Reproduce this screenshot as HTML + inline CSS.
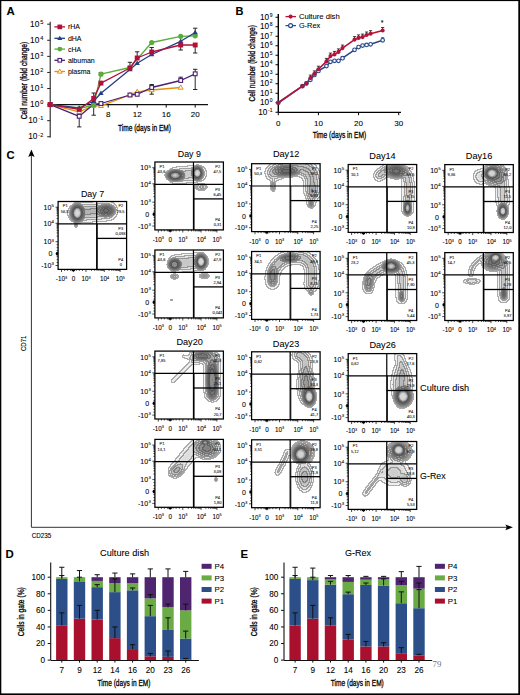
<!DOCTYPE html>
<html><head><meta charset="utf-8"><style>
html,body{margin:0;padding:0;background:#fff;}
svg{display:block;font-family:"Liberation Sans", sans-serif;}
</style></head><body>
<svg width="520" height="695" viewBox="0 0 520 695">
<defs><radialGradient id="rp"><stop offset="0" stop-opacity="1"/><stop offset="0.3" stop-opacity="0.96"/><stop offset="0.5" stop-opacity="0.8"/><stop offset="0.75" stop-opacity="0.4"/><stop offset="1" stop-opacity="0"/></radialGradient><radialGradient id="rg"><stop offset="0" stop-opacity="1"/><stop offset="0.3" stop-opacity="0.92"/><stop offset="0.55" stop-opacity="0.62"/><stop offset="0.8" stop-opacity="0.25"/><stop offset="1" stop-opacity="0"/></radialGradient><filter id="cf1" filterUnits="userSpaceOnUse" x="58.10" y="201.50" width="68.50" height="67.90" color-interpolation-filters="sRGB"><feGaussianBlur stdDeviation="0.6"/><feColorMatrix type="matrix" values="0 0 0 1 0  0 0 0 1 0  0 0 0 1 0  0 0 0 0 1" result="dens"/><feComponentTransfer in="dens" result="q"><feFuncR type="discrete" tableValues="0.0000 0.0000 0.0000 0.0000 0.0000 0.1250 0.1250 0.1250 0.1250 0.1250 0.1250 0.1250 0.1250 0.1250 0.1250 0.1250 0.1250 0.1250 0.1250 0.1250 0.1250 0.1250 0.1250 0.1250 0.2500 0.2500 0.2500 0.2500 0.2500 0.2500 0.2500 0.2500 0.2500 0.2500 0.2500 0.2500 0.2500 0.2500 0.2500 0.2500 0.2500 0.2500 0.2500 0.2500 0.2500 0.2500 0.2500 0.2500 0.3750 0.3750 0.3750 0.3750 0.3750 0.3750 0.3750 0.3750 0.3750 0.3750 0.3750 0.3750 0.3750 0.3750 0.3750 0.3750 0.3750 0.3750 0.3750 0.3750 0.3750 0.3750 0.3750 0.3750 0.3750 0.3750 0.3750 0.3750 0.5000 0.5000 0.5000 0.5000 0.5000 0.5000 0.5000 0.5000 0.5000 0.5000 0.5000 0.5000 0.5000 0.5000 0.5000 0.5000 0.5000 0.5000 0.5000 0.5000 0.5000 0.5000 0.5000 0.5000 0.5000 0.5000 0.5000 0.5000 0.6250 0.6250 0.6250 0.6250 0.6250 0.6250 0.6250 0.6250 0.6250 0.6250 0.6250 0.6250 0.6250 0.6250 0.6250 0.6250 0.6250 0.6250 0.6250 0.6250 0.6250 0.6250 0.6250 0.6250 0.6250 0.6250 0.6250 0.6250 0.7500 0.7500 0.7500 0.7500 0.7500 0.7500 0.7500 0.7500 0.7500 0.7500 0.7500 0.7500 0.7500 0.7500 0.7500 0.7500 0.7500 0.7500 0.7500 0.7500 0.7500 0.7500 0.7500 0.7500 0.7500 0.7500 0.7500 0.7500 0.8750 0.8750 0.8750 0.8750 0.8750 0.8750 0.8750 0.8750 0.8750 0.8750 0.8750 0.8750 0.8750 0.8750 0.8750 0.8750 0.8750 0.8750 0.8750 0.8750 0.8750 0.8750 0.8750 0.8750 1.0000 1.0000 1.0000 1.0000 1.0000 1.0000 1.0000 1.0000 1.0000 1.0000 1.0000 1.0000 1.0000 1.0000 1.0000 1.0000"/><feFuncG type="discrete" tableValues="0.0000 0.0000 0.0000 0.0000 0.0000 0.1250 0.1250 0.1250 0.1250 0.1250 0.1250 0.1250 0.1250 0.1250 0.1250 0.1250 0.1250 0.1250 0.1250 0.1250 0.1250 0.1250 0.1250 0.1250 0.2500 0.2500 0.2500 0.2500 0.2500 0.2500 0.2500 0.2500 0.2500 0.2500 0.2500 0.2500 0.2500 0.2500 0.2500 0.2500 0.2500 0.2500 0.2500 0.2500 0.2500 0.2500 0.2500 0.2500 0.3750 0.3750 0.3750 0.3750 0.3750 0.3750 0.3750 0.3750 0.3750 0.3750 0.3750 0.3750 0.3750 0.3750 0.3750 0.3750 0.3750 0.3750 0.3750 0.3750 0.3750 0.3750 0.3750 0.3750 0.3750 0.3750 0.3750 0.3750 0.5000 0.5000 0.5000 0.5000 0.5000 0.5000 0.5000 0.5000 0.5000 0.5000 0.5000 0.5000 0.5000 0.5000 0.5000 0.5000 0.5000 0.5000 0.5000 0.5000 0.5000 0.5000 0.5000 0.5000 0.5000 0.5000 0.5000 0.5000 0.6250 0.6250 0.6250 0.6250 0.6250 0.6250 0.6250 0.6250 0.6250 0.6250 0.6250 0.6250 0.6250 0.6250 0.6250 0.6250 0.6250 0.6250 0.6250 0.6250 0.6250 0.6250 0.6250 0.6250 0.6250 0.6250 0.6250 0.6250 0.7500 0.7500 0.7500 0.7500 0.7500 0.7500 0.7500 0.7500 0.7500 0.7500 0.7500 0.7500 0.7500 0.7500 0.7500 0.7500 0.7500 0.7500 0.7500 0.7500 0.7500 0.7500 0.7500 0.7500 0.7500 0.7500 0.7500 0.7500 0.8750 0.8750 0.8750 0.8750 0.8750 0.8750 0.8750 0.8750 0.8750 0.8750 0.8750 0.8750 0.8750 0.8750 0.8750 0.8750 0.8750 0.8750 0.8750 0.8750 0.8750 0.8750 0.8750 0.8750 1.0000 1.0000 1.0000 1.0000 1.0000 1.0000 1.0000 1.0000 1.0000 1.0000 1.0000 1.0000 1.0000 1.0000 1.0000 1.0000"/><feFuncB type="discrete" tableValues="0.0000 0.0000 0.0000 0.0000 0.0000 0.1250 0.1250 0.1250 0.1250 0.1250 0.1250 0.1250 0.1250 0.1250 0.1250 0.1250 0.1250 0.1250 0.1250 0.1250 0.1250 0.1250 0.1250 0.1250 0.2500 0.2500 0.2500 0.2500 0.2500 0.2500 0.2500 0.2500 0.2500 0.2500 0.2500 0.2500 0.2500 0.2500 0.2500 0.2500 0.2500 0.2500 0.2500 0.2500 0.2500 0.2500 0.2500 0.2500 0.3750 0.3750 0.3750 0.3750 0.3750 0.3750 0.3750 0.3750 0.3750 0.3750 0.3750 0.3750 0.3750 0.3750 0.3750 0.3750 0.3750 0.3750 0.3750 0.3750 0.3750 0.3750 0.3750 0.3750 0.3750 0.3750 0.3750 0.3750 0.5000 0.5000 0.5000 0.5000 0.5000 0.5000 0.5000 0.5000 0.5000 0.5000 0.5000 0.5000 0.5000 0.5000 0.5000 0.5000 0.5000 0.5000 0.5000 0.5000 0.5000 0.5000 0.5000 0.5000 0.5000 0.5000 0.5000 0.5000 0.6250 0.6250 0.6250 0.6250 0.6250 0.6250 0.6250 0.6250 0.6250 0.6250 0.6250 0.6250 0.6250 0.6250 0.6250 0.6250 0.6250 0.6250 0.6250 0.6250 0.6250 0.6250 0.6250 0.6250 0.6250 0.6250 0.6250 0.6250 0.7500 0.7500 0.7500 0.7500 0.7500 0.7500 0.7500 0.7500 0.7500 0.7500 0.7500 0.7500 0.7500 0.7500 0.7500 0.7500 0.7500 0.7500 0.7500 0.7500 0.7500 0.7500 0.7500 0.7500 0.7500 0.7500 0.7500 0.7500 0.8750 0.8750 0.8750 0.8750 0.8750 0.8750 0.8750 0.8750 0.8750 0.8750 0.8750 0.8750 0.8750 0.8750 0.8750 0.8750 0.8750 0.8750 0.8750 0.8750 0.8750 0.8750 0.8750 0.8750 1.0000 1.0000 1.0000 1.0000 1.0000 1.0000 1.0000 1.0000 1.0000 1.0000 1.0000 1.0000 1.0000 1.0000 1.0000 1.0000"/></feComponentTransfer><feMorphology in="q" operator="erode" radius="0.5" result="qe"/><feComposite in="q" in2="qe" operator="arithmetic" k2="8" k3="-8" result="edge0"/><feComponentTransfer in="dens" result="inv"><feFuncR type="linear" slope="-0.9" intercept="1.05"/><feFuncG type="linear" slope="-0.9" intercept="1.05"/><feFuncB type="linear" slope="-0.9" intercept="1.05"/></feComponentTransfer><feComposite in="edge0" in2="inv" operator="arithmetic" k1="1" result="edge"/><feComponentTransfer in="dens" result="fill"><feFuncR type="table" tableValues="1.000 1.000 1.000 1.000 1.000 1.000 1.000 0.975 0.968 0.966 0.964 0.962 0.959 0.957 0.955 0.953 0.951 0.948 0.946 0.944 0.942 0.940 0.937 0.935 0.933 0.931 0.929 0.926 0.924 0.922 0.920 0.917 0.915 0.913 0.911 0.909 0.906 0.904 0.902 0.900 0.898 0.895 0.893 0.891 0.889 0.887 0.884 0.882 0.880 0.877 0.873 0.870 0.867 0.863 0.860 0.857 0.853 0.850 0.847 0.843 0.840 0.837 0.833 0.830 0.827 0.823 0.820 0.817 0.813 0.810 0.807 0.803 0.800 0.797 0.793 0.790 0.787 0.783 0.780 0.777 0.773 0.770 0.767 0.763 0.760 0.757 0.753 0.750 0.747 0.743 0.740 0.737 0.733 0.730 0.727 0.723 0.720 0.717 0.714 0.711 0.708 0.705 0.703 0.700 0.697 0.694 0.691 0.688 0.685 0.682 0.679 0.676 0.673 0.670 0.667 0.665 0.662 0.659 0.656 0.653 0.650 0.647 0.644 0.641 0.638 0.635 0.632 0.630 0.627 0.624 0.621 0.618 0.615 0.612 0.609 0.606 0.603 0.600 0.597 0.595 0.592 0.589 0.586 0.583 0.580 0.577 0.574 0.571 0.569 0.566 0.563 0.560 0.557 0.554 0.551 0.548 0.546 0.543 0.540 0.537 0.534 0.531 0.528 0.526 0.523 0.520 0.517 0.514 0.511 0.508 0.506 0.503 0.500 0.497 0.494 0.491 0.488 0.485 0.483 0.480 0.477 0.474 0.471 0.469 0.467 0.465 0.462 0.460 0.458 0.456 0.454 0.452 0.450 0.448 0.446 0.444 0.442 0.440 0.438 0.435 0.433 0.431 0.429 0.427 0.425 0.423 0.421 0.427 0.438 0.449 0.460 0.471 0.482 0.493 0.504 0.516 0.527 0.538 0.549 0.560 0.571 0.585 0.608 0.630 0.653 0.676 0.699 0.722 0.745 0.768 0.791 0.804 0.810 0.816 0.823 0.829 0.835 0.841 0.848 0.854 0.860"/><feFuncG type="table" tableValues="1.000 1.000 1.000 1.000 1.000 1.000 1.000 0.975 0.968 0.966 0.964 0.962 0.959 0.957 0.955 0.953 0.951 0.948 0.946 0.944 0.942 0.940 0.937 0.935 0.933 0.931 0.929 0.926 0.924 0.922 0.920 0.917 0.915 0.913 0.911 0.909 0.906 0.904 0.902 0.900 0.898 0.895 0.893 0.891 0.889 0.887 0.884 0.882 0.880 0.877 0.873 0.870 0.867 0.863 0.860 0.857 0.853 0.850 0.847 0.843 0.840 0.837 0.833 0.830 0.827 0.823 0.820 0.817 0.813 0.810 0.807 0.803 0.800 0.797 0.793 0.790 0.787 0.783 0.780 0.777 0.773 0.770 0.767 0.763 0.760 0.757 0.753 0.750 0.747 0.743 0.740 0.737 0.733 0.730 0.727 0.723 0.720 0.717 0.714 0.711 0.708 0.705 0.703 0.700 0.697 0.694 0.691 0.688 0.685 0.682 0.679 0.676 0.673 0.670 0.667 0.665 0.662 0.659 0.656 0.653 0.650 0.647 0.644 0.641 0.638 0.635 0.632 0.630 0.627 0.624 0.621 0.618 0.615 0.612 0.609 0.606 0.603 0.600 0.597 0.595 0.592 0.589 0.586 0.583 0.580 0.577 0.574 0.571 0.569 0.566 0.563 0.560 0.557 0.554 0.551 0.548 0.546 0.543 0.540 0.537 0.534 0.531 0.528 0.526 0.523 0.520 0.517 0.514 0.511 0.508 0.506 0.503 0.500 0.497 0.494 0.491 0.488 0.485 0.483 0.480 0.477 0.474 0.471 0.469 0.467 0.465 0.462 0.460 0.458 0.456 0.454 0.452 0.450 0.448 0.446 0.444 0.442 0.440 0.438 0.435 0.433 0.431 0.429 0.427 0.425 0.423 0.421 0.427 0.438 0.449 0.460 0.471 0.482 0.493 0.504 0.516 0.527 0.538 0.549 0.560 0.571 0.585 0.608 0.630 0.653 0.676 0.699 0.722 0.745 0.768 0.791 0.804 0.810 0.816 0.823 0.829 0.835 0.841 0.848 0.854 0.860"/><feFuncB type="table" tableValues="1.000 1.000 1.000 1.000 1.000 1.000 1.000 0.975 0.968 0.966 0.964 0.962 0.959 0.957 0.955 0.953 0.951 0.948 0.946 0.944 0.942 0.940 0.937 0.935 0.933 0.931 0.929 0.926 0.924 0.922 0.920 0.917 0.915 0.913 0.911 0.909 0.906 0.904 0.902 0.900 0.898 0.895 0.893 0.891 0.889 0.887 0.884 0.882 0.880 0.877 0.873 0.870 0.867 0.863 0.860 0.857 0.853 0.850 0.847 0.843 0.840 0.837 0.833 0.830 0.827 0.823 0.820 0.817 0.813 0.810 0.807 0.803 0.800 0.797 0.793 0.790 0.787 0.783 0.780 0.777 0.773 0.770 0.767 0.763 0.760 0.757 0.753 0.750 0.747 0.743 0.740 0.737 0.733 0.730 0.727 0.723 0.720 0.717 0.714 0.711 0.708 0.705 0.703 0.700 0.697 0.694 0.691 0.688 0.685 0.682 0.679 0.676 0.673 0.670 0.667 0.665 0.662 0.659 0.656 0.653 0.650 0.647 0.644 0.641 0.638 0.635 0.632 0.630 0.627 0.624 0.621 0.618 0.615 0.612 0.609 0.606 0.603 0.600 0.597 0.595 0.592 0.589 0.586 0.583 0.580 0.577 0.574 0.571 0.569 0.566 0.563 0.560 0.557 0.554 0.551 0.548 0.546 0.543 0.540 0.537 0.534 0.531 0.528 0.526 0.523 0.520 0.517 0.514 0.511 0.508 0.506 0.503 0.500 0.497 0.494 0.491 0.488 0.485 0.483 0.480 0.477 0.474 0.471 0.469 0.467 0.465 0.462 0.460 0.458 0.456 0.454 0.452 0.450 0.448 0.446 0.444 0.442 0.440 0.438 0.435 0.433 0.431 0.429 0.427 0.425 0.423 0.421 0.427 0.438 0.449 0.460 0.471 0.482 0.493 0.504 0.516 0.527 0.538 0.549 0.560 0.571 0.585 0.608 0.630 0.653 0.676 0.699 0.722 0.745 0.768 0.791 0.804 0.810 0.816 0.823 0.829 0.835 0.841 0.848 0.854 0.860"/></feComponentTransfer><feComposite in="fill" in2="edge" operator="arithmetic" k2="1" k3="-0.3"/></filter><filter id="sb2" filterUnits="userSpaceOnUse" x="-40" y="-40" width="150" height="150"><feGaussianBlur stdDeviation="2"/></filter><filter id="cf2" filterUnits="userSpaceOnUse" x="154.90" y="162.00" width="68.50" height="67.90" color-interpolation-filters="sRGB"><feGaussianBlur stdDeviation="0.6"/><feColorMatrix type="matrix" values="0 0 0 1 0  0 0 0 1 0  0 0 0 1 0  0 0 0 0 1" result="dens"/><feComponentTransfer in="dens" result="q"><feFuncR type="discrete" tableValues="0.0000 0.0000 0.0000 0.0000 0.0000 0.1250 0.1250 0.1250 0.1250 0.1250 0.1250 0.1250 0.1250 0.1250 0.1250 0.1250 0.1250 0.1250 0.1250 0.1250 0.1250 0.1250 0.1250 0.1250 0.2500 0.2500 0.2500 0.2500 0.2500 0.2500 0.2500 0.2500 0.2500 0.2500 0.2500 0.2500 0.2500 0.2500 0.2500 0.2500 0.2500 0.2500 0.2500 0.2500 0.2500 0.2500 0.2500 0.2500 0.3750 0.3750 0.3750 0.3750 0.3750 0.3750 0.3750 0.3750 0.3750 0.3750 0.3750 0.3750 0.3750 0.3750 0.3750 0.3750 0.3750 0.3750 0.3750 0.3750 0.3750 0.3750 0.3750 0.3750 0.3750 0.3750 0.3750 0.3750 0.5000 0.5000 0.5000 0.5000 0.5000 0.5000 0.5000 0.5000 0.5000 0.5000 0.5000 0.5000 0.5000 0.5000 0.5000 0.5000 0.5000 0.5000 0.5000 0.5000 0.5000 0.5000 0.5000 0.5000 0.5000 0.5000 0.5000 0.5000 0.6250 0.6250 0.6250 0.6250 0.6250 0.6250 0.6250 0.6250 0.6250 0.6250 0.6250 0.6250 0.6250 0.6250 0.6250 0.6250 0.6250 0.6250 0.6250 0.6250 0.6250 0.6250 0.6250 0.6250 0.6250 0.6250 0.6250 0.6250 0.7500 0.7500 0.7500 0.7500 0.7500 0.7500 0.7500 0.7500 0.7500 0.7500 0.7500 0.7500 0.7500 0.7500 0.7500 0.7500 0.7500 0.7500 0.7500 0.7500 0.7500 0.7500 0.7500 0.7500 0.7500 0.7500 0.7500 0.7500 0.8750 0.8750 0.8750 0.8750 0.8750 0.8750 0.8750 0.8750 0.8750 0.8750 0.8750 0.8750 0.8750 0.8750 0.8750 0.8750 0.8750 0.8750 0.8750 0.8750 0.8750 0.8750 0.8750 0.8750 1.0000 1.0000 1.0000 1.0000 1.0000 1.0000 1.0000 1.0000 1.0000 1.0000 1.0000 1.0000 1.0000 1.0000 1.0000 1.0000"/><feFuncG type="discrete" tableValues="0.0000 0.0000 0.0000 0.0000 0.0000 0.1250 0.1250 0.1250 0.1250 0.1250 0.1250 0.1250 0.1250 0.1250 0.1250 0.1250 0.1250 0.1250 0.1250 0.1250 0.1250 0.1250 0.1250 0.1250 0.2500 0.2500 0.2500 0.2500 0.2500 0.2500 0.2500 0.2500 0.2500 0.2500 0.2500 0.2500 0.2500 0.2500 0.2500 0.2500 0.2500 0.2500 0.2500 0.2500 0.2500 0.2500 0.2500 0.2500 0.3750 0.3750 0.3750 0.3750 0.3750 0.3750 0.3750 0.3750 0.3750 0.3750 0.3750 0.3750 0.3750 0.3750 0.3750 0.3750 0.3750 0.3750 0.3750 0.3750 0.3750 0.3750 0.3750 0.3750 0.3750 0.3750 0.3750 0.3750 0.5000 0.5000 0.5000 0.5000 0.5000 0.5000 0.5000 0.5000 0.5000 0.5000 0.5000 0.5000 0.5000 0.5000 0.5000 0.5000 0.5000 0.5000 0.5000 0.5000 0.5000 0.5000 0.5000 0.5000 0.5000 0.5000 0.5000 0.5000 0.6250 0.6250 0.6250 0.6250 0.6250 0.6250 0.6250 0.6250 0.6250 0.6250 0.6250 0.6250 0.6250 0.6250 0.6250 0.6250 0.6250 0.6250 0.6250 0.6250 0.6250 0.6250 0.6250 0.6250 0.6250 0.6250 0.6250 0.6250 0.7500 0.7500 0.7500 0.7500 0.7500 0.7500 0.7500 0.7500 0.7500 0.7500 0.7500 0.7500 0.7500 0.7500 0.7500 0.7500 0.7500 0.7500 0.7500 0.7500 0.7500 0.7500 0.7500 0.7500 0.7500 0.7500 0.7500 0.7500 0.8750 0.8750 0.8750 0.8750 0.8750 0.8750 0.8750 0.8750 0.8750 0.8750 0.8750 0.8750 0.8750 0.8750 0.8750 0.8750 0.8750 0.8750 0.8750 0.8750 0.8750 0.8750 0.8750 0.8750 1.0000 1.0000 1.0000 1.0000 1.0000 1.0000 1.0000 1.0000 1.0000 1.0000 1.0000 1.0000 1.0000 1.0000 1.0000 1.0000"/><feFuncB type="discrete" tableValues="0.0000 0.0000 0.0000 0.0000 0.0000 0.1250 0.1250 0.1250 0.1250 0.1250 0.1250 0.1250 0.1250 0.1250 0.1250 0.1250 0.1250 0.1250 0.1250 0.1250 0.1250 0.1250 0.1250 0.1250 0.2500 0.2500 0.2500 0.2500 0.2500 0.2500 0.2500 0.2500 0.2500 0.2500 0.2500 0.2500 0.2500 0.2500 0.2500 0.2500 0.2500 0.2500 0.2500 0.2500 0.2500 0.2500 0.2500 0.2500 0.3750 0.3750 0.3750 0.3750 0.3750 0.3750 0.3750 0.3750 0.3750 0.3750 0.3750 0.3750 0.3750 0.3750 0.3750 0.3750 0.3750 0.3750 0.3750 0.3750 0.3750 0.3750 0.3750 0.3750 0.3750 0.3750 0.3750 0.3750 0.5000 0.5000 0.5000 0.5000 0.5000 0.5000 0.5000 0.5000 0.5000 0.5000 0.5000 0.5000 0.5000 0.5000 0.5000 0.5000 0.5000 0.5000 0.5000 0.5000 0.5000 0.5000 0.5000 0.5000 0.5000 0.5000 0.5000 0.5000 0.6250 0.6250 0.6250 0.6250 0.6250 0.6250 0.6250 0.6250 0.6250 0.6250 0.6250 0.6250 0.6250 0.6250 0.6250 0.6250 0.6250 0.6250 0.6250 0.6250 0.6250 0.6250 0.6250 0.6250 0.6250 0.6250 0.6250 0.6250 0.7500 0.7500 0.7500 0.7500 0.7500 0.7500 0.7500 0.7500 0.7500 0.7500 0.7500 0.7500 0.7500 0.7500 0.7500 0.7500 0.7500 0.7500 0.7500 0.7500 0.7500 0.7500 0.7500 0.7500 0.7500 0.7500 0.7500 0.7500 0.8750 0.8750 0.8750 0.8750 0.8750 0.8750 0.8750 0.8750 0.8750 0.8750 0.8750 0.8750 0.8750 0.8750 0.8750 0.8750 0.8750 0.8750 0.8750 0.8750 0.8750 0.8750 0.8750 0.8750 1.0000 1.0000 1.0000 1.0000 1.0000 1.0000 1.0000 1.0000 1.0000 1.0000 1.0000 1.0000 1.0000 1.0000 1.0000 1.0000"/></feComponentTransfer><feMorphology in="q" operator="erode" radius="0.5" result="qe"/><feComposite in="q" in2="qe" operator="arithmetic" k2="8" k3="-8" result="edge0"/><feComponentTransfer in="dens" result="inv"><feFuncR type="linear" slope="-0.9" intercept="1.05"/><feFuncG type="linear" slope="-0.9" intercept="1.05"/><feFuncB type="linear" slope="-0.9" intercept="1.05"/></feComponentTransfer><feComposite in="edge0" in2="inv" operator="arithmetic" k1="1" result="edge"/><feComponentTransfer in="dens" result="fill"><feFuncR type="table" tableValues="1.000 1.000 1.000 1.000 1.000 1.000 1.000 0.975 0.968 0.966 0.964 0.962 0.959 0.957 0.955 0.953 0.951 0.948 0.946 0.944 0.942 0.940 0.937 0.935 0.933 0.931 0.929 0.926 0.924 0.922 0.920 0.917 0.915 0.913 0.911 0.909 0.906 0.904 0.902 0.900 0.898 0.895 0.893 0.891 0.889 0.887 0.884 0.882 0.880 0.877 0.873 0.870 0.867 0.863 0.860 0.857 0.853 0.850 0.847 0.843 0.840 0.837 0.833 0.830 0.827 0.823 0.820 0.817 0.813 0.810 0.807 0.803 0.800 0.797 0.793 0.790 0.787 0.783 0.780 0.777 0.773 0.770 0.767 0.763 0.760 0.757 0.753 0.750 0.747 0.743 0.740 0.737 0.733 0.730 0.727 0.723 0.720 0.717 0.714 0.711 0.708 0.705 0.703 0.700 0.697 0.694 0.691 0.688 0.685 0.682 0.679 0.676 0.673 0.670 0.667 0.665 0.662 0.659 0.656 0.653 0.650 0.647 0.644 0.641 0.638 0.635 0.632 0.630 0.627 0.624 0.621 0.618 0.615 0.612 0.609 0.606 0.603 0.600 0.597 0.595 0.592 0.589 0.586 0.583 0.580 0.577 0.574 0.571 0.569 0.566 0.563 0.560 0.557 0.554 0.551 0.548 0.546 0.543 0.540 0.537 0.534 0.531 0.528 0.526 0.523 0.520 0.517 0.514 0.511 0.508 0.506 0.503 0.500 0.497 0.494 0.491 0.488 0.485 0.483 0.480 0.477 0.474 0.471 0.469 0.467 0.465 0.462 0.460 0.458 0.456 0.454 0.452 0.450 0.448 0.446 0.444 0.442 0.440 0.438 0.435 0.433 0.431 0.429 0.427 0.425 0.423 0.421 0.427 0.438 0.449 0.460 0.471 0.482 0.493 0.504 0.516 0.527 0.538 0.549 0.560 0.571 0.585 0.608 0.630 0.653 0.676 0.699 0.722 0.745 0.768 0.791 0.804 0.810 0.816 0.823 0.829 0.835 0.841 0.848 0.854 0.860"/><feFuncG type="table" tableValues="1.000 1.000 1.000 1.000 1.000 1.000 1.000 0.975 0.968 0.966 0.964 0.962 0.959 0.957 0.955 0.953 0.951 0.948 0.946 0.944 0.942 0.940 0.937 0.935 0.933 0.931 0.929 0.926 0.924 0.922 0.920 0.917 0.915 0.913 0.911 0.909 0.906 0.904 0.902 0.900 0.898 0.895 0.893 0.891 0.889 0.887 0.884 0.882 0.880 0.877 0.873 0.870 0.867 0.863 0.860 0.857 0.853 0.850 0.847 0.843 0.840 0.837 0.833 0.830 0.827 0.823 0.820 0.817 0.813 0.810 0.807 0.803 0.800 0.797 0.793 0.790 0.787 0.783 0.780 0.777 0.773 0.770 0.767 0.763 0.760 0.757 0.753 0.750 0.747 0.743 0.740 0.737 0.733 0.730 0.727 0.723 0.720 0.717 0.714 0.711 0.708 0.705 0.703 0.700 0.697 0.694 0.691 0.688 0.685 0.682 0.679 0.676 0.673 0.670 0.667 0.665 0.662 0.659 0.656 0.653 0.650 0.647 0.644 0.641 0.638 0.635 0.632 0.630 0.627 0.624 0.621 0.618 0.615 0.612 0.609 0.606 0.603 0.600 0.597 0.595 0.592 0.589 0.586 0.583 0.580 0.577 0.574 0.571 0.569 0.566 0.563 0.560 0.557 0.554 0.551 0.548 0.546 0.543 0.540 0.537 0.534 0.531 0.528 0.526 0.523 0.520 0.517 0.514 0.511 0.508 0.506 0.503 0.500 0.497 0.494 0.491 0.488 0.485 0.483 0.480 0.477 0.474 0.471 0.469 0.467 0.465 0.462 0.460 0.458 0.456 0.454 0.452 0.450 0.448 0.446 0.444 0.442 0.440 0.438 0.435 0.433 0.431 0.429 0.427 0.425 0.423 0.421 0.427 0.438 0.449 0.460 0.471 0.482 0.493 0.504 0.516 0.527 0.538 0.549 0.560 0.571 0.585 0.608 0.630 0.653 0.676 0.699 0.722 0.745 0.768 0.791 0.804 0.810 0.816 0.823 0.829 0.835 0.841 0.848 0.854 0.860"/><feFuncB type="table" tableValues="1.000 1.000 1.000 1.000 1.000 1.000 1.000 0.975 0.968 0.966 0.964 0.962 0.959 0.957 0.955 0.953 0.951 0.948 0.946 0.944 0.942 0.940 0.937 0.935 0.933 0.931 0.929 0.926 0.924 0.922 0.920 0.917 0.915 0.913 0.911 0.909 0.906 0.904 0.902 0.900 0.898 0.895 0.893 0.891 0.889 0.887 0.884 0.882 0.880 0.877 0.873 0.870 0.867 0.863 0.860 0.857 0.853 0.850 0.847 0.843 0.840 0.837 0.833 0.830 0.827 0.823 0.820 0.817 0.813 0.810 0.807 0.803 0.800 0.797 0.793 0.790 0.787 0.783 0.780 0.777 0.773 0.770 0.767 0.763 0.760 0.757 0.753 0.750 0.747 0.743 0.740 0.737 0.733 0.730 0.727 0.723 0.720 0.717 0.714 0.711 0.708 0.705 0.703 0.700 0.697 0.694 0.691 0.688 0.685 0.682 0.679 0.676 0.673 0.670 0.667 0.665 0.662 0.659 0.656 0.653 0.650 0.647 0.644 0.641 0.638 0.635 0.632 0.630 0.627 0.624 0.621 0.618 0.615 0.612 0.609 0.606 0.603 0.600 0.597 0.595 0.592 0.589 0.586 0.583 0.580 0.577 0.574 0.571 0.569 0.566 0.563 0.560 0.557 0.554 0.551 0.548 0.546 0.543 0.540 0.537 0.534 0.531 0.528 0.526 0.523 0.520 0.517 0.514 0.511 0.508 0.506 0.503 0.500 0.497 0.494 0.491 0.488 0.485 0.483 0.480 0.477 0.474 0.471 0.469 0.467 0.465 0.462 0.460 0.458 0.456 0.454 0.452 0.450 0.448 0.446 0.444 0.442 0.440 0.438 0.435 0.433 0.431 0.429 0.427 0.425 0.423 0.421 0.427 0.438 0.449 0.460 0.471 0.482 0.493 0.504 0.516 0.527 0.538 0.549 0.560 0.571 0.585 0.608 0.630 0.653 0.676 0.699 0.722 0.745 0.768 0.791 0.804 0.810 0.816 0.823 0.829 0.835 0.841 0.848 0.854 0.860"/></feComponentTransfer><feComposite in="fill" in2="edge" operator="arithmetic" k2="1" k3="-0.3"/></filter><filter id="cf3" filterUnits="userSpaceOnUse" x="251.60" y="163.70" width="68.50" height="67.90" color-interpolation-filters="sRGB"><feGaussianBlur stdDeviation="0.6"/><feColorMatrix type="matrix" values="0 0 0 1 0  0 0 0 1 0  0 0 0 1 0  0 0 0 0 1" result="dens"/><feComponentTransfer in="dens" result="q"><feFuncR type="discrete" tableValues="0.0000 0.0000 0.0000 0.0000 0.0000 0.1250 0.1250 0.1250 0.1250 0.1250 0.1250 0.1250 0.1250 0.1250 0.1250 0.1250 0.1250 0.1250 0.1250 0.1250 0.1250 0.1250 0.1250 0.1250 0.2500 0.2500 0.2500 0.2500 0.2500 0.2500 0.2500 0.2500 0.2500 0.2500 0.2500 0.2500 0.2500 0.2500 0.2500 0.2500 0.2500 0.2500 0.2500 0.2500 0.2500 0.2500 0.2500 0.2500 0.3750 0.3750 0.3750 0.3750 0.3750 0.3750 0.3750 0.3750 0.3750 0.3750 0.3750 0.3750 0.3750 0.3750 0.3750 0.3750 0.3750 0.3750 0.3750 0.3750 0.3750 0.3750 0.3750 0.3750 0.3750 0.3750 0.3750 0.3750 0.5000 0.5000 0.5000 0.5000 0.5000 0.5000 0.5000 0.5000 0.5000 0.5000 0.5000 0.5000 0.5000 0.5000 0.5000 0.5000 0.5000 0.5000 0.5000 0.5000 0.5000 0.5000 0.5000 0.5000 0.5000 0.5000 0.5000 0.5000 0.6250 0.6250 0.6250 0.6250 0.6250 0.6250 0.6250 0.6250 0.6250 0.6250 0.6250 0.6250 0.6250 0.6250 0.6250 0.6250 0.6250 0.6250 0.6250 0.6250 0.6250 0.6250 0.6250 0.6250 0.6250 0.6250 0.6250 0.6250 0.7500 0.7500 0.7500 0.7500 0.7500 0.7500 0.7500 0.7500 0.7500 0.7500 0.7500 0.7500 0.7500 0.7500 0.7500 0.7500 0.7500 0.7500 0.7500 0.7500 0.7500 0.7500 0.7500 0.7500 0.7500 0.7500 0.7500 0.7500 0.8750 0.8750 0.8750 0.8750 0.8750 0.8750 0.8750 0.8750 0.8750 0.8750 0.8750 0.8750 0.8750 0.8750 0.8750 0.8750 0.8750 0.8750 0.8750 0.8750 0.8750 0.8750 0.8750 0.8750 1.0000 1.0000 1.0000 1.0000 1.0000 1.0000 1.0000 1.0000 1.0000 1.0000 1.0000 1.0000 1.0000 1.0000 1.0000 1.0000"/><feFuncG type="discrete" tableValues="0.0000 0.0000 0.0000 0.0000 0.0000 0.1250 0.1250 0.1250 0.1250 0.1250 0.1250 0.1250 0.1250 0.1250 0.1250 0.1250 0.1250 0.1250 0.1250 0.1250 0.1250 0.1250 0.1250 0.1250 0.2500 0.2500 0.2500 0.2500 0.2500 0.2500 0.2500 0.2500 0.2500 0.2500 0.2500 0.2500 0.2500 0.2500 0.2500 0.2500 0.2500 0.2500 0.2500 0.2500 0.2500 0.2500 0.2500 0.2500 0.3750 0.3750 0.3750 0.3750 0.3750 0.3750 0.3750 0.3750 0.3750 0.3750 0.3750 0.3750 0.3750 0.3750 0.3750 0.3750 0.3750 0.3750 0.3750 0.3750 0.3750 0.3750 0.3750 0.3750 0.3750 0.3750 0.3750 0.3750 0.5000 0.5000 0.5000 0.5000 0.5000 0.5000 0.5000 0.5000 0.5000 0.5000 0.5000 0.5000 0.5000 0.5000 0.5000 0.5000 0.5000 0.5000 0.5000 0.5000 0.5000 0.5000 0.5000 0.5000 0.5000 0.5000 0.5000 0.5000 0.6250 0.6250 0.6250 0.6250 0.6250 0.6250 0.6250 0.6250 0.6250 0.6250 0.6250 0.6250 0.6250 0.6250 0.6250 0.6250 0.6250 0.6250 0.6250 0.6250 0.6250 0.6250 0.6250 0.6250 0.6250 0.6250 0.6250 0.6250 0.7500 0.7500 0.7500 0.7500 0.7500 0.7500 0.7500 0.7500 0.7500 0.7500 0.7500 0.7500 0.7500 0.7500 0.7500 0.7500 0.7500 0.7500 0.7500 0.7500 0.7500 0.7500 0.7500 0.7500 0.7500 0.7500 0.7500 0.7500 0.8750 0.8750 0.8750 0.8750 0.8750 0.8750 0.8750 0.8750 0.8750 0.8750 0.8750 0.8750 0.8750 0.8750 0.8750 0.8750 0.8750 0.8750 0.8750 0.8750 0.8750 0.8750 0.8750 0.8750 1.0000 1.0000 1.0000 1.0000 1.0000 1.0000 1.0000 1.0000 1.0000 1.0000 1.0000 1.0000 1.0000 1.0000 1.0000 1.0000"/><feFuncB type="discrete" tableValues="0.0000 0.0000 0.0000 0.0000 0.0000 0.1250 0.1250 0.1250 0.1250 0.1250 0.1250 0.1250 0.1250 0.1250 0.1250 0.1250 0.1250 0.1250 0.1250 0.1250 0.1250 0.1250 0.1250 0.1250 0.2500 0.2500 0.2500 0.2500 0.2500 0.2500 0.2500 0.2500 0.2500 0.2500 0.2500 0.2500 0.2500 0.2500 0.2500 0.2500 0.2500 0.2500 0.2500 0.2500 0.2500 0.2500 0.2500 0.2500 0.3750 0.3750 0.3750 0.3750 0.3750 0.3750 0.3750 0.3750 0.3750 0.3750 0.3750 0.3750 0.3750 0.3750 0.3750 0.3750 0.3750 0.3750 0.3750 0.3750 0.3750 0.3750 0.3750 0.3750 0.3750 0.3750 0.3750 0.3750 0.5000 0.5000 0.5000 0.5000 0.5000 0.5000 0.5000 0.5000 0.5000 0.5000 0.5000 0.5000 0.5000 0.5000 0.5000 0.5000 0.5000 0.5000 0.5000 0.5000 0.5000 0.5000 0.5000 0.5000 0.5000 0.5000 0.5000 0.5000 0.6250 0.6250 0.6250 0.6250 0.6250 0.6250 0.6250 0.6250 0.6250 0.6250 0.6250 0.6250 0.6250 0.6250 0.6250 0.6250 0.6250 0.6250 0.6250 0.6250 0.6250 0.6250 0.6250 0.6250 0.6250 0.6250 0.6250 0.6250 0.7500 0.7500 0.7500 0.7500 0.7500 0.7500 0.7500 0.7500 0.7500 0.7500 0.7500 0.7500 0.7500 0.7500 0.7500 0.7500 0.7500 0.7500 0.7500 0.7500 0.7500 0.7500 0.7500 0.7500 0.7500 0.7500 0.7500 0.7500 0.8750 0.8750 0.8750 0.8750 0.8750 0.8750 0.8750 0.8750 0.8750 0.8750 0.8750 0.8750 0.8750 0.8750 0.8750 0.8750 0.8750 0.8750 0.8750 0.8750 0.8750 0.8750 0.8750 0.8750 1.0000 1.0000 1.0000 1.0000 1.0000 1.0000 1.0000 1.0000 1.0000 1.0000 1.0000 1.0000 1.0000 1.0000 1.0000 1.0000"/></feComponentTransfer><feMorphology in="q" operator="erode" radius="0.5" result="qe"/><feComposite in="q" in2="qe" operator="arithmetic" k2="8" k3="-8" result="edge0"/><feComponentTransfer in="dens" result="inv"><feFuncR type="linear" slope="-0.9" intercept="1.05"/><feFuncG type="linear" slope="-0.9" intercept="1.05"/><feFuncB type="linear" slope="-0.9" intercept="1.05"/></feComponentTransfer><feComposite in="edge0" in2="inv" operator="arithmetic" k1="1" result="edge"/><feComponentTransfer in="dens" result="fill"><feFuncR type="table" tableValues="1.000 1.000 1.000 1.000 1.000 1.000 1.000 0.975 0.968 0.966 0.964 0.962 0.959 0.957 0.955 0.953 0.951 0.948 0.946 0.944 0.942 0.940 0.937 0.935 0.933 0.931 0.929 0.926 0.924 0.922 0.920 0.917 0.915 0.913 0.911 0.909 0.906 0.904 0.902 0.900 0.898 0.895 0.893 0.891 0.889 0.887 0.884 0.882 0.880 0.877 0.873 0.870 0.867 0.863 0.860 0.857 0.853 0.850 0.847 0.843 0.840 0.837 0.833 0.830 0.827 0.823 0.820 0.817 0.813 0.810 0.807 0.803 0.800 0.797 0.793 0.790 0.787 0.783 0.780 0.777 0.773 0.770 0.767 0.763 0.760 0.757 0.753 0.750 0.747 0.743 0.740 0.737 0.733 0.730 0.727 0.723 0.720 0.717 0.714 0.711 0.708 0.705 0.703 0.700 0.697 0.694 0.691 0.688 0.685 0.682 0.679 0.676 0.673 0.670 0.667 0.665 0.662 0.659 0.656 0.653 0.650 0.647 0.644 0.641 0.638 0.635 0.632 0.630 0.627 0.624 0.621 0.618 0.615 0.612 0.609 0.606 0.603 0.600 0.597 0.595 0.592 0.589 0.586 0.583 0.580 0.577 0.574 0.571 0.569 0.566 0.563 0.560 0.557 0.554 0.551 0.548 0.546 0.543 0.540 0.537 0.534 0.531 0.528 0.526 0.523 0.520 0.517 0.514 0.511 0.508 0.506 0.503 0.500 0.497 0.494 0.491 0.488 0.485 0.483 0.480 0.477 0.474 0.471 0.469 0.467 0.465 0.462 0.460 0.458 0.456 0.454 0.452 0.450 0.448 0.446 0.444 0.442 0.440 0.438 0.435 0.433 0.431 0.429 0.427 0.425 0.423 0.421 0.427 0.438 0.449 0.460 0.471 0.482 0.493 0.504 0.516 0.527 0.538 0.549 0.560 0.571 0.585 0.608 0.630 0.653 0.676 0.699 0.722 0.745 0.768 0.791 0.804 0.810 0.816 0.823 0.829 0.835 0.841 0.848 0.854 0.860"/><feFuncG type="table" tableValues="1.000 1.000 1.000 1.000 1.000 1.000 1.000 0.975 0.968 0.966 0.964 0.962 0.959 0.957 0.955 0.953 0.951 0.948 0.946 0.944 0.942 0.940 0.937 0.935 0.933 0.931 0.929 0.926 0.924 0.922 0.920 0.917 0.915 0.913 0.911 0.909 0.906 0.904 0.902 0.900 0.898 0.895 0.893 0.891 0.889 0.887 0.884 0.882 0.880 0.877 0.873 0.870 0.867 0.863 0.860 0.857 0.853 0.850 0.847 0.843 0.840 0.837 0.833 0.830 0.827 0.823 0.820 0.817 0.813 0.810 0.807 0.803 0.800 0.797 0.793 0.790 0.787 0.783 0.780 0.777 0.773 0.770 0.767 0.763 0.760 0.757 0.753 0.750 0.747 0.743 0.740 0.737 0.733 0.730 0.727 0.723 0.720 0.717 0.714 0.711 0.708 0.705 0.703 0.700 0.697 0.694 0.691 0.688 0.685 0.682 0.679 0.676 0.673 0.670 0.667 0.665 0.662 0.659 0.656 0.653 0.650 0.647 0.644 0.641 0.638 0.635 0.632 0.630 0.627 0.624 0.621 0.618 0.615 0.612 0.609 0.606 0.603 0.600 0.597 0.595 0.592 0.589 0.586 0.583 0.580 0.577 0.574 0.571 0.569 0.566 0.563 0.560 0.557 0.554 0.551 0.548 0.546 0.543 0.540 0.537 0.534 0.531 0.528 0.526 0.523 0.520 0.517 0.514 0.511 0.508 0.506 0.503 0.500 0.497 0.494 0.491 0.488 0.485 0.483 0.480 0.477 0.474 0.471 0.469 0.467 0.465 0.462 0.460 0.458 0.456 0.454 0.452 0.450 0.448 0.446 0.444 0.442 0.440 0.438 0.435 0.433 0.431 0.429 0.427 0.425 0.423 0.421 0.427 0.438 0.449 0.460 0.471 0.482 0.493 0.504 0.516 0.527 0.538 0.549 0.560 0.571 0.585 0.608 0.630 0.653 0.676 0.699 0.722 0.745 0.768 0.791 0.804 0.810 0.816 0.823 0.829 0.835 0.841 0.848 0.854 0.860"/><feFuncB type="table" tableValues="1.000 1.000 1.000 1.000 1.000 1.000 1.000 0.975 0.968 0.966 0.964 0.962 0.959 0.957 0.955 0.953 0.951 0.948 0.946 0.944 0.942 0.940 0.937 0.935 0.933 0.931 0.929 0.926 0.924 0.922 0.920 0.917 0.915 0.913 0.911 0.909 0.906 0.904 0.902 0.900 0.898 0.895 0.893 0.891 0.889 0.887 0.884 0.882 0.880 0.877 0.873 0.870 0.867 0.863 0.860 0.857 0.853 0.850 0.847 0.843 0.840 0.837 0.833 0.830 0.827 0.823 0.820 0.817 0.813 0.810 0.807 0.803 0.800 0.797 0.793 0.790 0.787 0.783 0.780 0.777 0.773 0.770 0.767 0.763 0.760 0.757 0.753 0.750 0.747 0.743 0.740 0.737 0.733 0.730 0.727 0.723 0.720 0.717 0.714 0.711 0.708 0.705 0.703 0.700 0.697 0.694 0.691 0.688 0.685 0.682 0.679 0.676 0.673 0.670 0.667 0.665 0.662 0.659 0.656 0.653 0.650 0.647 0.644 0.641 0.638 0.635 0.632 0.630 0.627 0.624 0.621 0.618 0.615 0.612 0.609 0.606 0.603 0.600 0.597 0.595 0.592 0.589 0.586 0.583 0.580 0.577 0.574 0.571 0.569 0.566 0.563 0.560 0.557 0.554 0.551 0.548 0.546 0.543 0.540 0.537 0.534 0.531 0.528 0.526 0.523 0.520 0.517 0.514 0.511 0.508 0.506 0.503 0.500 0.497 0.494 0.491 0.488 0.485 0.483 0.480 0.477 0.474 0.471 0.469 0.467 0.465 0.462 0.460 0.458 0.456 0.454 0.452 0.450 0.448 0.446 0.444 0.442 0.440 0.438 0.435 0.433 0.431 0.429 0.427 0.425 0.423 0.421 0.427 0.438 0.449 0.460 0.471 0.482 0.493 0.504 0.516 0.527 0.538 0.549 0.560 0.571 0.585 0.608 0.630 0.653 0.676 0.699 0.722 0.745 0.768 0.791 0.804 0.810 0.816 0.823 0.829 0.835 0.841 0.848 0.854 0.860"/></feComponentTransfer><feComposite in="fill" in2="edge" operator="arithmetic" k2="1" k3="-0.3"/></filter><filter id="sb2_5" filterUnits="userSpaceOnUse" x="-40" y="-40" width="150" height="150"><feGaussianBlur stdDeviation="2.5"/></filter><filter id="cf4" filterUnits="userSpaceOnUse" x="348.20" y="164.50" width="68.50" height="67.90" color-interpolation-filters="sRGB"><feGaussianBlur stdDeviation="0.6"/><feColorMatrix type="matrix" values="0 0 0 1 0  0 0 0 1 0  0 0 0 1 0  0 0 0 0 1" result="dens"/><feComponentTransfer in="dens" result="q"><feFuncR type="discrete" tableValues="0.0000 0.0000 0.0000 0.0000 0.0000 0.1250 0.1250 0.1250 0.1250 0.1250 0.1250 0.1250 0.1250 0.1250 0.1250 0.1250 0.1250 0.1250 0.1250 0.1250 0.1250 0.1250 0.1250 0.1250 0.2500 0.2500 0.2500 0.2500 0.2500 0.2500 0.2500 0.2500 0.2500 0.2500 0.2500 0.2500 0.2500 0.2500 0.2500 0.2500 0.2500 0.2500 0.2500 0.2500 0.2500 0.2500 0.2500 0.2500 0.3750 0.3750 0.3750 0.3750 0.3750 0.3750 0.3750 0.3750 0.3750 0.3750 0.3750 0.3750 0.3750 0.3750 0.3750 0.3750 0.3750 0.3750 0.3750 0.3750 0.3750 0.3750 0.3750 0.3750 0.3750 0.3750 0.3750 0.3750 0.5000 0.5000 0.5000 0.5000 0.5000 0.5000 0.5000 0.5000 0.5000 0.5000 0.5000 0.5000 0.5000 0.5000 0.5000 0.5000 0.5000 0.5000 0.5000 0.5000 0.5000 0.5000 0.5000 0.5000 0.5000 0.5000 0.5000 0.5000 0.6250 0.6250 0.6250 0.6250 0.6250 0.6250 0.6250 0.6250 0.6250 0.6250 0.6250 0.6250 0.6250 0.6250 0.6250 0.6250 0.6250 0.6250 0.6250 0.6250 0.6250 0.6250 0.6250 0.6250 0.6250 0.6250 0.6250 0.6250 0.7500 0.7500 0.7500 0.7500 0.7500 0.7500 0.7500 0.7500 0.7500 0.7500 0.7500 0.7500 0.7500 0.7500 0.7500 0.7500 0.7500 0.7500 0.7500 0.7500 0.7500 0.7500 0.7500 0.7500 0.7500 0.7500 0.7500 0.7500 0.8750 0.8750 0.8750 0.8750 0.8750 0.8750 0.8750 0.8750 0.8750 0.8750 0.8750 0.8750 0.8750 0.8750 0.8750 0.8750 0.8750 0.8750 0.8750 0.8750 0.8750 0.8750 0.8750 0.8750 1.0000 1.0000 1.0000 1.0000 1.0000 1.0000 1.0000 1.0000 1.0000 1.0000 1.0000 1.0000 1.0000 1.0000 1.0000 1.0000"/><feFuncG type="discrete" tableValues="0.0000 0.0000 0.0000 0.0000 0.0000 0.1250 0.1250 0.1250 0.1250 0.1250 0.1250 0.1250 0.1250 0.1250 0.1250 0.1250 0.1250 0.1250 0.1250 0.1250 0.1250 0.1250 0.1250 0.1250 0.2500 0.2500 0.2500 0.2500 0.2500 0.2500 0.2500 0.2500 0.2500 0.2500 0.2500 0.2500 0.2500 0.2500 0.2500 0.2500 0.2500 0.2500 0.2500 0.2500 0.2500 0.2500 0.2500 0.2500 0.3750 0.3750 0.3750 0.3750 0.3750 0.3750 0.3750 0.3750 0.3750 0.3750 0.3750 0.3750 0.3750 0.3750 0.3750 0.3750 0.3750 0.3750 0.3750 0.3750 0.3750 0.3750 0.3750 0.3750 0.3750 0.3750 0.3750 0.3750 0.5000 0.5000 0.5000 0.5000 0.5000 0.5000 0.5000 0.5000 0.5000 0.5000 0.5000 0.5000 0.5000 0.5000 0.5000 0.5000 0.5000 0.5000 0.5000 0.5000 0.5000 0.5000 0.5000 0.5000 0.5000 0.5000 0.5000 0.5000 0.6250 0.6250 0.6250 0.6250 0.6250 0.6250 0.6250 0.6250 0.6250 0.6250 0.6250 0.6250 0.6250 0.6250 0.6250 0.6250 0.6250 0.6250 0.6250 0.6250 0.6250 0.6250 0.6250 0.6250 0.6250 0.6250 0.6250 0.6250 0.7500 0.7500 0.7500 0.7500 0.7500 0.7500 0.7500 0.7500 0.7500 0.7500 0.7500 0.7500 0.7500 0.7500 0.7500 0.7500 0.7500 0.7500 0.7500 0.7500 0.7500 0.7500 0.7500 0.7500 0.7500 0.7500 0.7500 0.7500 0.8750 0.8750 0.8750 0.8750 0.8750 0.8750 0.8750 0.8750 0.8750 0.8750 0.8750 0.8750 0.8750 0.8750 0.8750 0.8750 0.8750 0.8750 0.8750 0.8750 0.8750 0.8750 0.8750 0.8750 1.0000 1.0000 1.0000 1.0000 1.0000 1.0000 1.0000 1.0000 1.0000 1.0000 1.0000 1.0000 1.0000 1.0000 1.0000 1.0000"/><feFuncB type="discrete" tableValues="0.0000 0.0000 0.0000 0.0000 0.0000 0.1250 0.1250 0.1250 0.1250 0.1250 0.1250 0.1250 0.1250 0.1250 0.1250 0.1250 0.1250 0.1250 0.1250 0.1250 0.1250 0.1250 0.1250 0.1250 0.2500 0.2500 0.2500 0.2500 0.2500 0.2500 0.2500 0.2500 0.2500 0.2500 0.2500 0.2500 0.2500 0.2500 0.2500 0.2500 0.2500 0.2500 0.2500 0.2500 0.2500 0.2500 0.2500 0.2500 0.3750 0.3750 0.3750 0.3750 0.3750 0.3750 0.3750 0.3750 0.3750 0.3750 0.3750 0.3750 0.3750 0.3750 0.3750 0.3750 0.3750 0.3750 0.3750 0.3750 0.3750 0.3750 0.3750 0.3750 0.3750 0.3750 0.3750 0.3750 0.5000 0.5000 0.5000 0.5000 0.5000 0.5000 0.5000 0.5000 0.5000 0.5000 0.5000 0.5000 0.5000 0.5000 0.5000 0.5000 0.5000 0.5000 0.5000 0.5000 0.5000 0.5000 0.5000 0.5000 0.5000 0.5000 0.5000 0.5000 0.6250 0.6250 0.6250 0.6250 0.6250 0.6250 0.6250 0.6250 0.6250 0.6250 0.6250 0.6250 0.6250 0.6250 0.6250 0.6250 0.6250 0.6250 0.6250 0.6250 0.6250 0.6250 0.6250 0.6250 0.6250 0.6250 0.6250 0.6250 0.7500 0.7500 0.7500 0.7500 0.7500 0.7500 0.7500 0.7500 0.7500 0.7500 0.7500 0.7500 0.7500 0.7500 0.7500 0.7500 0.7500 0.7500 0.7500 0.7500 0.7500 0.7500 0.7500 0.7500 0.7500 0.7500 0.7500 0.7500 0.8750 0.8750 0.8750 0.8750 0.8750 0.8750 0.8750 0.8750 0.8750 0.8750 0.8750 0.8750 0.8750 0.8750 0.8750 0.8750 0.8750 0.8750 0.8750 0.8750 0.8750 0.8750 0.8750 0.8750 1.0000 1.0000 1.0000 1.0000 1.0000 1.0000 1.0000 1.0000 1.0000 1.0000 1.0000 1.0000 1.0000 1.0000 1.0000 1.0000"/></feComponentTransfer><feMorphology in="q" operator="erode" radius="0.5" result="qe"/><feComposite in="q" in2="qe" operator="arithmetic" k2="8" k3="-8" result="edge0"/><feComponentTransfer in="dens" result="inv"><feFuncR type="linear" slope="-0.9" intercept="1.05"/><feFuncG type="linear" slope="-0.9" intercept="1.05"/><feFuncB type="linear" slope="-0.9" intercept="1.05"/></feComponentTransfer><feComposite in="edge0" in2="inv" operator="arithmetic" k1="1" result="edge"/><feComponentTransfer in="dens" result="fill"><feFuncR type="table" tableValues="1.000 1.000 1.000 1.000 1.000 1.000 1.000 0.975 0.968 0.966 0.964 0.962 0.959 0.957 0.955 0.953 0.951 0.948 0.946 0.944 0.942 0.940 0.937 0.935 0.933 0.931 0.929 0.926 0.924 0.922 0.920 0.917 0.915 0.913 0.911 0.909 0.906 0.904 0.902 0.900 0.898 0.895 0.893 0.891 0.889 0.887 0.884 0.882 0.880 0.877 0.873 0.870 0.867 0.863 0.860 0.857 0.853 0.850 0.847 0.843 0.840 0.837 0.833 0.830 0.827 0.823 0.820 0.817 0.813 0.810 0.807 0.803 0.800 0.797 0.793 0.790 0.787 0.783 0.780 0.777 0.773 0.770 0.767 0.763 0.760 0.757 0.753 0.750 0.747 0.743 0.740 0.737 0.733 0.730 0.727 0.723 0.720 0.717 0.714 0.711 0.708 0.705 0.703 0.700 0.697 0.694 0.691 0.688 0.685 0.682 0.679 0.676 0.673 0.670 0.667 0.665 0.662 0.659 0.656 0.653 0.650 0.647 0.644 0.641 0.638 0.635 0.632 0.630 0.627 0.624 0.621 0.618 0.615 0.612 0.609 0.606 0.603 0.600 0.597 0.595 0.592 0.589 0.586 0.583 0.580 0.577 0.574 0.571 0.569 0.566 0.563 0.560 0.557 0.554 0.551 0.548 0.546 0.543 0.540 0.537 0.534 0.531 0.528 0.526 0.523 0.520 0.517 0.514 0.511 0.508 0.506 0.503 0.500 0.497 0.494 0.491 0.488 0.485 0.483 0.480 0.477 0.474 0.471 0.469 0.467 0.465 0.462 0.460 0.458 0.456 0.454 0.452 0.450 0.448 0.446 0.444 0.442 0.440 0.438 0.435 0.433 0.431 0.429 0.427 0.425 0.423 0.421 0.427 0.438 0.449 0.460 0.471 0.482 0.493 0.504 0.516 0.527 0.538 0.549 0.560 0.571 0.585 0.608 0.630 0.653 0.676 0.699 0.722 0.745 0.768 0.791 0.804 0.810 0.816 0.823 0.829 0.835 0.841 0.848 0.854 0.860"/><feFuncG type="table" tableValues="1.000 1.000 1.000 1.000 1.000 1.000 1.000 0.975 0.968 0.966 0.964 0.962 0.959 0.957 0.955 0.953 0.951 0.948 0.946 0.944 0.942 0.940 0.937 0.935 0.933 0.931 0.929 0.926 0.924 0.922 0.920 0.917 0.915 0.913 0.911 0.909 0.906 0.904 0.902 0.900 0.898 0.895 0.893 0.891 0.889 0.887 0.884 0.882 0.880 0.877 0.873 0.870 0.867 0.863 0.860 0.857 0.853 0.850 0.847 0.843 0.840 0.837 0.833 0.830 0.827 0.823 0.820 0.817 0.813 0.810 0.807 0.803 0.800 0.797 0.793 0.790 0.787 0.783 0.780 0.777 0.773 0.770 0.767 0.763 0.760 0.757 0.753 0.750 0.747 0.743 0.740 0.737 0.733 0.730 0.727 0.723 0.720 0.717 0.714 0.711 0.708 0.705 0.703 0.700 0.697 0.694 0.691 0.688 0.685 0.682 0.679 0.676 0.673 0.670 0.667 0.665 0.662 0.659 0.656 0.653 0.650 0.647 0.644 0.641 0.638 0.635 0.632 0.630 0.627 0.624 0.621 0.618 0.615 0.612 0.609 0.606 0.603 0.600 0.597 0.595 0.592 0.589 0.586 0.583 0.580 0.577 0.574 0.571 0.569 0.566 0.563 0.560 0.557 0.554 0.551 0.548 0.546 0.543 0.540 0.537 0.534 0.531 0.528 0.526 0.523 0.520 0.517 0.514 0.511 0.508 0.506 0.503 0.500 0.497 0.494 0.491 0.488 0.485 0.483 0.480 0.477 0.474 0.471 0.469 0.467 0.465 0.462 0.460 0.458 0.456 0.454 0.452 0.450 0.448 0.446 0.444 0.442 0.440 0.438 0.435 0.433 0.431 0.429 0.427 0.425 0.423 0.421 0.427 0.438 0.449 0.460 0.471 0.482 0.493 0.504 0.516 0.527 0.538 0.549 0.560 0.571 0.585 0.608 0.630 0.653 0.676 0.699 0.722 0.745 0.768 0.791 0.804 0.810 0.816 0.823 0.829 0.835 0.841 0.848 0.854 0.860"/><feFuncB type="table" tableValues="1.000 1.000 1.000 1.000 1.000 1.000 1.000 0.975 0.968 0.966 0.964 0.962 0.959 0.957 0.955 0.953 0.951 0.948 0.946 0.944 0.942 0.940 0.937 0.935 0.933 0.931 0.929 0.926 0.924 0.922 0.920 0.917 0.915 0.913 0.911 0.909 0.906 0.904 0.902 0.900 0.898 0.895 0.893 0.891 0.889 0.887 0.884 0.882 0.880 0.877 0.873 0.870 0.867 0.863 0.860 0.857 0.853 0.850 0.847 0.843 0.840 0.837 0.833 0.830 0.827 0.823 0.820 0.817 0.813 0.810 0.807 0.803 0.800 0.797 0.793 0.790 0.787 0.783 0.780 0.777 0.773 0.770 0.767 0.763 0.760 0.757 0.753 0.750 0.747 0.743 0.740 0.737 0.733 0.730 0.727 0.723 0.720 0.717 0.714 0.711 0.708 0.705 0.703 0.700 0.697 0.694 0.691 0.688 0.685 0.682 0.679 0.676 0.673 0.670 0.667 0.665 0.662 0.659 0.656 0.653 0.650 0.647 0.644 0.641 0.638 0.635 0.632 0.630 0.627 0.624 0.621 0.618 0.615 0.612 0.609 0.606 0.603 0.600 0.597 0.595 0.592 0.589 0.586 0.583 0.580 0.577 0.574 0.571 0.569 0.566 0.563 0.560 0.557 0.554 0.551 0.548 0.546 0.543 0.540 0.537 0.534 0.531 0.528 0.526 0.523 0.520 0.517 0.514 0.511 0.508 0.506 0.503 0.500 0.497 0.494 0.491 0.488 0.485 0.483 0.480 0.477 0.474 0.471 0.469 0.467 0.465 0.462 0.460 0.458 0.456 0.454 0.452 0.450 0.448 0.446 0.444 0.442 0.440 0.438 0.435 0.433 0.431 0.429 0.427 0.425 0.423 0.421 0.427 0.438 0.449 0.460 0.471 0.482 0.493 0.504 0.516 0.527 0.538 0.549 0.560 0.571 0.585 0.608 0.630 0.653 0.676 0.699 0.722 0.745 0.768 0.791 0.804 0.810 0.816 0.823 0.829 0.835 0.841 0.848 0.854 0.860"/></feComponentTransfer><feComposite in="fill" in2="edge" operator="arithmetic" k2="1" k3="-0.3"/></filter><filter id="sb2_2" filterUnits="userSpaceOnUse" x="-40" y="-40" width="150" height="150"><feGaussianBlur stdDeviation="2.2"/></filter><filter id="cf5" filterUnits="userSpaceOnUse" x="444.80" y="164.60" width="68.50" height="67.90" color-interpolation-filters="sRGB"><feGaussianBlur stdDeviation="0.6"/><feColorMatrix type="matrix" values="0 0 0 1 0  0 0 0 1 0  0 0 0 1 0  0 0 0 0 1" result="dens"/><feComponentTransfer in="dens" result="q"><feFuncR type="discrete" tableValues="0.0000 0.0000 0.0000 0.0000 0.0000 0.1250 0.1250 0.1250 0.1250 0.1250 0.1250 0.1250 0.1250 0.1250 0.1250 0.1250 0.1250 0.1250 0.1250 0.1250 0.1250 0.1250 0.1250 0.1250 0.2500 0.2500 0.2500 0.2500 0.2500 0.2500 0.2500 0.2500 0.2500 0.2500 0.2500 0.2500 0.2500 0.2500 0.2500 0.2500 0.2500 0.2500 0.2500 0.2500 0.2500 0.2500 0.2500 0.2500 0.3750 0.3750 0.3750 0.3750 0.3750 0.3750 0.3750 0.3750 0.3750 0.3750 0.3750 0.3750 0.3750 0.3750 0.3750 0.3750 0.3750 0.3750 0.3750 0.3750 0.3750 0.3750 0.3750 0.3750 0.3750 0.3750 0.3750 0.3750 0.5000 0.5000 0.5000 0.5000 0.5000 0.5000 0.5000 0.5000 0.5000 0.5000 0.5000 0.5000 0.5000 0.5000 0.5000 0.5000 0.5000 0.5000 0.5000 0.5000 0.5000 0.5000 0.5000 0.5000 0.5000 0.5000 0.5000 0.5000 0.6250 0.6250 0.6250 0.6250 0.6250 0.6250 0.6250 0.6250 0.6250 0.6250 0.6250 0.6250 0.6250 0.6250 0.6250 0.6250 0.6250 0.6250 0.6250 0.6250 0.6250 0.6250 0.6250 0.6250 0.6250 0.6250 0.6250 0.6250 0.7500 0.7500 0.7500 0.7500 0.7500 0.7500 0.7500 0.7500 0.7500 0.7500 0.7500 0.7500 0.7500 0.7500 0.7500 0.7500 0.7500 0.7500 0.7500 0.7500 0.7500 0.7500 0.7500 0.7500 0.7500 0.7500 0.7500 0.7500 0.8750 0.8750 0.8750 0.8750 0.8750 0.8750 0.8750 0.8750 0.8750 0.8750 0.8750 0.8750 0.8750 0.8750 0.8750 0.8750 0.8750 0.8750 0.8750 0.8750 0.8750 0.8750 0.8750 0.8750 1.0000 1.0000 1.0000 1.0000 1.0000 1.0000 1.0000 1.0000 1.0000 1.0000 1.0000 1.0000 1.0000 1.0000 1.0000 1.0000"/><feFuncG type="discrete" tableValues="0.0000 0.0000 0.0000 0.0000 0.0000 0.1250 0.1250 0.1250 0.1250 0.1250 0.1250 0.1250 0.1250 0.1250 0.1250 0.1250 0.1250 0.1250 0.1250 0.1250 0.1250 0.1250 0.1250 0.1250 0.2500 0.2500 0.2500 0.2500 0.2500 0.2500 0.2500 0.2500 0.2500 0.2500 0.2500 0.2500 0.2500 0.2500 0.2500 0.2500 0.2500 0.2500 0.2500 0.2500 0.2500 0.2500 0.2500 0.2500 0.3750 0.3750 0.3750 0.3750 0.3750 0.3750 0.3750 0.3750 0.3750 0.3750 0.3750 0.3750 0.3750 0.3750 0.3750 0.3750 0.3750 0.3750 0.3750 0.3750 0.3750 0.3750 0.3750 0.3750 0.3750 0.3750 0.3750 0.3750 0.5000 0.5000 0.5000 0.5000 0.5000 0.5000 0.5000 0.5000 0.5000 0.5000 0.5000 0.5000 0.5000 0.5000 0.5000 0.5000 0.5000 0.5000 0.5000 0.5000 0.5000 0.5000 0.5000 0.5000 0.5000 0.5000 0.5000 0.5000 0.6250 0.6250 0.6250 0.6250 0.6250 0.6250 0.6250 0.6250 0.6250 0.6250 0.6250 0.6250 0.6250 0.6250 0.6250 0.6250 0.6250 0.6250 0.6250 0.6250 0.6250 0.6250 0.6250 0.6250 0.6250 0.6250 0.6250 0.6250 0.7500 0.7500 0.7500 0.7500 0.7500 0.7500 0.7500 0.7500 0.7500 0.7500 0.7500 0.7500 0.7500 0.7500 0.7500 0.7500 0.7500 0.7500 0.7500 0.7500 0.7500 0.7500 0.7500 0.7500 0.7500 0.7500 0.7500 0.7500 0.8750 0.8750 0.8750 0.8750 0.8750 0.8750 0.8750 0.8750 0.8750 0.8750 0.8750 0.8750 0.8750 0.8750 0.8750 0.8750 0.8750 0.8750 0.8750 0.8750 0.8750 0.8750 0.8750 0.8750 1.0000 1.0000 1.0000 1.0000 1.0000 1.0000 1.0000 1.0000 1.0000 1.0000 1.0000 1.0000 1.0000 1.0000 1.0000 1.0000"/><feFuncB type="discrete" tableValues="0.0000 0.0000 0.0000 0.0000 0.0000 0.1250 0.1250 0.1250 0.1250 0.1250 0.1250 0.1250 0.1250 0.1250 0.1250 0.1250 0.1250 0.1250 0.1250 0.1250 0.1250 0.1250 0.1250 0.1250 0.2500 0.2500 0.2500 0.2500 0.2500 0.2500 0.2500 0.2500 0.2500 0.2500 0.2500 0.2500 0.2500 0.2500 0.2500 0.2500 0.2500 0.2500 0.2500 0.2500 0.2500 0.2500 0.2500 0.2500 0.3750 0.3750 0.3750 0.3750 0.3750 0.3750 0.3750 0.3750 0.3750 0.3750 0.3750 0.3750 0.3750 0.3750 0.3750 0.3750 0.3750 0.3750 0.3750 0.3750 0.3750 0.3750 0.3750 0.3750 0.3750 0.3750 0.3750 0.3750 0.5000 0.5000 0.5000 0.5000 0.5000 0.5000 0.5000 0.5000 0.5000 0.5000 0.5000 0.5000 0.5000 0.5000 0.5000 0.5000 0.5000 0.5000 0.5000 0.5000 0.5000 0.5000 0.5000 0.5000 0.5000 0.5000 0.5000 0.5000 0.6250 0.6250 0.6250 0.6250 0.6250 0.6250 0.6250 0.6250 0.6250 0.6250 0.6250 0.6250 0.6250 0.6250 0.6250 0.6250 0.6250 0.6250 0.6250 0.6250 0.6250 0.6250 0.6250 0.6250 0.6250 0.6250 0.6250 0.6250 0.7500 0.7500 0.7500 0.7500 0.7500 0.7500 0.7500 0.7500 0.7500 0.7500 0.7500 0.7500 0.7500 0.7500 0.7500 0.7500 0.7500 0.7500 0.7500 0.7500 0.7500 0.7500 0.7500 0.7500 0.7500 0.7500 0.7500 0.7500 0.8750 0.8750 0.8750 0.8750 0.8750 0.8750 0.8750 0.8750 0.8750 0.8750 0.8750 0.8750 0.8750 0.8750 0.8750 0.8750 0.8750 0.8750 0.8750 0.8750 0.8750 0.8750 0.8750 0.8750 1.0000 1.0000 1.0000 1.0000 1.0000 1.0000 1.0000 1.0000 1.0000 1.0000 1.0000 1.0000 1.0000 1.0000 1.0000 1.0000"/></feComponentTransfer><feMorphology in="q" operator="erode" radius="0.5" result="qe"/><feComposite in="q" in2="qe" operator="arithmetic" k2="8" k3="-8" result="edge0"/><feComponentTransfer in="dens" result="inv"><feFuncR type="linear" slope="-0.9" intercept="1.05"/><feFuncG type="linear" slope="-0.9" intercept="1.05"/><feFuncB type="linear" slope="-0.9" intercept="1.05"/></feComponentTransfer><feComposite in="edge0" in2="inv" operator="arithmetic" k1="1" result="edge"/><feComponentTransfer in="dens" result="fill"><feFuncR type="table" tableValues="1.000 1.000 1.000 1.000 1.000 1.000 1.000 0.975 0.968 0.966 0.964 0.962 0.959 0.957 0.955 0.953 0.951 0.948 0.946 0.944 0.942 0.940 0.937 0.935 0.933 0.931 0.929 0.926 0.924 0.922 0.920 0.917 0.915 0.913 0.911 0.909 0.906 0.904 0.902 0.900 0.898 0.895 0.893 0.891 0.889 0.887 0.884 0.882 0.880 0.877 0.873 0.870 0.867 0.863 0.860 0.857 0.853 0.850 0.847 0.843 0.840 0.837 0.833 0.830 0.827 0.823 0.820 0.817 0.813 0.810 0.807 0.803 0.800 0.797 0.793 0.790 0.787 0.783 0.780 0.777 0.773 0.770 0.767 0.763 0.760 0.757 0.753 0.750 0.747 0.743 0.740 0.737 0.733 0.730 0.727 0.723 0.720 0.717 0.714 0.711 0.708 0.705 0.703 0.700 0.697 0.694 0.691 0.688 0.685 0.682 0.679 0.676 0.673 0.670 0.667 0.665 0.662 0.659 0.656 0.653 0.650 0.647 0.644 0.641 0.638 0.635 0.632 0.630 0.627 0.624 0.621 0.618 0.615 0.612 0.609 0.606 0.603 0.600 0.597 0.595 0.592 0.589 0.586 0.583 0.580 0.577 0.574 0.571 0.569 0.566 0.563 0.560 0.557 0.554 0.551 0.548 0.546 0.543 0.540 0.537 0.534 0.531 0.528 0.526 0.523 0.520 0.517 0.514 0.511 0.508 0.506 0.503 0.500 0.497 0.494 0.491 0.488 0.485 0.483 0.480 0.477 0.474 0.471 0.469 0.467 0.465 0.462 0.460 0.458 0.456 0.454 0.452 0.450 0.448 0.446 0.444 0.442 0.440 0.438 0.435 0.433 0.431 0.429 0.427 0.425 0.423 0.421 0.427 0.438 0.449 0.460 0.471 0.482 0.493 0.504 0.516 0.527 0.538 0.549 0.560 0.571 0.585 0.608 0.630 0.653 0.676 0.699 0.722 0.745 0.768 0.791 0.804 0.810 0.816 0.823 0.829 0.835 0.841 0.848 0.854 0.860"/><feFuncG type="table" tableValues="1.000 1.000 1.000 1.000 1.000 1.000 1.000 0.975 0.968 0.966 0.964 0.962 0.959 0.957 0.955 0.953 0.951 0.948 0.946 0.944 0.942 0.940 0.937 0.935 0.933 0.931 0.929 0.926 0.924 0.922 0.920 0.917 0.915 0.913 0.911 0.909 0.906 0.904 0.902 0.900 0.898 0.895 0.893 0.891 0.889 0.887 0.884 0.882 0.880 0.877 0.873 0.870 0.867 0.863 0.860 0.857 0.853 0.850 0.847 0.843 0.840 0.837 0.833 0.830 0.827 0.823 0.820 0.817 0.813 0.810 0.807 0.803 0.800 0.797 0.793 0.790 0.787 0.783 0.780 0.777 0.773 0.770 0.767 0.763 0.760 0.757 0.753 0.750 0.747 0.743 0.740 0.737 0.733 0.730 0.727 0.723 0.720 0.717 0.714 0.711 0.708 0.705 0.703 0.700 0.697 0.694 0.691 0.688 0.685 0.682 0.679 0.676 0.673 0.670 0.667 0.665 0.662 0.659 0.656 0.653 0.650 0.647 0.644 0.641 0.638 0.635 0.632 0.630 0.627 0.624 0.621 0.618 0.615 0.612 0.609 0.606 0.603 0.600 0.597 0.595 0.592 0.589 0.586 0.583 0.580 0.577 0.574 0.571 0.569 0.566 0.563 0.560 0.557 0.554 0.551 0.548 0.546 0.543 0.540 0.537 0.534 0.531 0.528 0.526 0.523 0.520 0.517 0.514 0.511 0.508 0.506 0.503 0.500 0.497 0.494 0.491 0.488 0.485 0.483 0.480 0.477 0.474 0.471 0.469 0.467 0.465 0.462 0.460 0.458 0.456 0.454 0.452 0.450 0.448 0.446 0.444 0.442 0.440 0.438 0.435 0.433 0.431 0.429 0.427 0.425 0.423 0.421 0.427 0.438 0.449 0.460 0.471 0.482 0.493 0.504 0.516 0.527 0.538 0.549 0.560 0.571 0.585 0.608 0.630 0.653 0.676 0.699 0.722 0.745 0.768 0.791 0.804 0.810 0.816 0.823 0.829 0.835 0.841 0.848 0.854 0.860"/><feFuncB type="table" tableValues="1.000 1.000 1.000 1.000 1.000 1.000 1.000 0.975 0.968 0.966 0.964 0.962 0.959 0.957 0.955 0.953 0.951 0.948 0.946 0.944 0.942 0.940 0.937 0.935 0.933 0.931 0.929 0.926 0.924 0.922 0.920 0.917 0.915 0.913 0.911 0.909 0.906 0.904 0.902 0.900 0.898 0.895 0.893 0.891 0.889 0.887 0.884 0.882 0.880 0.877 0.873 0.870 0.867 0.863 0.860 0.857 0.853 0.850 0.847 0.843 0.840 0.837 0.833 0.830 0.827 0.823 0.820 0.817 0.813 0.810 0.807 0.803 0.800 0.797 0.793 0.790 0.787 0.783 0.780 0.777 0.773 0.770 0.767 0.763 0.760 0.757 0.753 0.750 0.747 0.743 0.740 0.737 0.733 0.730 0.727 0.723 0.720 0.717 0.714 0.711 0.708 0.705 0.703 0.700 0.697 0.694 0.691 0.688 0.685 0.682 0.679 0.676 0.673 0.670 0.667 0.665 0.662 0.659 0.656 0.653 0.650 0.647 0.644 0.641 0.638 0.635 0.632 0.630 0.627 0.624 0.621 0.618 0.615 0.612 0.609 0.606 0.603 0.600 0.597 0.595 0.592 0.589 0.586 0.583 0.580 0.577 0.574 0.571 0.569 0.566 0.563 0.560 0.557 0.554 0.551 0.548 0.546 0.543 0.540 0.537 0.534 0.531 0.528 0.526 0.523 0.520 0.517 0.514 0.511 0.508 0.506 0.503 0.500 0.497 0.494 0.491 0.488 0.485 0.483 0.480 0.477 0.474 0.471 0.469 0.467 0.465 0.462 0.460 0.458 0.456 0.454 0.452 0.450 0.448 0.446 0.444 0.442 0.440 0.438 0.435 0.433 0.431 0.429 0.427 0.425 0.423 0.421 0.427 0.438 0.449 0.460 0.471 0.482 0.493 0.504 0.516 0.527 0.538 0.549 0.560 0.571 0.585 0.608 0.630 0.653 0.676 0.699 0.722 0.745 0.768 0.791 0.804 0.810 0.816 0.823 0.829 0.835 0.841 0.848 0.854 0.860"/></feComponentTransfer><feComposite in="fill" in2="edge" operator="arithmetic" k2="1" k3="-0.3"/></filter><filter id="cf6" filterUnits="userSpaceOnUse" x="154.90" y="250.00" width="68.50" height="67.90" color-interpolation-filters="sRGB"><feGaussianBlur stdDeviation="0.6"/><feColorMatrix type="matrix" values="0 0 0 1 0  0 0 0 1 0  0 0 0 1 0  0 0 0 0 1" result="dens"/><feComponentTransfer in="dens" result="q"><feFuncR type="discrete" tableValues="0.0000 0.0000 0.0000 0.0000 0.0000 0.1250 0.1250 0.1250 0.1250 0.1250 0.1250 0.1250 0.1250 0.1250 0.1250 0.1250 0.1250 0.1250 0.1250 0.1250 0.1250 0.1250 0.1250 0.1250 0.2500 0.2500 0.2500 0.2500 0.2500 0.2500 0.2500 0.2500 0.2500 0.2500 0.2500 0.2500 0.2500 0.2500 0.2500 0.2500 0.2500 0.2500 0.2500 0.2500 0.2500 0.2500 0.2500 0.2500 0.3750 0.3750 0.3750 0.3750 0.3750 0.3750 0.3750 0.3750 0.3750 0.3750 0.3750 0.3750 0.3750 0.3750 0.3750 0.3750 0.3750 0.3750 0.3750 0.3750 0.3750 0.3750 0.3750 0.3750 0.3750 0.3750 0.3750 0.3750 0.5000 0.5000 0.5000 0.5000 0.5000 0.5000 0.5000 0.5000 0.5000 0.5000 0.5000 0.5000 0.5000 0.5000 0.5000 0.5000 0.5000 0.5000 0.5000 0.5000 0.5000 0.5000 0.5000 0.5000 0.5000 0.5000 0.5000 0.5000 0.6250 0.6250 0.6250 0.6250 0.6250 0.6250 0.6250 0.6250 0.6250 0.6250 0.6250 0.6250 0.6250 0.6250 0.6250 0.6250 0.6250 0.6250 0.6250 0.6250 0.6250 0.6250 0.6250 0.6250 0.6250 0.6250 0.6250 0.6250 0.7500 0.7500 0.7500 0.7500 0.7500 0.7500 0.7500 0.7500 0.7500 0.7500 0.7500 0.7500 0.7500 0.7500 0.7500 0.7500 0.7500 0.7500 0.7500 0.7500 0.7500 0.7500 0.7500 0.7500 0.7500 0.7500 0.7500 0.7500 0.8750 0.8750 0.8750 0.8750 0.8750 0.8750 0.8750 0.8750 0.8750 0.8750 0.8750 0.8750 0.8750 0.8750 0.8750 0.8750 0.8750 0.8750 0.8750 0.8750 0.8750 0.8750 0.8750 0.8750 1.0000 1.0000 1.0000 1.0000 1.0000 1.0000 1.0000 1.0000 1.0000 1.0000 1.0000 1.0000 1.0000 1.0000 1.0000 1.0000"/><feFuncG type="discrete" tableValues="0.0000 0.0000 0.0000 0.0000 0.0000 0.1250 0.1250 0.1250 0.1250 0.1250 0.1250 0.1250 0.1250 0.1250 0.1250 0.1250 0.1250 0.1250 0.1250 0.1250 0.1250 0.1250 0.1250 0.1250 0.2500 0.2500 0.2500 0.2500 0.2500 0.2500 0.2500 0.2500 0.2500 0.2500 0.2500 0.2500 0.2500 0.2500 0.2500 0.2500 0.2500 0.2500 0.2500 0.2500 0.2500 0.2500 0.2500 0.2500 0.3750 0.3750 0.3750 0.3750 0.3750 0.3750 0.3750 0.3750 0.3750 0.3750 0.3750 0.3750 0.3750 0.3750 0.3750 0.3750 0.3750 0.3750 0.3750 0.3750 0.3750 0.3750 0.3750 0.3750 0.3750 0.3750 0.3750 0.3750 0.5000 0.5000 0.5000 0.5000 0.5000 0.5000 0.5000 0.5000 0.5000 0.5000 0.5000 0.5000 0.5000 0.5000 0.5000 0.5000 0.5000 0.5000 0.5000 0.5000 0.5000 0.5000 0.5000 0.5000 0.5000 0.5000 0.5000 0.5000 0.6250 0.6250 0.6250 0.6250 0.6250 0.6250 0.6250 0.6250 0.6250 0.6250 0.6250 0.6250 0.6250 0.6250 0.6250 0.6250 0.6250 0.6250 0.6250 0.6250 0.6250 0.6250 0.6250 0.6250 0.6250 0.6250 0.6250 0.6250 0.7500 0.7500 0.7500 0.7500 0.7500 0.7500 0.7500 0.7500 0.7500 0.7500 0.7500 0.7500 0.7500 0.7500 0.7500 0.7500 0.7500 0.7500 0.7500 0.7500 0.7500 0.7500 0.7500 0.7500 0.7500 0.7500 0.7500 0.7500 0.8750 0.8750 0.8750 0.8750 0.8750 0.8750 0.8750 0.8750 0.8750 0.8750 0.8750 0.8750 0.8750 0.8750 0.8750 0.8750 0.8750 0.8750 0.8750 0.8750 0.8750 0.8750 0.8750 0.8750 1.0000 1.0000 1.0000 1.0000 1.0000 1.0000 1.0000 1.0000 1.0000 1.0000 1.0000 1.0000 1.0000 1.0000 1.0000 1.0000"/><feFuncB type="discrete" tableValues="0.0000 0.0000 0.0000 0.0000 0.0000 0.1250 0.1250 0.1250 0.1250 0.1250 0.1250 0.1250 0.1250 0.1250 0.1250 0.1250 0.1250 0.1250 0.1250 0.1250 0.1250 0.1250 0.1250 0.1250 0.2500 0.2500 0.2500 0.2500 0.2500 0.2500 0.2500 0.2500 0.2500 0.2500 0.2500 0.2500 0.2500 0.2500 0.2500 0.2500 0.2500 0.2500 0.2500 0.2500 0.2500 0.2500 0.2500 0.2500 0.3750 0.3750 0.3750 0.3750 0.3750 0.3750 0.3750 0.3750 0.3750 0.3750 0.3750 0.3750 0.3750 0.3750 0.3750 0.3750 0.3750 0.3750 0.3750 0.3750 0.3750 0.3750 0.3750 0.3750 0.3750 0.3750 0.3750 0.3750 0.5000 0.5000 0.5000 0.5000 0.5000 0.5000 0.5000 0.5000 0.5000 0.5000 0.5000 0.5000 0.5000 0.5000 0.5000 0.5000 0.5000 0.5000 0.5000 0.5000 0.5000 0.5000 0.5000 0.5000 0.5000 0.5000 0.5000 0.5000 0.6250 0.6250 0.6250 0.6250 0.6250 0.6250 0.6250 0.6250 0.6250 0.6250 0.6250 0.6250 0.6250 0.6250 0.6250 0.6250 0.6250 0.6250 0.6250 0.6250 0.6250 0.6250 0.6250 0.6250 0.6250 0.6250 0.6250 0.6250 0.7500 0.7500 0.7500 0.7500 0.7500 0.7500 0.7500 0.7500 0.7500 0.7500 0.7500 0.7500 0.7500 0.7500 0.7500 0.7500 0.7500 0.7500 0.7500 0.7500 0.7500 0.7500 0.7500 0.7500 0.7500 0.7500 0.7500 0.7500 0.8750 0.8750 0.8750 0.8750 0.8750 0.8750 0.8750 0.8750 0.8750 0.8750 0.8750 0.8750 0.8750 0.8750 0.8750 0.8750 0.8750 0.8750 0.8750 0.8750 0.8750 0.8750 0.8750 0.8750 1.0000 1.0000 1.0000 1.0000 1.0000 1.0000 1.0000 1.0000 1.0000 1.0000 1.0000 1.0000 1.0000 1.0000 1.0000 1.0000"/></feComponentTransfer><feMorphology in="q" operator="erode" radius="0.5" result="qe"/><feComposite in="q" in2="qe" operator="arithmetic" k2="8" k3="-8" result="edge0"/><feComponentTransfer in="dens" result="inv"><feFuncR type="linear" slope="-0.9" intercept="1.05"/><feFuncG type="linear" slope="-0.9" intercept="1.05"/><feFuncB type="linear" slope="-0.9" intercept="1.05"/></feComponentTransfer><feComposite in="edge0" in2="inv" operator="arithmetic" k1="1" result="edge"/><feComponentTransfer in="dens" result="fill"><feFuncR type="table" tableValues="1.000 1.000 1.000 1.000 1.000 1.000 1.000 0.975 0.968 0.966 0.964 0.962 0.959 0.957 0.955 0.953 0.951 0.948 0.946 0.944 0.942 0.940 0.937 0.935 0.933 0.931 0.929 0.926 0.924 0.922 0.920 0.917 0.915 0.913 0.911 0.909 0.906 0.904 0.902 0.900 0.898 0.895 0.893 0.891 0.889 0.887 0.884 0.882 0.880 0.877 0.873 0.870 0.867 0.863 0.860 0.857 0.853 0.850 0.847 0.843 0.840 0.837 0.833 0.830 0.827 0.823 0.820 0.817 0.813 0.810 0.807 0.803 0.800 0.797 0.793 0.790 0.787 0.783 0.780 0.777 0.773 0.770 0.767 0.763 0.760 0.757 0.753 0.750 0.747 0.743 0.740 0.737 0.733 0.730 0.727 0.723 0.720 0.717 0.714 0.711 0.708 0.705 0.703 0.700 0.697 0.694 0.691 0.688 0.685 0.682 0.679 0.676 0.673 0.670 0.667 0.665 0.662 0.659 0.656 0.653 0.650 0.647 0.644 0.641 0.638 0.635 0.632 0.630 0.627 0.624 0.621 0.618 0.615 0.612 0.609 0.606 0.603 0.600 0.597 0.595 0.592 0.589 0.586 0.583 0.580 0.577 0.574 0.571 0.569 0.566 0.563 0.560 0.557 0.554 0.551 0.548 0.546 0.543 0.540 0.537 0.534 0.531 0.528 0.526 0.523 0.520 0.517 0.514 0.511 0.508 0.506 0.503 0.500 0.497 0.494 0.491 0.488 0.485 0.483 0.480 0.477 0.474 0.471 0.469 0.467 0.465 0.462 0.460 0.458 0.456 0.454 0.452 0.450 0.448 0.446 0.444 0.442 0.440 0.438 0.435 0.433 0.431 0.429 0.427 0.425 0.423 0.421 0.427 0.438 0.449 0.460 0.471 0.482 0.493 0.504 0.516 0.527 0.538 0.549 0.560 0.571 0.585 0.608 0.630 0.653 0.676 0.699 0.722 0.745 0.768 0.791 0.804 0.810 0.816 0.823 0.829 0.835 0.841 0.848 0.854 0.860"/><feFuncG type="table" tableValues="1.000 1.000 1.000 1.000 1.000 1.000 1.000 0.975 0.968 0.966 0.964 0.962 0.959 0.957 0.955 0.953 0.951 0.948 0.946 0.944 0.942 0.940 0.937 0.935 0.933 0.931 0.929 0.926 0.924 0.922 0.920 0.917 0.915 0.913 0.911 0.909 0.906 0.904 0.902 0.900 0.898 0.895 0.893 0.891 0.889 0.887 0.884 0.882 0.880 0.877 0.873 0.870 0.867 0.863 0.860 0.857 0.853 0.850 0.847 0.843 0.840 0.837 0.833 0.830 0.827 0.823 0.820 0.817 0.813 0.810 0.807 0.803 0.800 0.797 0.793 0.790 0.787 0.783 0.780 0.777 0.773 0.770 0.767 0.763 0.760 0.757 0.753 0.750 0.747 0.743 0.740 0.737 0.733 0.730 0.727 0.723 0.720 0.717 0.714 0.711 0.708 0.705 0.703 0.700 0.697 0.694 0.691 0.688 0.685 0.682 0.679 0.676 0.673 0.670 0.667 0.665 0.662 0.659 0.656 0.653 0.650 0.647 0.644 0.641 0.638 0.635 0.632 0.630 0.627 0.624 0.621 0.618 0.615 0.612 0.609 0.606 0.603 0.600 0.597 0.595 0.592 0.589 0.586 0.583 0.580 0.577 0.574 0.571 0.569 0.566 0.563 0.560 0.557 0.554 0.551 0.548 0.546 0.543 0.540 0.537 0.534 0.531 0.528 0.526 0.523 0.520 0.517 0.514 0.511 0.508 0.506 0.503 0.500 0.497 0.494 0.491 0.488 0.485 0.483 0.480 0.477 0.474 0.471 0.469 0.467 0.465 0.462 0.460 0.458 0.456 0.454 0.452 0.450 0.448 0.446 0.444 0.442 0.440 0.438 0.435 0.433 0.431 0.429 0.427 0.425 0.423 0.421 0.427 0.438 0.449 0.460 0.471 0.482 0.493 0.504 0.516 0.527 0.538 0.549 0.560 0.571 0.585 0.608 0.630 0.653 0.676 0.699 0.722 0.745 0.768 0.791 0.804 0.810 0.816 0.823 0.829 0.835 0.841 0.848 0.854 0.860"/><feFuncB type="table" tableValues="1.000 1.000 1.000 1.000 1.000 1.000 1.000 0.975 0.968 0.966 0.964 0.962 0.959 0.957 0.955 0.953 0.951 0.948 0.946 0.944 0.942 0.940 0.937 0.935 0.933 0.931 0.929 0.926 0.924 0.922 0.920 0.917 0.915 0.913 0.911 0.909 0.906 0.904 0.902 0.900 0.898 0.895 0.893 0.891 0.889 0.887 0.884 0.882 0.880 0.877 0.873 0.870 0.867 0.863 0.860 0.857 0.853 0.850 0.847 0.843 0.840 0.837 0.833 0.830 0.827 0.823 0.820 0.817 0.813 0.810 0.807 0.803 0.800 0.797 0.793 0.790 0.787 0.783 0.780 0.777 0.773 0.770 0.767 0.763 0.760 0.757 0.753 0.750 0.747 0.743 0.740 0.737 0.733 0.730 0.727 0.723 0.720 0.717 0.714 0.711 0.708 0.705 0.703 0.700 0.697 0.694 0.691 0.688 0.685 0.682 0.679 0.676 0.673 0.670 0.667 0.665 0.662 0.659 0.656 0.653 0.650 0.647 0.644 0.641 0.638 0.635 0.632 0.630 0.627 0.624 0.621 0.618 0.615 0.612 0.609 0.606 0.603 0.600 0.597 0.595 0.592 0.589 0.586 0.583 0.580 0.577 0.574 0.571 0.569 0.566 0.563 0.560 0.557 0.554 0.551 0.548 0.546 0.543 0.540 0.537 0.534 0.531 0.528 0.526 0.523 0.520 0.517 0.514 0.511 0.508 0.506 0.503 0.500 0.497 0.494 0.491 0.488 0.485 0.483 0.480 0.477 0.474 0.471 0.469 0.467 0.465 0.462 0.460 0.458 0.456 0.454 0.452 0.450 0.448 0.446 0.444 0.442 0.440 0.438 0.435 0.433 0.431 0.429 0.427 0.425 0.423 0.421 0.427 0.438 0.449 0.460 0.471 0.482 0.493 0.504 0.516 0.527 0.538 0.549 0.560 0.571 0.585 0.608 0.630 0.653 0.676 0.699 0.722 0.745 0.768 0.791 0.804 0.810 0.816 0.823 0.829 0.835 0.841 0.848 0.854 0.860"/></feComponentTransfer><feComposite in="fill" in2="edge" operator="arithmetic" k2="1" k3="-0.3"/></filter><filter id="cf7" filterUnits="userSpaceOnUse" x="251.60" y="251.50" width="68.50" height="67.90" color-interpolation-filters="sRGB"><feGaussianBlur stdDeviation="0.6"/><feColorMatrix type="matrix" values="0 0 0 1 0  0 0 0 1 0  0 0 0 1 0  0 0 0 0 1" result="dens"/><feComponentTransfer in="dens" result="q"><feFuncR type="discrete" tableValues="0.0000 0.0000 0.0000 0.0000 0.0000 0.1250 0.1250 0.1250 0.1250 0.1250 0.1250 0.1250 0.1250 0.1250 0.1250 0.1250 0.1250 0.1250 0.1250 0.1250 0.1250 0.1250 0.1250 0.1250 0.2500 0.2500 0.2500 0.2500 0.2500 0.2500 0.2500 0.2500 0.2500 0.2500 0.2500 0.2500 0.2500 0.2500 0.2500 0.2500 0.2500 0.2500 0.2500 0.2500 0.2500 0.2500 0.2500 0.2500 0.3750 0.3750 0.3750 0.3750 0.3750 0.3750 0.3750 0.3750 0.3750 0.3750 0.3750 0.3750 0.3750 0.3750 0.3750 0.3750 0.3750 0.3750 0.3750 0.3750 0.3750 0.3750 0.3750 0.3750 0.3750 0.3750 0.3750 0.3750 0.5000 0.5000 0.5000 0.5000 0.5000 0.5000 0.5000 0.5000 0.5000 0.5000 0.5000 0.5000 0.5000 0.5000 0.5000 0.5000 0.5000 0.5000 0.5000 0.5000 0.5000 0.5000 0.5000 0.5000 0.5000 0.5000 0.5000 0.5000 0.6250 0.6250 0.6250 0.6250 0.6250 0.6250 0.6250 0.6250 0.6250 0.6250 0.6250 0.6250 0.6250 0.6250 0.6250 0.6250 0.6250 0.6250 0.6250 0.6250 0.6250 0.6250 0.6250 0.6250 0.6250 0.6250 0.6250 0.6250 0.7500 0.7500 0.7500 0.7500 0.7500 0.7500 0.7500 0.7500 0.7500 0.7500 0.7500 0.7500 0.7500 0.7500 0.7500 0.7500 0.7500 0.7500 0.7500 0.7500 0.7500 0.7500 0.7500 0.7500 0.7500 0.7500 0.7500 0.7500 0.8750 0.8750 0.8750 0.8750 0.8750 0.8750 0.8750 0.8750 0.8750 0.8750 0.8750 0.8750 0.8750 0.8750 0.8750 0.8750 0.8750 0.8750 0.8750 0.8750 0.8750 0.8750 0.8750 0.8750 1.0000 1.0000 1.0000 1.0000 1.0000 1.0000 1.0000 1.0000 1.0000 1.0000 1.0000 1.0000 1.0000 1.0000 1.0000 1.0000"/><feFuncG type="discrete" tableValues="0.0000 0.0000 0.0000 0.0000 0.0000 0.1250 0.1250 0.1250 0.1250 0.1250 0.1250 0.1250 0.1250 0.1250 0.1250 0.1250 0.1250 0.1250 0.1250 0.1250 0.1250 0.1250 0.1250 0.1250 0.2500 0.2500 0.2500 0.2500 0.2500 0.2500 0.2500 0.2500 0.2500 0.2500 0.2500 0.2500 0.2500 0.2500 0.2500 0.2500 0.2500 0.2500 0.2500 0.2500 0.2500 0.2500 0.2500 0.2500 0.3750 0.3750 0.3750 0.3750 0.3750 0.3750 0.3750 0.3750 0.3750 0.3750 0.3750 0.3750 0.3750 0.3750 0.3750 0.3750 0.3750 0.3750 0.3750 0.3750 0.3750 0.3750 0.3750 0.3750 0.3750 0.3750 0.3750 0.3750 0.5000 0.5000 0.5000 0.5000 0.5000 0.5000 0.5000 0.5000 0.5000 0.5000 0.5000 0.5000 0.5000 0.5000 0.5000 0.5000 0.5000 0.5000 0.5000 0.5000 0.5000 0.5000 0.5000 0.5000 0.5000 0.5000 0.5000 0.5000 0.6250 0.6250 0.6250 0.6250 0.6250 0.6250 0.6250 0.6250 0.6250 0.6250 0.6250 0.6250 0.6250 0.6250 0.6250 0.6250 0.6250 0.6250 0.6250 0.6250 0.6250 0.6250 0.6250 0.6250 0.6250 0.6250 0.6250 0.6250 0.7500 0.7500 0.7500 0.7500 0.7500 0.7500 0.7500 0.7500 0.7500 0.7500 0.7500 0.7500 0.7500 0.7500 0.7500 0.7500 0.7500 0.7500 0.7500 0.7500 0.7500 0.7500 0.7500 0.7500 0.7500 0.7500 0.7500 0.7500 0.8750 0.8750 0.8750 0.8750 0.8750 0.8750 0.8750 0.8750 0.8750 0.8750 0.8750 0.8750 0.8750 0.8750 0.8750 0.8750 0.8750 0.8750 0.8750 0.8750 0.8750 0.8750 0.8750 0.8750 1.0000 1.0000 1.0000 1.0000 1.0000 1.0000 1.0000 1.0000 1.0000 1.0000 1.0000 1.0000 1.0000 1.0000 1.0000 1.0000"/><feFuncB type="discrete" tableValues="0.0000 0.0000 0.0000 0.0000 0.0000 0.1250 0.1250 0.1250 0.1250 0.1250 0.1250 0.1250 0.1250 0.1250 0.1250 0.1250 0.1250 0.1250 0.1250 0.1250 0.1250 0.1250 0.1250 0.1250 0.2500 0.2500 0.2500 0.2500 0.2500 0.2500 0.2500 0.2500 0.2500 0.2500 0.2500 0.2500 0.2500 0.2500 0.2500 0.2500 0.2500 0.2500 0.2500 0.2500 0.2500 0.2500 0.2500 0.2500 0.3750 0.3750 0.3750 0.3750 0.3750 0.3750 0.3750 0.3750 0.3750 0.3750 0.3750 0.3750 0.3750 0.3750 0.3750 0.3750 0.3750 0.3750 0.3750 0.3750 0.3750 0.3750 0.3750 0.3750 0.3750 0.3750 0.3750 0.3750 0.5000 0.5000 0.5000 0.5000 0.5000 0.5000 0.5000 0.5000 0.5000 0.5000 0.5000 0.5000 0.5000 0.5000 0.5000 0.5000 0.5000 0.5000 0.5000 0.5000 0.5000 0.5000 0.5000 0.5000 0.5000 0.5000 0.5000 0.5000 0.6250 0.6250 0.6250 0.6250 0.6250 0.6250 0.6250 0.6250 0.6250 0.6250 0.6250 0.6250 0.6250 0.6250 0.6250 0.6250 0.6250 0.6250 0.6250 0.6250 0.6250 0.6250 0.6250 0.6250 0.6250 0.6250 0.6250 0.6250 0.7500 0.7500 0.7500 0.7500 0.7500 0.7500 0.7500 0.7500 0.7500 0.7500 0.7500 0.7500 0.7500 0.7500 0.7500 0.7500 0.7500 0.7500 0.7500 0.7500 0.7500 0.7500 0.7500 0.7500 0.7500 0.7500 0.7500 0.7500 0.8750 0.8750 0.8750 0.8750 0.8750 0.8750 0.8750 0.8750 0.8750 0.8750 0.8750 0.8750 0.8750 0.8750 0.8750 0.8750 0.8750 0.8750 0.8750 0.8750 0.8750 0.8750 0.8750 0.8750 1.0000 1.0000 1.0000 1.0000 1.0000 1.0000 1.0000 1.0000 1.0000 1.0000 1.0000 1.0000 1.0000 1.0000 1.0000 1.0000"/></feComponentTransfer><feMorphology in="q" operator="erode" radius="0.5" result="qe"/><feComposite in="q" in2="qe" operator="arithmetic" k2="8" k3="-8" result="edge0"/><feComponentTransfer in="dens" result="inv"><feFuncR type="linear" slope="-0.9" intercept="1.05"/><feFuncG type="linear" slope="-0.9" intercept="1.05"/><feFuncB type="linear" slope="-0.9" intercept="1.05"/></feComponentTransfer><feComposite in="edge0" in2="inv" operator="arithmetic" k1="1" result="edge"/><feComponentTransfer in="dens" result="fill"><feFuncR type="table" tableValues="1.000 1.000 1.000 1.000 1.000 1.000 1.000 0.975 0.968 0.966 0.964 0.962 0.959 0.957 0.955 0.953 0.951 0.948 0.946 0.944 0.942 0.940 0.937 0.935 0.933 0.931 0.929 0.926 0.924 0.922 0.920 0.917 0.915 0.913 0.911 0.909 0.906 0.904 0.902 0.900 0.898 0.895 0.893 0.891 0.889 0.887 0.884 0.882 0.880 0.877 0.873 0.870 0.867 0.863 0.860 0.857 0.853 0.850 0.847 0.843 0.840 0.837 0.833 0.830 0.827 0.823 0.820 0.817 0.813 0.810 0.807 0.803 0.800 0.797 0.793 0.790 0.787 0.783 0.780 0.777 0.773 0.770 0.767 0.763 0.760 0.757 0.753 0.750 0.747 0.743 0.740 0.737 0.733 0.730 0.727 0.723 0.720 0.717 0.714 0.711 0.708 0.705 0.703 0.700 0.697 0.694 0.691 0.688 0.685 0.682 0.679 0.676 0.673 0.670 0.667 0.665 0.662 0.659 0.656 0.653 0.650 0.647 0.644 0.641 0.638 0.635 0.632 0.630 0.627 0.624 0.621 0.618 0.615 0.612 0.609 0.606 0.603 0.600 0.597 0.595 0.592 0.589 0.586 0.583 0.580 0.577 0.574 0.571 0.569 0.566 0.563 0.560 0.557 0.554 0.551 0.548 0.546 0.543 0.540 0.537 0.534 0.531 0.528 0.526 0.523 0.520 0.517 0.514 0.511 0.508 0.506 0.503 0.500 0.497 0.494 0.491 0.488 0.485 0.483 0.480 0.477 0.474 0.471 0.469 0.467 0.465 0.462 0.460 0.458 0.456 0.454 0.452 0.450 0.448 0.446 0.444 0.442 0.440 0.438 0.435 0.433 0.431 0.429 0.427 0.425 0.423 0.421 0.427 0.438 0.449 0.460 0.471 0.482 0.493 0.504 0.516 0.527 0.538 0.549 0.560 0.571 0.585 0.608 0.630 0.653 0.676 0.699 0.722 0.745 0.768 0.791 0.804 0.810 0.816 0.823 0.829 0.835 0.841 0.848 0.854 0.860"/><feFuncG type="table" tableValues="1.000 1.000 1.000 1.000 1.000 1.000 1.000 0.975 0.968 0.966 0.964 0.962 0.959 0.957 0.955 0.953 0.951 0.948 0.946 0.944 0.942 0.940 0.937 0.935 0.933 0.931 0.929 0.926 0.924 0.922 0.920 0.917 0.915 0.913 0.911 0.909 0.906 0.904 0.902 0.900 0.898 0.895 0.893 0.891 0.889 0.887 0.884 0.882 0.880 0.877 0.873 0.870 0.867 0.863 0.860 0.857 0.853 0.850 0.847 0.843 0.840 0.837 0.833 0.830 0.827 0.823 0.820 0.817 0.813 0.810 0.807 0.803 0.800 0.797 0.793 0.790 0.787 0.783 0.780 0.777 0.773 0.770 0.767 0.763 0.760 0.757 0.753 0.750 0.747 0.743 0.740 0.737 0.733 0.730 0.727 0.723 0.720 0.717 0.714 0.711 0.708 0.705 0.703 0.700 0.697 0.694 0.691 0.688 0.685 0.682 0.679 0.676 0.673 0.670 0.667 0.665 0.662 0.659 0.656 0.653 0.650 0.647 0.644 0.641 0.638 0.635 0.632 0.630 0.627 0.624 0.621 0.618 0.615 0.612 0.609 0.606 0.603 0.600 0.597 0.595 0.592 0.589 0.586 0.583 0.580 0.577 0.574 0.571 0.569 0.566 0.563 0.560 0.557 0.554 0.551 0.548 0.546 0.543 0.540 0.537 0.534 0.531 0.528 0.526 0.523 0.520 0.517 0.514 0.511 0.508 0.506 0.503 0.500 0.497 0.494 0.491 0.488 0.485 0.483 0.480 0.477 0.474 0.471 0.469 0.467 0.465 0.462 0.460 0.458 0.456 0.454 0.452 0.450 0.448 0.446 0.444 0.442 0.440 0.438 0.435 0.433 0.431 0.429 0.427 0.425 0.423 0.421 0.427 0.438 0.449 0.460 0.471 0.482 0.493 0.504 0.516 0.527 0.538 0.549 0.560 0.571 0.585 0.608 0.630 0.653 0.676 0.699 0.722 0.745 0.768 0.791 0.804 0.810 0.816 0.823 0.829 0.835 0.841 0.848 0.854 0.860"/><feFuncB type="table" tableValues="1.000 1.000 1.000 1.000 1.000 1.000 1.000 0.975 0.968 0.966 0.964 0.962 0.959 0.957 0.955 0.953 0.951 0.948 0.946 0.944 0.942 0.940 0.937 0.935 0.933 0.931 0.929 0.926 0.924 0.922 0.920 0.917 0.915 0.913 0.911 0.909 0.906 0.904 0.902 0.900 0.898 0.895 0.893 0.891 0.889 0.887 0.884 0.882 0.880 0.877 0.873 0.870 0.867 0.863 0.860 0.857 0.853 0.850 0.847 0.843 0.840 0.837 0.833 0.830 0.827 0.823 0.820 0.817 0.813 0.810 0.807 0.803 0.800 0.797 0.793 0.790 0.787 0.783 0.780 0.777 0.773 0.770 0.767 0.763 0.760 0.757 0.753 0.750 0.747 0.743 0.740 0.737 0.733 0.730 0.727 0.723 0.720 0.717 0.714 0.711 0.708 0.705 0.703 0.700 0.697 0.694 0.691 0.688 0.685 0.682 0.679 0.676 0.673 0.670 0.667 0.665 0.662 0.659 0.656 0.653 0.650 0.647 0.644 0.641 0.638 0.635 0.632 0.630 0.627 0.624 0.621 0.618 0.615 0.612 0.609 0.606 0.603 0.600 0.597 0.595 0.592 0.589 0.586 0.583 0.580 0.577 0.574 0.571 0.569 0.566 0.563 0.560 0.557 0.554 0.551 0.548 0.546 0.543 0.540 0.537 0.534 0.531 0.528 0.526 0.523 0.520 0.517 0.514 0.511 0.508 0.506 0.503 0.500 0.497 0.494 0.491 0.488 0.485 0.483 0.480 0.477 0.474 0.471 0.469 0.467 0.465 0.462 0.460 0.458 0.456 0.454 0.452 0.450 0.448 0.446 0.444 0.442 0.440 0.438 0.435 0.433 0.431 0.429 0.427 0.425 0.423 0.421 0.427 0.438 0.449 0.460 0.471 0.482 0.493 0.504 0.516 0.527 0.538 0.549 0.560 0.571 0.585 0.608 0.630 0.653 0.676 0.699 0.722 0.745 0.768 0.791 0.804 0.810 0.816 0.823 0.829 0.835 0.841 0.848 0.854 0.860"/></feComponentTransfer><feComposite in="fill" in2="edge" operator="arithmetic" k2="1" k3="-0.3"/></filter><filter id="sb2_4" filterUnits="userSpaceOnUse" x="-40" y="-40" width="150" height="150"><feGaussianBlur stdDeviation="2.4"/></filter><filter id="cf8" filterUnits="userSpaceOnUse" x="348.20" y="252.60" width="68.50" height="67.90" color-interpolation-filters="sRGB"><feGaussianBlur stdDeviation="0.6"/><feColorMatrix type="matrix" values="0 0 0 1 0  0 0 0 1 0  0 0 0 1 0  0 0 0 0 1" result="dens"/><feComponentTransfer in="dens" result="q"><feFuncR type="discrete" tableValues="0.0000 0.0000 0.0000 0.0000 0.0000 0.1250 0.1250 0.1250 0.1250 0.1250 0.1250 0.1250 0.1250 0.1250 0.1250 0.1250 0.1250 0.1250 0.1250 0.1250 0.1250 0.1250 0.1250 0.1250 0.2500 0.2500 0.2500 0.2500 0.2500 0.2500 0.2500 0.2500 0.2500 0.2500 0.2500 0.2500 0.2500 0.2500 0.2500 0.2500 0.2500 0.2500 0.2500 0.2500 0.2500 0.2500 0.2500 0.2500 0.3750 0.3750 0.3750 0.3750 0.3750 0.3750 0.3750 0.3750 0.3750 0.3750 0.3750 0.3750 0.3750 0.3750 0.3750 0.3750 0.3750 0.3750 0.3750 0.3750 0.3750 0.3750 0.3750 0.3750 0.3750 0.3750 0.3750 0.3750 0.5000 0.5000 0.5000 0.5000 0.5000 0.5000 0.5000 0.5000 0.5000 0.5000 0.5000 0.5000 0.5000 0.5000 0.5000 0.5000 0.5000 0.5000 0.5000 0.5000 0.5000 0.5000 0.5000 0.5000 0.5000 0.5000 0.5000 0.5000 0.6250 0.6250 0.6250 0.6250 0.6250 0.6250 0.6250 0.6250 0.6250 0.6250 0.6250 0.6250 0.6250 0.6250 0.6250 0.6250 0.6250 0.6250 0.6250 0.6250 0.6250 0.6250 0.6250 0.6250 0.6250 0.6250 0.6250 0.6250 0.7500 0.7500 0.7500 0.7500 0.7500 0.7500 0.7500 0.7500 0.7500 0.7500 0.7500 0.7500 0.7500 0.7500 0.7500 0.7500 0.7500 0.7500 0.7500 0.7500 0.7500 0.7500 0.7500 0.7500 0.7500 0.7500 0.7500 0.7500 0.8750 0.8750 0.8750 0.8750 0.8750 0.8750 0.8750 0.8750 0.8750 0.8750 0.8750 0.8750 0.8750 0.8750 0.8750 0.8750 0.8750 0.8750 0.8750 0.8750 0.8750 0.8750 0.8750 0.8750 1.0000 1.0000 1.0000 1.0000 1.0000 1.0000 1.0000 1.0000 1.0000 1.0000 1.0000 1.0000 1.0000 1.0000 1.0000 1.0000"/><feFuncG type="discrete" tableValues="0.0000 0.0000 0.0000 0.0000 0.0000 0.1250 0.1250 0.1250 0.1250 0.1250 0.1250 0.1250 0.1250 0.1250 0.1250 0.1250 0.1250 0.1250 0.1250 0.1250 0.1250 0.1250 0.1250 0.1250 0.2500 0.2500 0.2500 0.2500 0.2500 0.2500 0.2500 0.2500 0.2500 0.2500 0.2500 0.2500 0.2500 0.2500 0.2500 0.2500 0.2500 0.2500 0.2500 0.2500 0.2500 0.2500 0.2500 0.2500 0.3750 0.3750 0.3750 0.3750 0.3750 0.3750 0.3750 0.3750 0.3750 0.3750 0.3750 0.3750 0.3750 0.3750 0.3750 0.3750 0.3750 0.3750 0.3750 0.3750 0.3750 0.3750 0.3750 0.3750 0.3750 0.3750 0.3750 0.3750 0.5000 0.5000 0.5000 0.5000 0.5000 0.5000 0.5000 0.5000 0.5000 0.5000 0.5000 0.5000 0.5000 0.5000 0.5000 0.5000 0.5000 0.5000 0.5000 0.5000 0.5000 0.5000 0.5000 0.5000 0.5000 0.5000 0.5000 0.5000 0.6250 0.6250 0.6250 0.6250 0.6250 0.6250 0.6250 0.6250 0.6250 0.6250 0.6250 0.6250 0.6250 0.6250 0.6250 0.6250 0.6250 0.6250 0.6250 0.6250 0.6250 0.6250 0.6250 0.6250 0.6250 0.6250 0.6250 0.6250 0.7500 0.7500 0.7500 0.7500 0.7500 0.7500 0.7500 0.7500 0.7500 0.7500 0.7500 0.7500 0.7500 0.7500 0.7500 0.7500 0.7500 0.7500 0.7500 0.7500 0.7500 0.7500 0.7500 0.7500 0.7500 0.7500 0.7500 0.7500 0.8750 0.8750 0.8750 0.8750 0.8750 0.8750 0.8750 0.8750 0.8750 0.8750 0.8750 0.8750 0.8750 0.8750 0.8750 0.8750 0.8750 0.8750 0.8750 0.8750 0.8750 0.8750 0.8750 0.8750 1.0000 1.0000 1.0000 1.0000 1.0000 1.0000 1.0000 1.0000 1.0000 1.0000 1.0000 1.0000 1.0000 1.0000 1.0000 1.0000"/><feFuncB type="discrete" tableValues="0.0000 0.0000 0.0000 0.0000 0.0000 0.1250 0.1250 0.1250 0.1250 0.1250 0.1250 0.1250 0.1250 0.1250 0.1250 0.1250 0.1250 0.1250 0.1250 0.1250 0.1250 0.1250 0.1250 0.1250 0.2500 0.2500 0.2500 0.2500 0.2500 0.2500 0.2500 0.2500 0.2500 0.2500 0.2500 0.2500 0.2500 0.2500 0.2500 0.2500 0.2500 0.2500 0.2500 0.2500 0.2500 0.2500 0.2500 0.2500 0.3750 0.3750 0.3750 0.3750 0.3750 0.3750 0.3750 0.3750 0.3750 0.3750 0.3750 0.3750 0.3750 0.3750 0.3750 0.3750 0.3750 0.3750 0.3750 0.3750 0.3750 0.3750 0.3750 0.3750 0.3750 0.3750 0.3750 0.3750 0.5000 0.5000 0.5000 0.5000 0.5000 0.5000 0.5000 0.5000 0.5000 0.5000 0.5000 0.5000 0.5000 0.5000 0.5000 0.5000 0.5000 0.5000 0.5000 0.5000 0.5000 0.5000 0.5000 0.5000 0.5000 0.5000 0.5000 0.5000 0.6250 0.6250 0.6250 0.6250 0.6250 0.6250 0.6250 0.6250 0.6250 0.6250 0.6250 0.6250 0.6250 0.6250 0.6250 0.6250 0.6250 0.6250 0.6250 0.6250 0.6250 0.6250 0.6250 0.6250 0.6250 0.6250 0.6250 0.6250 0.7500 0.7500 0.7500 0.7500 0.7500 0.7500 0.7500 0.7500 0.7500 0.7500 0.7500 0.7500 0.7500 0.7500 0.7500 0.7500 0.7500 0.7500 0.7500 0.7500 0.7500 0.7500 0.7500 0.7500 0.7500 0.7500 0.7500 0.7500 0.8750 0.8750 0.8750 0.8750 0.8750 0.8750 0.8750 0.8750 0.8750 0.8750 0.8750 0.8750 0.8750 0.8750 0.8750 0.8750 0.8750 0.8750 0.8750 0.8750 0.8750 0.8750 0.8750 0.8750 1.0000 1.0000 1.0000 1.0000 1.0000 1.0000 1.0000 1.0000 1.0000 1.0000 1.0000 1.0000 1.0000 1.0000 1.0000 1.0000"/></feComponentTransfer><feMorphology in="q" operator="erode" radius="0.5" result="qe"/><feComposite in="q" in2="qe" operator="arithmetic" k2="8" k3="-8" result="edge0"/><feComponentTransfer in="dens" result="inv"><feFuncR type="linear" slope="-0.9" intercept="1.05"/><feFuncG type="linear" slope="-0.9" intercept="1.05"/><feFuncB type="linear" slope="-0.9" intercept="1.05"/></feComponentTransfer><feComposite in="edge0" in2="inv" operator="arithmetic" k1="1" result="edge"/><feComponentTransfer in="dens" result="fill"><feFuncR type="table" tableValues="1.000 1.000 1.000 1.000 1.000 1.000 1.000 0.975 0.968 0.966 0.964 0.962 0.959 0.957 0.955 0.953 0.951 0.948 0.946 0.944 0.942 0.940 0.937 0.935 0.933 0.931 0.929 0.926 0.924 0.922 0.920 0.917 0.915 0.913 0.911 0.909 0.906 0.904 0.902 0.900 0.898 0.895 0.893 0.891 0.889 0.887 0.884 0.882 0.880 0.877 0.873 0.870 0.867 0.863 0.860 0.857 0.853 0.850 0.847 0.843 0.840 0.837 0.833 0.830 0.827 0.823 0.820 0.817 0.813 0.810 0.807 0.803 0.800 0.797 0.793 0.790 0.787 0.783 0.780 0.777 0.773 0.770 0.767 0.763 0.760 0.757 0.753 0.750 0.747 0.743 0.740 0.737 0.733 0.730 0.727 0.723 0.720 0.717 0.714 0.711 0.708 0.705 0.703 0.700 0.697 0.694 0.691 0.688 0.685 0.682 0.679 0.676 0.673 0.670 0.667 0.665 0.662 0.659 0.656 0.653 0.650 0.647 0.644 0.641 0.638 0.635 0.632 0.630 0.627 0.624 0.621 0.618 0.615 0.612 0.609 0.606 0.603 0.600 0.597 0.595 0.592 0.589 0.586 0.583 0.580 0.577 0.574 0.571 0.569 0.566 0.563 0.560 0.557 0.554 0.551 0.548 0.546 0.543 0.540 0.537 0.534 0.531 0.528 0.526 0.523 0.520 0.517 0.514 0.511 0.508 0.506 0.503 0.500 0.497 0.494 0.491 0.488 0.485 0.483 0.480 0.477 0.474 0.471 0.469 0.467 0.465 0.462 0.460 0.458 0.456 0.454 0.452 0.450 0.448 0.446 0.444 0.442 0.440 0.438 0.435 0.433 0.431 0.429 0.427 0.425 0.423 0.421 0.427 0.438 0.449 0.460 0.471 0.482 0.493 0.504 0.516 0.527 0.538 0.549 0.560 0.571 0.585 0.608 0.630 0.653 0.676 0.699 0.722 0.745 0.768 0.791 0.804 0.810 0.816 0.823 0.829 0.835 0.841 0.848 0.854 0.860"/><feFuncG type="table" tableValues="1.000 1.000 1.000 1.000 1.000 1.000 1.000 0.975 0.968 0.966 0.964 0.962 0.959 0.957 0.955 0.953 0.951 0.948 0.946 0.944 0.942 0.940 0.937 0.935 0.933 0.931 0.929 0.926 0.924 0.922 0.920 0.917 0.915 0.913 0.911 0.909 0.906 0.904 0.902 0.900 0.898 0.895 0.893 0.891 0.889 0.887 0.884 0.882 0.880 0.877 0.873 0.870 0.867 0.863 0.860 0.857 0.853 0.850 0.847 0.843 0.840 0.837 0.833 0.830 0.827 0.823 0.820 0.817 0.813 0.810 0.807 0.803 0.800 0.797 0.793 0.790 0.787 0.783 0.780 0.777 0.773 0.770 0.767 0.763 0.760 0.757 0.753 0.750 0.747 0.743 0.740 0.737 0.733 0.730 0.727 0.723 0.720 0.717 0.714 0.711 0.708 0.705 0.703 0.700 0.697 0.694 0.691 0.688 0.685 0.682 0.679 0.676 0.673 0.670 0.667 0.665 0.662 0.659 0.656 0.653 0.650 0.647 0.644 0.641 0.638 0.635 0.632 0.630 0.627 0.624 0.621 0.618 0.615 0.612 0.609 0.606 0.603 0.600 0.597 0.595 0.592 0.589 0.586 0.583 0.580 0.577 0.574 0.571 0.569 0.566 0.563 0.560 0.557 0.554 0.551 0.548 0.546 0.543 0.540 0.537 0.534 0.531 0.528 0.526 0.523 0.520 0.517 0.514 0.511 0.508 0.506 0.503 0.500 0.497 0.494 0.491 0.488 0.485 0.483 0.480 0.477 0.474 0.471 0.469 0.467 0.465 0.462 0.460 0.458 0.456 0.454 0.452 0.450 0.448 0.446 0.444 0.442 0.440 0.438 0.435 0.433 0.431 0.429 0.427 0.425 0.423 0.421 0.427 0.438 0.449 0.460 0.471 0.482 0.493 0.504 0.516 0.527 0.538 0.549 0.560 0.571 0.585 0.608 0.630 0.653 0.676 0.699 0.722 0.745 0.768 0.791 0.804 0.810 0.816 0.823 0.829 0.835 0.841 0.848 0.854 0.860"/><feFuncB type="table" tableValues="1.000 1.000 1.000 1.000 1.000 1.000 1.000 0.975 0.968 0.966 0.964 0.962 0.959 0.957 0.955 0.953 0.951 0.948 0.946 0.944 0.942 0.940 0.937 0.935 0.933 0.931 0.929 0.926 0.924 0.922 0.920 0.917 0.915 0.913 0.911 0.909 0.906 0.904 0.902 0.900 0.898 0.895 0.893 0.891 0.889 0.887 0.884 0.882 0.880 0.877 0.873 0.870 0.867 0.863 0.860 0.857 0.853 0.850 0.847 0.843 0.840 0.837 0.833 0.830 0.827 0.823 0.820 0.817 0.813 0.810 0.807 0.803 0.800 0.797 0.793 0.790 0.787 0.783 0.780 0.777 0.773 0.770 0.767 0.763 0.760 0.757 0.753 0.750 0.747 0.743 0.740 0.737 0.733 0.730 0.727 0.723 0.720 0.717 0.714 0.711 0.708 0.705 0.703 0.700 0.697 0.694 0.691 0.688 0.685 0.682 0.679 0.676 0.673 0.670 0.667 0.665 0.662 0.659 0.656 0.653 0.650 0.647 0.644 0.641 0.638 0.635 0.632 0.630 0.627 0.624 0.621 0.618 0.615 0.612 0.609 0.606 0.603 0.600 0.597 0.595 0.592 0.589 0.586 0.583 0.580 0.577 0.574 0.571 0.569 0.566 0.563 0.560 0.557 0.554 0.551 0.548 0.546 0.543 0.540 0.537 0.534 0.531 0.528 0.526 0.523 0.520 0.517 0.514 0.511 0.508 0.506 0.503 0.500 0.497 0.494 0.491 0.488 0.485 0.483 0.480 0.477 0.474 0.471 0.469 0.467 0.465 0.462 0.460 0.458 0.456 0.454 0.452 0.450 0.448 0.446 0.444 0.442 0.440 0.438 0.435 0.433 0.431 0.429 0.427 0.425 0.423 0.421 0.427 0.438 0.449 0.460 0.471 0.482 0.493 0.504 0.516 0.527 0.538 0.549 0.560 0.571 0.585 0.608 0.630 0.653 0.676 0.699 0.722 0.745 0.768 0.791 0.804 0.810 0.816 0.823 0.829 0.835 0.841 0.848 0.854 0.860"/></feComponentTransfer><feComposite in="fill" in2="edge" operator="arithmetic" k2="1" k3="-0.3"/></filter><filter id="cf9" filterUnits="userSpaceOnUse" x="444.80" y="252.60" width="68.50" height="67.90" color-interpolation-filters="sRGB"><feGaussianBlur stdDeviation="0.6"/><feColorMatrix type="matrix" values="0 0 0 1 0  0 0 0 1 0  0 0 0 1 0  0 0 0 0 1" result="dens"/><feComponentTransfer in="dens" result="q"><feFuncR type="discrete" tableValues="0.0000 0.0000 0.0000 0.0000 0.0000 0.1250 0.1250 0.1250 0.1250 0.1250 0.1250 0.1250 0.1250 0.1250 0.1250 0.1250 0.1250 0.1250 0.1250 0.1250 0.1250 0.1250 0.1250 0.1250 0.2500 0.2500 0.2500 0.2500 0.2500 0.2500 0.2500 0.2500 0.2500 0.2500 0.2500 0.2500 0.2500 0.2500 0.2500 0.2500 0.2500 0.2500 0.2500 0.2500 0.2500 0.2500 0.2500 0.2500 0.3750 0.3750 0.3750 0.3750 0.3750 0.3750 0.3750 0.3750 0.3750 0.3750 0.3750 0.3750 0.3750 0.3750 0.3750 0.3750 0.3750 0.3750 0.3750 0.3750 0.3750 0.3750 0.3750 0.3750 0.3750 0.3750 0.3750 0.3750 0.5000 0.5000 0.5000 0.5000 0.5000 0.5000 0.5000 0.5000 0.5000 0.5000 0.5000 0.5000 0.5000 0.5000 0.5000 0.5000 0.5000 0.5000 0.5000 0.5000 0.5000 0.5000 0.5000 0.5000 0.5000 0.5000 0.5000 0.5000 0.6250 0.6250 0.6250 0.6250 0.6250 0.6250 0.6250 0.6250 0.6250 0.6250 0.6250 0.6250 0.6250 0.6250 0.6250 0.6250 0.6250 0.6250 0.6250 0.6250 0.6250 0.6250 0.6250 0.6250 0.6250 0.6250 0.6250 0.6250 0.7500 0.7500 0.7500 0.7500 0.7500 0.7500 0.7500 0.7500 0.7500 0.7500 0.7500 0.7500 0.7500 0.7500 0.7500 0.7500 0.7500 0.7500 0.7500 0.7500 0.7500 0.7500 0.7500 0.7500 0.7500 0.7500 0.7500 0.7500 0.8750 0.8750 0.8750 0.8750 0.8750 0.8750 0.8750 0.8750 0.8750 0.8750 0.8750 0.8750 0.8750 0.8750 0.8750 0.8750 0.8750 0.8750 0.8750 0.8750 0.8750 0.8750 0.8750 0.8750 1.0000 1.0000 1.0000 1.0000 1.0000 1.0000 1.0000 1.0000 1.0000 1.0000 1.0000 1.0000 1.0000 1.0000 1.0000 1.0000"/><feFuncG type="discrete" tableValues="0.0000 0.0000 0.0000 0.0000 0.0000 0.1250 0.1250 0.1250 0.1250 0.1250 0.1250 0.1250 0.1250 0.1250 0.1250 0.1250 0.1250 0.1250 0.1250 0.1250 0.1250 0.1250 0.1250 0.1250 0.2500 0.2500 0.2500 0.2500 0.2500 0.2500 0.2500 0.2500 0.2500 0.2500 0.2500 0.2500 0.2500 0.2500 0.2500 0.2500 0.2500 0.2500 0.2500 0.2500 0.2500 0.2500 0.2500 0.2500 0.3750 0.3750 0.3750 0.3750 0.3750 0.3750 0.3750 0.3750 0.3750 0.3750 0.3750 0.3750 0.3750 0.3750 0.3750 0.3750 0.3750 0.3750 0.3750 0.3750 0.3750 0.3750 0.3750 0.3750 0.3750 0.3750 0.3750 0.3750 0.5000 0.5000 0.5000 0.5000 0.5000 0.5000 0.5000 0.5000 0.5000 0.5000 0.5000 0.5000 0.5000 0.5000 0.5000 0.5000 0.5000 0.5000 0.5000 0.5000 0.5000 0.5000 0.5000 0.5000 0.5000 0.5000 0.5000 0.5000 0.6250 0.6250 0.6250 0.6250 0.6250 0.6250 0.6250 0.6250 0.6250 0.6250 0.6250 0.6250 0.6250 0.6250 0.6250 0.6250 0.6250 0.6250 0.6250 0.6250 0.6250 0.6250 0.6250 0.6250 0.6250 0.6250 0.6250 0.6250 0.7500 0.7500 0.7500 0.7500 0.7500 0.7500 0.7500 0.7500 0.7500 0.7500 0.7500 0.7500 0.7500 0.7500 0.7500 0.7500 0.7500 0.7500 0.7500 0.7500 0.7500 0.7500 0.7500 0.7500 0.7500 0.7500 0.7500 0.7500 0.8750 0.8750 0.8750 0.8750 0.8750 0.8750 0.8750 0.8750 0.8750 0.8750 0.8750 0.8750 0.8750 0.8750 0.8750 0.8750 0.8750 0.8750 0.8750 0.8750 0.8750 0.8750 0.8750 0.8750 1.0000 1.0000 1.0000 1.0000 1.0000 1.0000 1.0000 1.0000 1.0000 1.0000 1.0000 1.0000 1.0000 1.0000 1.0000 1.0000"/><feFuncB type="discrete" tableValues="0.0000 0.0000 0.0000 0.0000 0.0000 0.1250 0.1250 0.1250 0.1250 0.1250 0.1250 0.1250 0.1250 0.1250 0.1250 0.1250 0.1250 0.1250 0.1250 0.1250 0.1250 0.1250 0.1250 0.1250 0.2500 0.2500 0.2500 0.2500 0.2500 0.2500 0.2500 0.2500 0.2500 0.2500 0.2500 0.2500 0.2500 0.2500 0.2500 0.2500 0.2500 0.2500 0.2500 0.2500 0.2500 0.2500 0.2500 0.2500 0.3750 0.3750 0.3750 0.3750 0.3750 0.3750 0.3750 0.3750 0.3750 0.3750 0.3750 0.3750 0.3750 0.3750 0.3750 0.3750 0.3750 0.3750 0.3750 0.3750 0.3750 0.3750 0.3750 0.3750 0.3750 0.3750 0.3750 0.3750 0.5000 0.5000 0.5000 0.5000 0.5000 0.5000 0.5000 0.5000 0.5000 0.5000 0.5000 0.5000 0.5000 0.5000 0.5000 0.5000 0.5000 0.5000 0.5000 0.5000 0.5000 0.5000 0.5000 0.5000 0.5000 0.5000 0.5000 0.5000 0.6250 0.6250 0.6250 0.6250 0.6250 0.6250 0.6250 0.6250 0.6250 0.6250 0.6250 0.6250 0.6250 0.6250 0.6250 0.6250 0.6250 0.6250 0.6250 0.6250 0.6250 0.6250 0.6250 0.6250 0.6250 0.6250 0.6250 0.6250 0.7500 0.7500 0.7500 0.7500 0.7500 0.7500 0.7500 0.7500 0.7500 0.7500 0.7500 0.7500 0.7500 0.7500 0.7500 0.7500 0.7500 0.7500 0.7500 0.7500 0.7500 0.7500 0.7500 0.7500 0.7500 0.7500 0.7500 0.7500 0.8750 0.8750 0.8750 0.8750 0.8750 0.8750 0.8750 0.8750 0.8750 0.8750 0.8750 0.8750 0.8750 0.8750 0.8750 0.8750 0.8750 0.8750 0.8750 0.8750 0.8750 0.8750 0.8750 0.8750 1.0000 1.0000 1.0000 1.0000 1.0000 1.0000 1.0000 1.0000 1.0000 1.0000 1.0000 1.0000 1.0000 1.0000 1.0000 1.0000"/></feComponentTransfer><feMorphology in="q" operator="erode" radius="0.5" result="qe"/><feComposite in="q" in2="qe" operator="arithmetic" k2="8" k3="-8" result="edge0"/><feComponentTransfer in="dens" result="inv"><feFuncR type="linear" slope="-0.9" intercept="1.05"/><feFuncG type="linear" slope="-0.9" intercept="1.05"/><feFuncB type="linear" slope="-0.9" intercept="1.05"/></feComponentTransfer><feComposite in="edge0" in2="inv" operator="arithmetic" k1="1" result="edge"/><feComponentTransfer in="dens" result="fill"><feFuncR type="table" tableValues="1.000 1.000 1.000 1.000 1.000 1.000 1.000 0.975 0.968 0.966 0.964 0.962 0.959 0.957 0.955 0.953 0.951 0.948 0.946 0.944 0.942 0.940 0.937 0.935 0.933 0.931 0.929 0.926 0.924 0.922 0.920 0.917 0.915 0.913 0.911 0.909 0.906 0.904 0.902 0.900 0.898 0.895 0.893 0.891 0.889 0.887 0.884 0.882 0.880 0.877 0.873 0.870 0.867 0.863 0.860 0.857 0.853 0.850 0.847 0.843 0.840 0.837 0.833 0.830 0.827 0.823 0.820 0.817 0.813 0.810 0.807 0.803 0.800 0.797 0.793 0.790 0.787 0.783 0.780 0.777 0.773 0.770 0.767 0.763 0.760 0.757 0.753 0.750 0.747 0.743 0.740 0.737 0.733 0.730 0.727 0.723 0.720 0.717 0.714 0.711 0.708 0.705 0.703 0.700 0.697 0.694 0.691 0.688 0.685 0.682 0.679 0.676 0.673 0.670 0.667 0.665 0.662 0.659 0.656 0.653 0.650 0.647 0.644 0.641 0.638 0.635 0.632 0.630 0.627 0.624 0.621 0.618 0.615 0.612 0.609 0.606 0.603 0.600 0.597 0.595 0.592 0.589 0.586 0.583 0.580 0.577 0.574 0.571 0.569 0.566 0.563 0.560 0.557 0.554 0.551 0.548 0.546 0.543 0.540 0.537 0.534 0.531 0.528 0.526 0.523 0.520 0.517 0.514 0.511 0.508 0.506 0.503 0.500 0.497 0.494 0.491 0.488 0.485 0.483 0.480 0.477 0.474 0.471 0.469 0.467 0.465 0.462 0.460 0.458 0.456 0.454 0.452 0.450 0.448 0.446 0.444 0.442 0.440 0.438 0.435 0.433 0.431 0.429 0.427 0.425 0.423 0.421 0.427 0.438 0.449 0.460 0.471 0.482 0.493 0.504 0.516 0.527 0.538 0.549 0.560 0.571 0.585 0.608 0.630 0.653 0.676 0.699 0.722 0.745 0.768 0.791 0.804 0.810 0.816 0.823 0.829 0.835 0.841 0.848 0.854 0.860"/><feFuncG type="table" tableValues="1.000 1.000 1.000 1.000 1.000 1.000 1.000 0.975 0.968 0.966 0.964 0.962 0.959 0.957 0.955 0.953 0.951 0.948 0.946 0.944 0.942 0.940 0.937 0.935 0.933 0.931 0.929 0.926 0.924 0.922 0.920 0.917 0.915 0.913 0.911 0.909 0.906 0.904 0.902 0.900 0.898 0.895 0.893 0.891 0.889 0.887 0.884 0.882 0.880 0.877 0.873 0.870 0.867 0.863 0.860 0.857 0.853 0.850 0.847 0.843 0.840 0.837 0.833 0.830 0.827 0.823 0.820 0.817 0.813 0.810 0.807 0.803 0.800 0.797 0.793 0.790 0.787 0.783 0.780 0.777 0.773 0.770 0.767 0.763 0.760 0.757 0.753 0.750 0.747 0.743 0.740 0.737 0.733 0.730 0.727 0.723 0.720 0.717 0.714 0.711 0.708 0.705 0.703 0.700 0.697 0.694 0.691 0.688 0.685 0.682 0.679 0.676 0.673 0.670 0.667 0.665 0.662 0.659 0.656 0.653 0.650 0.647 0.644 0.641 0.638 0.635 0.632 0.630 0.627 0.624 0.621 0.618 0.615 0.612 0.609 0.606 0.603 0.600 0.597 0.595 0.592 0.589 0.586 0.583 0.580 0.577 0.574 0.571 0.569 0.566 0.563 0.560 0.557 0.554 0.551 0.548 0.546 0.543 0.540 0.537 0.534 0.531 0.528 0.526 0.523 0.520 0.517 0.514 0.511 0.508 0.506 0.503 0.500 0.497 0.494 0.491 0.488 0.485 0.483 0.480 0.477 0.474 0.471 0.469 0.467 0.465 0.462 0.460 0.458 0.456 0.454 0.452 0.450 0.448 0.446 0.444 0.442 0.440 0.438 0.435 0.433 0.431 0.429 0.427 0.425 0.423 0.421 0.427 0.438 0.449 0.460 0.471 0.482 0.493 0.504 0.516 0.527 0.538 0.549 0.560 0.571 0.585 0.608 0.630 0.653 0.676 0.699 0.722 0.745 0.768 0.791 0.804 0.810 0.816 0.823 0.829 0.835 0.841 0.848 0.854 0.860"/><feFuncB type="table" tableValues="1.000 1.000 1.000 1.000 1.000 1.000 1.000 0.975 0.968 0.966 0.964 0.962 0.959 0.957 0.955 0.953 0.951 0.948 0.946 0.944 0.942 0.940 0.937 0.935 0.933 0.931 0.929 0.926 0.924 0.922 0.920 0.917 0.915 0.913 0.911 0.909 0.906 0.904 0.902 0.900 0.898 0.895 0.893 0.891 0.889 0.887 0.884 0.882 0.880 0.877 0.873 0.870 0.867 0.863 0.860 0.857 0.853 0.850 0.847 0.843 0.840 0.837 0.833 0.830 0.827 0.823 0.820 0.817 0.813 0.810 0.807 0.803 0.800 0.797 0.793 0.790 0.787 0.783 0.780 0.777 0.773 0.770 0.767 0.763 0.760 0.757 0.753 0.750 0.747 0.743 0.740 0.737 0.733 0.730 0.727 0.723 0.720 0.717 0.714 0.711 0.708 0.705 0.703 0.700 0.697 0.694 0.691 0.688 0.685 0.682 0.679 0.676 0.673 0.670 0.667 0.665 0.662 0.659 0.656 0.653 0.650 0.647 0.644 0.641 0.638 0.635 0.632 0.630 0.627 0.624 0.621 0.618 0.615 0.612 0.609 0.606 0.603 0.600 0.597 0.595 0.592 0.589 0.586 0.583 0.580 0.577 0.574 0.571 0.569 0.566 0.563 0.560 0.557 0.554 0.551 0.548 0.546 0.543 0.540 0.537 0.534 0.531 0.528 0.526 0.523 0.520 0.517 0.514 0.511 0.508 0.506 0.503 0.500 0.497 0.494 0.491 0.488 0.485 0.483 0.480 0.477 0.474 0.471 0.469 0.467 0.465 0.462 0.460 0.458 0.456 0.454 0.452 0.450 0.448 0.446 0.444 0.442 0.440 0.438 0.435 0.433 0.431 0.429 0.427 0.425 0.423 0.421 0.427 0.438 0.449 0.460 0.471 0.482 0.493 0.504 0.516 0.527 0.538 0.549 0.560 0.571 0.585 0.608 0.630 0.653 0.676 0.699 0.722 0.745 0.768 0.791 0.804 0.810 0.816 0.823 0.829 0.835 0.841 0.848 0.854 0.860"/></feComponentTransfer><feComposite in="fill" in2="edge" operator="arithmetic" k2="1" k3="-0.3"/></filter><filter id="sb2_0" filterUnits="userSpaceOnUse" x="-40" y="-40" width="150" height="150"><feGaussianBlur stdDeviation="2.0"/></filter><filter id="sb1_4" filterUnits="userSpaceOnUse" x="-40" y="-40" width="150" height="150"><feGaussianBlur stdDeviation="1.4"/></filter><filter id="cf10" filterUnits="userSpaceOnUse" x="154.90" y="351.10" width="68.50" height="67.90" color-interpolation-filters="sRGB"><feGaussianBlur stdDeviation="0.6"/><feColorMatrix type="matrix" values="0 0 0 1 0  0 0 0 1 0  0 0 0 1 0  0 0 0 0 1" result="dens"/><feComponentTransfer in="dens" result="q"><feFuncR type="discrete" tableValues="0.0000 0.0000 0.0000 0.0000 0.0000 0.1250 0.1250 0.1250 0.1250 0.1250 0.1250 0.1250 0.1250 0.1250 0.1250 0.1250 0.1250 0.1250 0.1250 0.1250 0.1250 0.1250 0.1250 0.1250 0.2500 0.2500 0.2500 0.2500 0.2500 0.2500 0.2500 0.2500 0.2500 0.2500 0.2500 0.2500 0.2500 0.2500 0.2500 0.2500 0.2500 0.2500 0.2500 0.2500 0.2500 0.2500 0.2500 0.2500 0.3750 0.3750 0.3750 0.3750 0.3750 0.3750 0.3750 0.3750 0.3750 0.3750 0.3750 0.3750 0.3750 0.3750 0.3750 0.3750 0.3750 0.3750 0.3750 0.3750 0.3750 0.3750 0.3750 0.3750 0.3750 0.3750 0.3750 0.3750 0.5000 0.5000 0.5000 0.5000 0.5000 0.5000 0.5000 0.5000 0.5000 0.5000 0.5000 0.5000 0.5000 0.5000 0.5000 0.5000 0.5000 0.5000 0.5000 0.5000 0.5000 0.5000 0.5000 0.5000 0.5000 0.5000 0.5000 0.5000 0.6250 0.6250 0.6250 0.6250 0.6250 0.6250 0.6250 0.6250 0.6250 0.6250 0.6250 0.6250 0.6250 0.6250 0.6250 0.6250 0.6250 0.6250 0.6250 0.6250 0.6250 0.6250 0.6250 0.6250 0.6250 0.6250 0.6250 0.6250 0.7500 0.7500 0.7500 0.7500 0.7500 0.7500 0.7500 0.7500 0.7500 0.7500 0.7500 0.7500 0.7500 0.7500 0.7500 0.7500 0.7500 0.7500 0.7500 0.7500 0.7500 0.7500 0.7500 0.7500 0.7500 0.7500 0.7500 0.7500 0.8750 0.8750 0.8750 0.8750 0.8750 0.8750 0.8750 0.8750 0.8750 0.8750 0.8750 0.8750 0.8750 0.8750 0.8750 0.8750 0.8750 0.8750 0.8750 0.8750 0.8750 0.8750 0.8750 0.8750 1.0000 1.0000 1.0000 1.0000 1.0000 1.0000 1.0000 1.0000 1.0000 1.0000 1.0000 1.0000 1.0000 1.0000 1.0000 1.0000"/><feFuncG type="discrete" tableValues="0.0000 0.0000 0.0000 0.0000 0.0000 0.1250 0.1250 0.1250 0.1250 0.1250 0.1250 0.1250 0.1250 0.1250 0.1250 0.1250 0.1250 0.1250 0.1250 0.1250 0.1250 0.1250 0.1250 0.1250 0.2500 0.2500 0.2500 0.2500 0.2500 0.2500 0.2500 0.2500 0.2500 0.2500 0.2500 0.2500 0.2500 0.2500 0.2500 0.2500 0.2500 0.2500 0.2500 0.2500 0.2500 0.2500 0.2500 0.2500 0.3750 0.3750 0.3750 0.3750 0.3750 0.3750 0.3750 0.3750 0.3750 0.3750 0.3750 0.3750 0.3750 0.3750 0.3750 0.3750 0.3750 0.3750 0.3750 0.3750 0.3750 0.3750 0.3750 0.3750 0.3750 0.3750 0.3750 0.3750 0.5000 0.5000 0.5000 0.5000 0.5000 0.5000 0.5000 0.5000 0.5000 0.5000 0.5000 0.5000 0.5000 0.5000 0.5000 0.5000 0.5000 0.5000 0.5000 0.5000 0.5000 0.5000 0.5000 0.5000 0.5000 0.5000 0.5000 0.5000 0.6250 0.6250 0.6250 0.6250 0.6250 0.6250 0.6250 0.6250 0.6250 0.6250 0.6250 0.6250 0.6250 0.6250 0.6250 0.6250 0.6250 0.6250 0.6250 0.6250 0.6250 0.6250 0.6250 0.6250 0.6250 0.6250 0.6250 0.6250 0.7500 0.7500 0.7500 0.7500 0.7500 0.7500 0.7500 0.7500 0.7500 0.7500 0.7500 0.7500 0.7500 0.7500 0.7500 0.7500 0.7500 0.7500 0.7500 0.7500 0.7500 0.7500 0.7500 0.7500 0.7500 0.7500 0.7500 0.7500 0.8750 0.8750 0.8750 0.8750 0.8750 0.8750 0.8750 0.8750 0.8750 0.8750 0.8750 0.8750 0.8750 0.8750 0.8750 0.8750 0.8750 0.8750 0.8750 0.8750 0.8750 0.8750 0.8750 0.8750 1.0000 1.0000 1.0000 1.0000 1.0000 1.0000 1.0000 1.0000 1.0000 1.0000 1.0000 1.0000 1.0000 1.0000 1.0000 1.0000"/><feFuncB type="discrete" tableValues="0.0000 0.0000 0.0000 0.0000 0.0000 0.1250 0.1250 0.1250 0.1250 0.1250 0.1250 0.1250 0.1250 0.1250 0.1250 0.1250 0.1250 0.1250 0.1250 0.1250 0.1250 0.1250 0.1250 0.1250 0.2500 0.2500 0.2500 0.2500 0.2500 0.2500 0.2500 0.2500 0.2500 0.2500 0.2500 0.2500 0.2500 0.2500 0.2500 0.2500 0.2500 0.2500 0.2500 0.2500 0.2500 0.2500 0.2500 0.2500 0.3750 0.3750 0.3750 0.3750 0.3750 0.3750 0.3750 0.3750 0.3750 0.3750 0.3750 0.3750 0.3750 0.3750 0.3750 0.3750 0.3750 0.3750 0.3750 0.3750 0.3750 0.3750 0.3750 0.3750 0.3750 0.3750 0.3750 0.3750 0.5000 0.5000 0.5000 0.5000 0.5000 0.5000 0.5000 0.5000 0.5000 0.5000 0.5000 0.5000 0.5000 0.5000 0.5000 0.5000 0.5000 0.5000 0.5000 0.5000 0.5000 0.5000 0.5000 0.5000 0.5000 0.5000 0.5000 0.5000 0.6250 0.6250 0.6250 0.6250 0.6250 0.6250 0.6250 0.6250 0.6250 0.6250 0.6250 0.6250 0.6250 0.6250 0.6250 0.6250 0.6250 0.6250 0.6250 0.6250 0.6250 0.6250 0.6250 0.6250 0.6250 0.6250 0.6250 0.6250 0.7500 0.7500 0.7500 0.7500 0.7500 0.7500 0.7500 0.7500 0.7500 0.7500 0.7500 0.7500 0.7500 0.7500 0.7500 0.7500 0.7500 0.7500 0.7500 0.7500 0.7500 0.7500 0.7500 0.7500 0.7500 0.7500 0.7500 0.7500 0.8750 0.8750 0.8750 0.8750 0.8750 0.8750 0.8750 0.8750 0.8750 0.8750 0.8750 0.8750 0.8750 0.8750 0.8750 0.8750 0.8750 0.8750 0.8750 0.8750 0.8750 0.8750 0.8750 0.8750 1.0000 1.0000 1.0000 1.0000 1.0000 1.0000 1.0000 1.0000 1.0000 1.0000 1.0000 1.0000 1.0000 1.0000 1.0000 1.0000"/></feComponentTransfer><feMorphology in="q" operator="erode" radius="0.5" result="qe"/><feComposite in="q" in2="qe" operator="arithmetic" k2="8" k3="-8" result="edge0"/><feComponentTransfer in="dens" result="inv"><feFuncR type="linear" slope="-0.9" intercept="1.05"/><feFuncG type="linear" slope="-0.9" intercept="1.05"/><feFuncB type="linear" slope="-0.9" intercept="1.05"/></feComponentTransfer><feComposite in="edge0" in2="inv" operator="arithmetic" k1="1" result="edge"/><feComponentTransfer in="dens" result="fill"><feFuncR type="table" tableValues="1.000 1.000 1.000 1.000 1.000 1.000 1.000 0.975 0.968 0.966 0.964 0.962 0.959 0.957 0.955 0.953 0.951 0.948 0.946 0.944 0.942 0.940 0.937 0.935 0.933 0.931 0.929 0.926 0.924 0.922 0.920 0.917 0.915 0.913 0.911 0.909 0.906 0.904 0.902 0.900 0.898 0.895 0.893 0.891 0.889 0.887 0.884 0.882 0.880 0.877 0.873 0.870 0.867 0.863 0.860 0.857 0.853 0.850 0.847 0.843 0.840 0.837 0.833 0.830 0.827 0.823 0.820 0.817 0.813 0.810 0.807 0.803 0.800 0.797 0.793 0.790 0.787 0.783 0.780 0.777 0.773 0.770 0.767 0.763 0.760 0.757 0.753 0.750 0.747 0.743 0.740 0.737 0.733 0.730 0.727 0.723 0.720 0.717 0.714 0.711 0.708 0.705 0.703 0.700 0.697 0.694 0.691 0.688 0.685 0.682 0.679 0.676 0.673 0.670 0.667 0.665 0.662 0.659 0.656 0.653 0.650 0.647 0.644 0.641 0.638 0.635 0.632 0.630 0.627 0.624 0.621 0.618 0.615 0.612 0.609 0.606 0.603 0.600 0.597 0.595 0.592 0.589 0.586 0.583 0.580 0.577 0.574 0.571 0.569 0.566 0.563 0.560 0.557 0.554 0.551 0.548 0.546 0.543 0.540 0.537 0.534 0.531 0.528 0.526 0.523 0.520 0.517 0.514 0.511 0.508 0.506 0.503 0.500 0.497 0.494 0.491 0.488 0.485 0.483 0.480 0.477 0.474 0.471 0.469 0.467 0.465 0.462 0.460 0.458 0.456 0.454 0.452 0.450 0.448 0.446 0.444 0.442 0.440 0.438 0.435 0.433 0.431 0.429 0.427 0.425 0.423 0.421 0.427 0.438 0.449 0.460 0.471 0.482 0.493 0.504 0.516 0.527 0.538 0.549 0.560 0.571 0.585 0.608 0.630 0.653 0.676 0.699 0.722 0.745 0.768 0.791 0.804 0.810 0.816 0.823 0.829 0.835 0.841 0.848 0.854 0.860"/><feFuncG type="table" tableValues="1.000 1.000 1.000 1.000 1.000 1.000 1.000 0.975 0.968 0.966 0.964 0.962 0.959 0.957 0.955 0.953 0.951 0.948 0.946 0.944 0.942 0.940 0.937 0.935 0.933 0.931 0.929 0.926 0.924 0.922 0.920 0.917 0.915 0.913 0.911 0.909 0.906 0.904 0.902 0.900 0.898 0.895 0.893 0.891 0.889 0.887 0.884 0.882 0.880 0.877 0.873 0.870 0.867 0.863 0.860 0.857 0.853 0.850 0.847 0.843 0.840 0.837 0.833 0.830 0.827 0.823 0.820 0.817 0.813 0.810 0.807 0.803 0.800 0.797 0.793 0.790 0.787 0.783 0.780 0.777 0.773 0.770 0.767 0.763 0.760 0.757 0.753 0.750 0.747 0.743 0.740 0.737 0.733 0.730 0.727 0.723 0.720 0.717 0.714 0.711 0.708 0.705 0.703 0.700 0.697 0.694 0.691 0.688 0.685 0.682 0.679 0.676 0.673 0.670 0.667 0.665 0.662 0.659 0.656 0.653 0.650 0.647 0.644 0.641 0.638 0.635 0.632 0.630 0.627 0.624 0.621 0.618 0.615 0.612 0.609 0.606 0.603 0.600 0.597 0.595 0.592 0.589 0.586 0.583 0.580 0.577 0.574 0.571 0.569 0.566 0.563 0.560 0.557 0.554 0.551 0.548 0.546 0.543 0.540 0.537 0.534 0.531 0.528 0.526 0.523 0.520 0.517 0.514 0.511 0.508 0.506 0.503 0.500 0.497 0.494 0.491 0.488 0.485 0.483 0.480 0.477 0.474 0.471 0.469 0.467 0.465 0.462 0.460 0.458 0.456 0.454 0.452 0.450 0.448 0.446 0.444 0.442 0.440 0.438 0.435 0.433 0.431 0.429 0.427 0.425 0.423 0.421 0.427 0.438 0.449 0.460 0.471 0.482 0.493 0.504 0.516 0.527 0.538 0.549 0.560 0.571 0.585 0.608 0.630 0.653 0.676 0.699 0.722 0.745 0.768 0.791 0.804 0.810 0.816 0.823 0.829 0.835 0.841 0.848 0.854 0.860"/><feFuncB type="table" tableValues="1.000 1.000 1.000 1.000 1.000 1.000 1.000 0.975 0.968 0.966 0.964 0.962 0.959 0.957 0.955 0.953 0.951 0.948 0.946 0.944 0.942 0.940 0.937 0.935 0.933 0.931 0.929 0.926 0.924 0.922 0.920 0.917 0.915 0.913 0.911 0.909 0.906 0.904 0.902 0.900 0.898 0.895 0.893 0.891 0.889 0.887 0.884 0.882 0.880 0.877 0.873 0.870 0.867 0.863 0.860 0.857 0.853 0.850 0.847 0.843 0.840 0.837 0.833 0.830 0.827 0.823 0.820 0.817 0.813 0.810 0.807 0.803 0.800 0.797 0.793 0.790 0.787 0.783 0.780 0.777 0.773 0.770 0.767 0.763 0.760 0.757 0.753 0.750 0.747 0.743 0.740 0.737 0.733 0.730 0.727 0.723 0.720 0.717 0.714 0.711 0.708 0.705 0.703 0.700 0.697 0.694 0.691 0.688 0.685 0.682 0.679 0.676 0.673 0.670 0.667 0.665 0.662 0.659 0.656 0.653 0.650 0.647 0.644 0.641 0.638 0.635 0.632 0.630 0.627 0.624 0.621 0.618 0.615 0.612 0.609 0.606 0.603 0.600 0.597 0.595 0.592 0.589 0.586 0.583 0.580 0.577 0.574 0.571 0.569 0.566 0.563 0.560 0.557 0.554 0.551 0.548 0.546 0.543 0.540 0.537 0.534 0.531 0.528 0.526 0.523 0.520 0.517 0.514 0.511 0.508 0.506 0.503 0.500 0.497 0.494 0.491 0.488 0.485 0.483 0.480 0.477 0.474 0.471 0.469 0.467 0.465 0.462 0.460 0.458 0.456 0.454 0.452 0.450 0.448 0.446 0.444 0.442 0.440 0.438 0.435 0.433 0.431 0.429 0.427 0.425 0.423 0.421 0.427 0.438 0.449 0.460 0.471 0.482 0.493 0.504 0.516 0.527 0.538 0.549 0.560 0.571 0.585 0.608 0.630 0.653 0.676 0.699 0.722 0.745 0.768 0.791 0.804 0.810 0.816 0.823 0.829 0.835 0.841 0.848 0.854 0.860"/></feComponentTransfer><feComposite in="fill" in2="edge" operator="arithmetic" k2="1" k3="-0.3"/></filter><filter id="sb2_1" filterUnits="userSpaceOnUse" x="-40" y="-40" width="150" height="150"><feGaussianBlur stdDeviation="2.1"/></filter><filter id="sb1_2" filterUnits="userSpaceOnUse" x="-40" y="-40" width="150" height="150"><feGaussianBlur stdDeviation="1.2"/></filter><filter id="cf11" filterUnits="userSpaceOnUse" x="251.60" y="351.80" width="68.50" height="67.90" color-interpolation-filters="sRGB"><feGaussianBlur stdDeviation="0.6"/><feColorMatrix type="matrix" values="0 0 0 1 0  0 0 0 1 0  0 0 0 1 0  0 0 0 0 1" result="dens"/><feComponentTransfer in="dens" result="q"><feFuncR type="discrete" tableValues="0.0000 0.0000 0.0000 0.0000 0.0000 0.1250 0.1250 0.1250 0.1250 0.1250 0.1250 0.1250 0.1250 0.1250 0.1250 0.1250 0.1250 0.1250 0.1250 0.1250 0.1250 0.1250 0.1250 0.1250 0.2500 0.2500 0.2500 0.2500 0.2500 0.2500 0.2500 0.2500 0.2500 0.2500 0.2500 0.2500 0.2500 0.2500 0.2500 0.2500 0.2500 0.2500 0.2500 0.2500 0.2500 0.2500 0.2500 0.2500 0.3750 0.3750 0.3750 0.3750 0.3750 0.3750 0.3750 0.3750 0.3750 0.3750 0.3750 0.3750 0.3750 0.3750 0.3750 0.3750 0.3750 0.3750 0.3750 0.3750 0.3750 0.3750 0.3750 0.3750 0.3750 0.3750 0.3750 0.3750 0.5000 0.5000 0.5000 0.5000 0.5000 0.5000 0.5000 0.5000 0.5000 0.5000 0.5000 0.5000 0.5000 0.5000 0.5000 0.5000 0.5000 0.5000 0.5000 0.5000 0.5000 0.5000 0.5000 0.5000 0.5000 0.5000 0.5000 0.5000 0.6250 0.6250 0.6250 0.6250 0.6250 0.6250 0.6250 0.6250 0.6250 0.6250 0.6250 0.6250 0.6250 0.6250 0.6250 0.6250 0.6250 0.6250 0.6250 0.6250 0.6250 0.6250 0.6250 0.6250 0.6250 0.6250 0.6250 0.6250 0.7500 0.7500 0.7500 0.7500 0.7500 0.7500 0.7500 0.7500 0.7500 0.7500 0.7500 0.7500 0.7500 0.7500 0.7500 0.7500 0.7500 0.7500 0.7500 0.7500 0.7500 0.7500 0.7500 0.7500 0.7500 0.7500 0.7500 0.7500 0.8750 0.8750 0.8750 0.8750 0.8750 0.8750 0.8750 0.8750 0.8750 0.8750 0.8750 0.8750 0.8750 0.8750 0.8750 0.8750 0.8750 0.8750 0.8750 0.8750 0.8750 0.8750 0.8750 0.8750 1.0000 1.0000 1.0000 1.0000 1.0000 1.0000 1.0000 1.0000 1.0000 1.0000 1.0000 1.0000 1.0000 1.0000 1.0000 1.0000"/><feFuncG type="discrete" tableValues="0.0000 0.0000 0.0000 0.0000 0.0000 0.1250 0.1250 0.1250 0.1250 0.1250 0.1250 0.1250 0.1250 0.1250 0.1250 0.1250 0.1250 0.1250 0.1250 0.1250 0.1250 0.1250 0.1250 0.1250 0.2500 0.2500 0.2500 0.2500 0.2500 0.2500 0.2500 0.2500 0.2500 0.2500 0.2500 0.2500 0.2500 0.2500 0.2500 0.2500 0.2500 0.2500 0.2500 0.2500 0.2500 0.2500 0.2500 0.2500 0.3750 0.3750 0.3750 0.3750 0.3750 0.3750 0.3750 0.3750 0.3750 0.3750 0.3750 0.3750 0.3750 0.3750 0.3750 0.3750 0.3750 0.3750 0.3750 0.3750 0.3750 0.3750 0.3750 0.3750 0.3750 0.3750 0.3750 0.3750 0.5000 0.5000 0.5000 0.5000 0.5000 0.5000 0.5000 0.5000 0.5000 0.5000 0.5000 0.5000 0.5000 0.5000 0.5000 0.5000 0.5000 0.5000 0.5000 0.5000 0.5000 0.5000 0.5000 0.5000 0.5000 0.5000 0.5000 0.5000 0.6250 0.6250 0.6250 0.6250 0.6250 0.6250 0.6250 0.6250 0.6250 0.6250 0.6250 0.6250 0.6250 0.6250 0.6250 0.6250 0.6250 0.6250 0.6250 0.6250 0.6250 0.6250 0.6250 0.6250 0.6250 0.6250 0.6250 0.6250 0.7500 0.7500 0.7500 0.7500 0.7500 0.7500 0.7500 0.7500 0.7500 0.7500 0.7500 0.7500 0.7500 0.7500 0.7500 0.7500 0.7500 0.7500 0.7500 0.7500 0.7500 0.7500 0.7500 0.7500 0.7500 0.7500 0.7500 0.7500 0.8750 0.8750 0.8750 0.8750 0.8750 0.8750 0.8750 0.8750 0.8750 0.8750 0.8750 0.8750 0.8750 0.8750 0.8750 0.8750 0.8750 0.8750 0.8750 0.8750 0.8750 0.8750 0.8750 0.8750 1.0000 1.0000 1.0000 1.0000 1.0000 1.0000 1.0000 1.0000 1.0000 1.0000 1.0000 1.0000 1.0000 1.0000 1.0000 1.0000"/><feFuncB type="discrete" tableValues="0.0000 0.0000 0.0000 0.0000 0.0000 0.1250 0.1250 0.1250 0.1250 0.1250 0.1250 0.1250 0.1250 0.1250 0.1250 0.1250 0.1250 0.1250 0.1250 0.1250 0.1250 0.1250 0.1250 0.1250 0.2500 0.2500 0.2500 0.2500 0.2500 0.2500 0.2500 0.2500 0.2500 0.2500 0.2500 0.2500 0.2500 0.2500 0.2500 0.2500 0.2500 0.2500 0.2500 0.2500 0.2500 0.2500 0.2500 0.2500 0.3750 0.3750 0.3750 0.3750 0.3750 0.3750 0.3750 0.3750 0.3750 0.3750 0.3750 0.3750 0.3750 0.3750 0.3750 0.3750 0.3750 0.3750 0.3750 0.3750 0.3750 0.3750 0.3750 0.3750 0.3750 0.3750 0.3750 0.3750 0.5000 0.5000 0.5000 0.5000 0.5000 0.5000 0.5000 0.5000 0.5000 0.5000 0.5000 0.5000 0.5000 0.5000 0.5000 0.5000 0.5000 0.5000 0.5000 0.5000 0.5000 0.5000 0.5000 0.5000 0.5000 0.5000 0.5000 0.5000 0.6250 0.6250 0.6250 0.6250 0.6250 0.6250 0.6250 0.6250 0.6250 0.6250 0.6250 0.6250 0.6250 0.6250 0.6250 0.6250 0.6250 0.6250 0.6250 0.6250 0.6250 0.6250 0.6250 0.6250 0.6250 0.6250 0.6250 0.6250 0.7500 0.7500 0.7500 0.7500 0.7500 0.7500 0.7500 0.7500 0.7500 0.7500 0.7500 0.7500 0.7500 0.7500 0.7500 0.7500 0.7500 0.7500 0.7500 0.7500 0.7500 0.7500 0.7500 0.7500 0.7500 0.7500 0.7500 0.7500 0.8750 0.8750 0.8750 0.8750 0.8750 0.8750 0.8750 0.8750 0.8750 0.8750 0.8750 0.8750 0.8750 0.8750 0.8750 0.8750 0.8750 0.8750 0.8750 0.8750 0.8750 0.8750 0.8750 0.8750 1.0000 1.0000 1.0000 1.0000 1.0000 1.0000 1.0000 1.0000 1.0000 1.0000 1.0000 1.0000 1.0000 1.0000 1.0000 1.0000"/></feComponentTransfer><feMorphology in="q" operator="erode" radius="0.5" result="qe"/><feComposite in="q" in2="qe" operator="arithmetic" k2="8" k3="-8" result="edge0"/><feComponentTransfer in="dens" result="inv"><feFuncR type="linear" slope="-0.9" intercept="1.05"/><feFuncG type="linear" slope="-0.9" intercept="1.05"/><feFuncB type="linear" slope="-0.9" intercept="1.05"/></feComponentTransfer><feComposite in="edge0" in2="inv" operator="arithmetic" k1="1" result="edge"/><feComponentTransfer in="dens" result="fill"><feFuncR type="table" tableValues="1.000 1.000 1.000 1.000 1.000 1.000 1.000 0.975 0.968 0.966 0.964 0.962 0.959 0.957 0.955 0.953 0.951 0.948 0.946 0.944 0.942 0.940 0.937 0.935 0.933 0.931 0.929 0.926 0.924 0.922 0.920 0.917 0.915 0.913 0.911 0.909 0.906 0.904 0.902 0.900 0.898 0.895 0.893 0.891 0.889 0.887 0.884 0.882 0.880 0.877 0.873 0.870 0.867 0.863 0.860 0.857 0.853 0.850 0.847 0.843 0.840 0.837 0.833 0.830 0.827 0.823 0.820 0.817 0.813 0.810 0.807 0.803 0.800 0.797 0.793 0.790 0.787 0.783 0.780 0.777 0.773 0.770 0.767 0.763 0.760 0.757 0.753 0.750 0.747 0.743 0.740 0.737 0.733 0.730 0.727 0.723 0.720 0.717 0.714 0.711 0.708 0.705 0.703 0.700 0.697 0.694 0.691 0.688 0.685 0.682 0.679 0.676 0.673 0.670 0.667 0.665 0.662 0.659 0.656 0.653 0.650 0.647 0.644 0.641 0.638 0.635 0.632 0.630 0.627 0.624 0.621 0.618 0.615 0.612 0.609 0.606 0.603 0.600 0.597 0.595 0.592 0.589 0.586 0.583 0.580 0.577 0.574 0.571 0.569 0.566 0.563 0.560 0.557 0.554 0.551 0.548 0.546 0.543 0.540 0.537 0.534 0.531 0.528 0.526 0.523 0.520 0.517 0.514 0.511 0.508 0.506 0.503 0.500 0.497 0.494 0.491 0.488 0.485 0.483 0.480 0.477 0.474 0.471 0.469 0.467 0.465 0.462 0.460 0.458 0.456 0.454 0.452 0.450 0.448 0.446 0.444 0.442 0.440 0.438 0.435 0.433 0.431 0.429 0.427 0.425 0.423 0.421 0.427 0.438 0.449 0.460 0.471 0.482 0.493 0.504 0.516 0.527 0.538 0.549 0.560 0.571 0.585 0.608 0.630 0.653 0.676 0.699 0.722 0.745 0.768 0.791 0.804 0.810 0.816 0.823 0.829 0.835 0.841 0.848 0.854 0.860"/><feFuncG type="table" tableValues="1.000 1.000 1.000 1.000 1.000 1.000 1.000 0.975 0.968 0.966 0.964 0.962 0.959 0.957 0.955 0.953 0.951 0.948 0.946 0.944 0.942 0.940 0.937 0.935 0.933 0.931 0.929 0.926 0.924 0.922 0.920 0.917 0.915 0.913 0.911 0.909 0.906 0.904 0.902 0.900 0.898 0.895 0.893 0.891 0.889 0.887 0.884 0.882 0.880 0.877 0.873 0.870 0.867 0.863 0.860 0.857 0.853 0.850 0.847 0.843 0.840 0.837 0.833 0.830 0.827 0.823 0.820 0.817 0.813 0.810 0.807 0.803 0.800 0.797 0.793 0.790 0.787 0.783 0.780 0.777 0.773 0.770 0.767 0.763 0.760 0.757 0.753 0.750 0.747 0.743 0.740 0.737 0.733 0.730 0.727 0.723 0.720 0.717 0.714 0.711 0.708 0.705 0.703 0.700 0.697 0.694 0.691 0.688 0.685 0.682 0.679 0.676 0.673 0.670 0.667 0.665 0.662 0.659 0.656 0.653 0.650 0.647 0.644 0.641 0.638 0.635 0.632 0.630 0.627 0.624 0.621 0.618 0.615 0.612 0.609 0.606 0.603 0.600 0.597 0.595 0.592 0.589 0.586 0.583 0.580 0.577 0.574 0.571 0.569 0.566 0.563 0.560 0.557 0.554 0.551 0.548 0.546 0.543 0.540 0.537 0.534 0.531 0.528 0.526 0.523 0.520 0.517 0.514 0.511 0.508 0.506 0.503 0.500 0.497 0.494 0.491 0.488 0.485 0.483 0.480 0.477 0.474 0.471 0.469 0.467 0.465 0.462 0.460 0.458 0.456 0.454 0.452 0.450 0.448 0.446 0.444 0.442 0.440 0.438 0.435 0.433 0.431 0.429 0.427 0.425 0.423 0.421 0.427 0.438 0.449 0.460 0.471 0.482 0.493 0.504 0.516 0.527 0.538 0.549 0.560 0.571 0.585 0.608 0.630 0.653 0.676 0.699 0.722 0.745 0.768 0.791 0.804 0.810 0.816 0.823 0.829 0.835 0.841 0.848 0.854 0.860"/><feFuncB type="table" tableValues="1.000 1.000 1.000 1.000 1.000 1.000 1.000 0.975 0.968 0.966 0.964 0.962 0.959 0.957 0.955 0.953 0.951 0.948 0.946 0.944 0.942 0.940 0.937 0.935 0.933 0.931 0.929 0.926 0.924 0.922 0.920 0.917 0.915 0.913 0.911 0.909 0.906 0.904 0.902 0.900 0.898 0.895 0.893 0.891 0.889 0.887 0.884 0.882 0.880 0.877 0.873 0.870 0.867 0.863 0.860 0.857 0.853 0.850 0.847 0.843 0.840 0.837 0.833 0.830 0.827 0.823 0.820 0.817 0.813 0.810 0.807 0.803 0.800 0.797 0.793 0.790 0.787 0.783 0.780 0.777 0.773 0.770 0.767 0.763 0.760 0.757 0.753 0.750 0.747 0.743 0.740 0.737 0.733 0.730 0.727 0.723 0.720 0.717 0.714 0.711 0.708 0.705 0.703 0.700 0.697 0.694 0.691 0.688 0.685 0.682 0.679 0.676 0.673 0.670 0.667 0.665 0.662 0.659 0.656 0.653 0.650 0.647 0.644 0.641 0.638 0.635 0.632 0.630 0.627 0.624 0.621 0.618 0.615 0.612 0.609 0.606 0.603 0.600 0.597 0.595 0.592 0.589 0.586 0.583 0.580 0.577 0.574 0.571 0.569 0.566 0.563 0.560 0.557 0.554 0.551 0.548 0.546 0.543 0.540 0.537 0.534 0.531 0.528 0.526 0.523 0.520 0.517 0.514 0.511 0.508 0.506 0.503 0.500 0.497 0.494 0.491 0.488 0.485 0.483 0.480 0.477 0.474 0.471 0.469 0.467 0.465 0.462 0.460 0.458 0.456 0.454 0.452 0.450 0.448 0.446 0.444 0.442 0.440 0.438 0.435 0.433 0.431 0.429 0.427 0.425 0.423 0.421 0.427 0.438 0.449 0.460 0.471 0.482 0.493 0.504 0.516 0.527 0.538 0.549 0.560 0.571 0.585 0.608 0.630 0.653 0.676 0.699 0.722 0.745 0.768 0.791 0.804 0.810 0.816 0.823 0.829 0.835 0.841 0.848 0.854 0.860"/></feComponentTransfer><feComposite in="fill" in2="edge" operator="arithmetic" k2="1" k3="-0.3"/></filter><filter id="sb2_3" filterUnits="userSpaceOnUse" x="-40" y="-40" width="150" height="150"><feGaussianBlur stdDeviation="2.3"/></filter><filter id="cf12" filterUnits="userSpaceOnUse" x="348.20" y="353.60" width="68.50" height="67.90" color-interpolation-filters="sRGB"><feGaussianBlur stdDeviation="0.6"/><feColorMatrix type="matrix" values="0 0 0 1 0  0 0 0 1 0  0 0 0 1 0  0 0 0 0 1" result="dens"/><feComponentTransfer in="dens" result="q"><feFuncR type="discrete" tableValues="0.0000 0.0000 0.0000 0.0000 0.0000 0.1250 0.1250 0.1250 0.1250 0.1250 0.1250 0.1250 0.1250 0.1250 0.1250 0.1250 0.1250 0.1250 0.1250 0.1250 0.1250 0.1250 0.1250 0.1250 0.2500 0.2500 0.2500 0.2500 0.2500 0.2500 0.2500 0.2500 0.2500 0.2500 0.2500 0.2500 0.2500 0.2500 0.2500 0.2500 0.2500 0.2500 0.2500 0.2500 0.2500 0.2500 0.2500 0.2500 0.3750 0.3750 0.3750 0.3750 0.3750 0.3750 0.3750 0.3750 0.3750 0.3750 0.3750 0.3750 0.3750 0.3750 0.3750 0.3750 0.3750 0.3750 0.3750 0.3750 0.3750 0.3750 0.3750 0.3750 0.3750 0.3750 0.3750 0.3750 0.5000 0.5000 0.5000 0.5000 0.5000 0.5000 0.5000 0.5000 0.5000 0.5000 0.5000 0.5000 0.5000 0.5000 0.5000 0.5000 0.5000 0.5000 0.5000 0.5000 0.5000 0.5000 0.5000 0.5000 0.5000 0.5000 0.5000 0.5000 0.6250 0.6250 0.6250 0.6250 0.6250 0.6250 0.6250 0.6250 0.6250 0.6250 0.6250 0.6250 0.6250 0.6250 0.6250 0.6250 0.6250 0.6250 0.6250 0.6250 0.6250 0.6250 0.6250 0.6250 0.6250 0.6250 0.6250 0.6250 0.7500 0.7500 0.7500 0.7500 0.7500 0.7500 0.7500 0.7500 0.7500 0.7500 0.7500 0.7500 0.7500 0.7500 0.7500 0.7500 0.7500 0.7500 0.7500 0.7500 0.7500 0.7500 0.7500 0.7500 0.7500 0.7500 0.7500 0.7500 0.8750 0.8750 0.8750 0.8750 0.8750 0.8750 0.8750 0.8750 0.8750 0.8750 0.8750 0.8750 0.8750 0.8750 0.8750 0.8750 0.8750 0.8750 0.8750 0.8750 0.8750 0.8750 0.8750 0.8750 1.0000 1.0000 1.0000 1.0000 1.0000 1.0000 1.0000 1.0000 1.0000 1.0000 1.0000 1.0000 1.0000 1.0000 1.0000 1.0000"/><feFuncG type="discrete" tableValues="0.0000 0.0000 0.0000 0.0000 0.0000 0.1250 0.1250 0.1250 0.1250 0.1250 0.1250 0.1250 0.1250 0.1250 0.1250 0.1250 0.1250 0.1250 0.1250 0.1250 0.1250 0.1250 0.1250 0.1250 0.2500 0.2500 0.2500 0.2500 0.2500 0.2500 0.2500 0.2500 0.2500 0.2500 0.2500 0.2500 0.2500 0.2500 0.2500 0.2500 0.2500 0.2500 0.2500 0.2500 0.2500 0.2500 0.2500 0.2500 0.3750 0.3750 0.3750 0.3750 0.3750 0.3750 0.3750 0.3750 0.3750 0.3750 0.3750 0.3750 0.3750 0.3750 0.3750 0.3750 0.3750 0.3750 0.3750 0.3750 0.3750 0.3750 0.3750 0.3750 0.3750 0.3750 0.3750 0.3750 0.5000 0.5000 0.5000 0.5000 0.5000 0.5000 0.5000 0.5000 0.5000 0.5000 0.5000 0.5000 0.5000 0.5000 0.5000 0.5000 0.5000 0.5000 0.5000 0.5000 0.5000 0.5000 0.5000 0.5000 0.5000 0.5000 0.5000 0.5000 0.6250 0.6250 0.6250 0.6250 0.6250 0.6250 0.6250 0.6250 0.6250 0.6250 0.6250 0.6250 0.6250 0.6250 0.6250 0.6250 0.6250 0.6250 0.6250 0.6250 0.6250 0.6250 0.6250 0.6250 0.6250 0.6250 0.6250 0.6250 0.7500 0.7500 0.7500 0.7500 0.7500 0.7500 0.7500 0.7500 0.7500 0.7500 0.7500 0.7500 0.7500 0.7500 0.7500 0.7500 0.7500 0.7500 0.7500 0.7500 0.7500 0.7500 0.7500 0.7500 0.7500 0.7500 0.7500 0.7500 0.8750 0.8750 0.8750 0.8750 0.8750 0.8750 0.8750 0.8750 0.8750 0.8750 0.8750 0.8750 0.8750 0.8750 0.8750 0.8750 0.8750 0.8750 0.8750 0.8750 0.8750 0.8750 0.8750 0.8750 1.0000 1.0000 1.0000 1.0000 1.0000 1.0000 1.0000 1.0000 1.0000 1.0000 1.0000 1.0000 1.0000 1.0000 1.0000 1.0000"/><feFuncB type="discrete" tableValues="0.0000 0.0000 0.0000 0.0000 0.0000 0.1250 0.1250 0.1250 0.1250 0.1250 0.1250 0.1250 0.1250 0.1250 0.1250 0.1250 0.1250 0.1250 0.1250 0.1250 0.1250 0.1250 0.1250 0.1250 0.2500 0.2500 0.2500 0.2500 0.2500 0.2500 0.2500 0.2500 0.2500 0.2500 0.2500 0.2500 0.2500 0.2500 0.2500 0.2500 0.2500 0.2500 0.2500 0.2500 0.2500 0.2500 0.2500 0.2500 0.3750 0.3750 0.3750 0.3750 0.3750 0.3750 0.3750 0.3750 0.3750 0.3750 0.3750 0.3750 0.3750 0.3750 0.3750 0.3750 0.3750 0.3750 0.3750 0.3750 0.3750 0.3750 0.3750 0.3750 0.3750 0.3750 0.3750 0.3750 0.5000 0.5000 0.5000 0.5000 0.5000 0.5000 0.5000 0.5000 0.5000 0.5000 0.5000 0.5000 0.5000 0.5000 0.5000 0.5000 0.5000 0.5000 0.5000 0.5000 0.5000 0.5000 0.5000 0.5000 0.5000 0.5000 0.5000 0.5000 0.6250 0.6250 0.6250 0.6250 0.6250 0.6250 0.6250 0.6250 0.6250 0.6250 0.6250 0.6250 0.6250 0.6250 0.6250 0.6250 0.6250 0.6250 0.6250 0.6250 0.6250 0.6250 0.6250 0.6250 0.6250 0.6250 0.6250 0.6250 0.7500 0.7500 0.7500 0.7500 0.7500 0.7500 0.7500 0.7500 0.7500 0.7500 0.7500 0.7500 0.7500 0.7500 0.7500 0.7500 0.7500 0.7500 0.7500 0.7500 0.7500 0.7500 0.7500 0.7500 0.7500 0.7500 0.7500 0.7500 0.8750 0.8750 0.8750 0.8750 0.8750 0.8750 0.8750 0.8750 0.8750 0.8750 0.8750 0.8750 0.8750 0.8750 0.8750 0.8750 0.8750 0.8750 0.8750 0.8750 0.8750 0.8750 0.8750 0.8750 1.0000 1.0000 1.0000 1.0000 1.0000 1.0000 1.0000 1.0000 1.0000 1.0000 1.0000 1.0000 1.0000 1.0000 1.0000 1.0000"/></feComponentTransfer><feMorphology in="q" operator="erode" radius="0.5" result="qe"/><feComposite in="q" in2="qe" operator="arithmetic" k2="8" k3="-8" result="edge0"/><feComponentTransfer in="dens" result="inv"><feFuncR type="linear" slope="-0.9" intercept="1.05"/><feFuncG type="linear" slope="-0.9" intercept="1.05"/><feFuncB type="linear" slope="-0.9" intercept="1.05"/></feComponentTransfer><feComposite in="edge0" in2="inv" operator="arithmetic" k1="1" result="edge"/><feComponentTransfer in="dens" result="fill"><feFuncR type="table" tableValues="1.000 1.000 1.000 1.000 1.000 1.000 1.000 0.975 0.968 0.966 0.964 0.962 0.959 0.957 0.955 0.953 0.951 0.948 0.946 0.944 0.942 0.940 0.937 0.935 0.933 0.931 0.929 0.926 0.924 0.922 0.920 0.917 0.915 0.913 0.911 0.909 0.906 0.904 0.902 0.900 0.898 0.895 0.893 0.891 0.889 0.887 0.884 0.882 0.880 0.877 0.873 0.870 0.867 0.863 0.860 0.857 0.853 0.850 0.847 0.843 0.840 0.837 0.833 0.830 0.827 0.823 0.820 0.817 0.813 0.810 0.807 0.803 0.800 0.797 0.793 0.790 0.787 0.783 0.780 0.777 0.773 0.770 0.767 0.763 0.760 0.757 0.753 0.750 0.747 0.743 0.740 0.737 0.733 0.730 0.727 0.723 0.720 0.717 0.714 0.711 0.708 0.705 0.703 0.700 0.697 0.694 0.691 0.688 0.685 0.682 0.679 0.676 0.673 0.670 0.667 0.665 0.662 0.659 0.656 0.653 0.650 0.647 0.644 0.641 0.638 0.635 0.632 0.630 0.627 0.624 0.621 0.618 0.615 0.612 0.609 0.606 0.603 0.600 0.597 0.595 0.592 0.589 0.586 0.583 0.580 0.577 0.574 0.571 0.569 0.566 0.563 0.560 0.557 0.554 0.551 0.548 0.546 0.543 0.540 0.537 0.534 0.531 0.528 0.526 0.523 0.520 0.517 0.514 0.511 0.508 0.506 0.503 0.500 0.497 0.494 0.491 0.488 0.485 0.483 0.480 0.477 0.474 0.471 0.469 0.467 0.465 0.462 0.460 0.458 0.456 0.454 0.452 0.450 0.448 0.446 0.444 0.442 0.440 0.438 0.435 0.433 0.431 0.429 0.427 0.425 0.423 0.421 0.427 0.438 0.449 0.460 0.471 0.482 0.493 0.504 0.516 0.527 0.538 0.549 0.560 0.571 0.585 0.608 0.630 0.653 0.676 0.699 0.722 0.745 0.768 0.791 0.804 0.810 0.816 0.823 0.829 0.835 0.841 0.848 0.854 0.860"/><feFuncG type="table" tableValues="1.000 1.000 1.000 1.000 1.000 1.000 1.000 0.975 0.968 0.966 0.964 0.962 0.959 0.957 0.955 0.953 0.951 0.948 0.946 0.944 0.942 0.940 0.937 0.935 0.933 0.931 0.929 0.926 0.924 0.922 0.920 0.917 0.915 0.913 0.911 0.909 0.906 0.904 0.902 0.900 0.898 0.895 0.893 0.891 0.889 0.887 0.884 0.882 0.880 0.877 0.873 0.870 0.867 0.863 0.860 0.857 0.853 0.850 0.847 0.843 0.840 0.837 0.833 0.830 0.827 0.823 0.820 0.817 0.813 0.810 0.807 0.803 0.800 0.797 0.793 0.790 0.787 0.783 0.780 0.777 0.773 0.770 0.767 0.763 0.760 0.757 0.753 0.750 0.747 0.743 0.740 0.737 0.733 0.730 0.727 0.723 0.720 0.717 0.714 0.711 0.708 0.705 0.703 0.700 0.697 0.694 0.691 0.688 0.685 0.682 0.679 0.676 0.673 0.670 0.667 0.665 0.662 0.659 0.656 0.653 0.650 0.647 0.644 0.641 0.638 0.635 0.632 0.630 0.627 0.624 0.621 0.618 0.615 0.612 0.609 0.606 0.603 0.600 0.597 0.595 0.592 0.589 0.586 0.583 0.580 0.577 0.574 0.571 0.569 0.566 0.563 0.560 0.557 0.554 0.551 0.548 0.546 0.543 0.540 0.537 0.534 0.531 0.528 0.526 0.523 0.520 0.517 0.514 0.511 0.508 0.506 0.503 0.500 0.497 0.494 0.491 0.488 0.485 0.483 0.480 0.477 0.474 0.471 0.469 0.467 0.465 0.462 0.460 0.458 0.456 0.454 0.452 0.450 0.448 0.446 0.444 0.442 0.440 0.438 0.435 0.433 0.431 0.429 0.427 0.425 0.423 0.421 0.427 0.438 0.449 0.460 0.471 0.482 0.493 0.504 0.516 0.527 0.538 0.549 0.560 0.571 0.585 0.608 0.630 0.653 0.676 0.699 0.722 0.745 0.768 0.791 0.804 0.810 0.816 0.823 0.829 0.835 0.841 0.848 0.854 0.860"/><feFuncB type="table" tableValues="1.000 1.000 1.000 1.000 1.000 1.000 1.000 0.975 0.968 0.966 0.964 0.962 0.959 0.957 0.955 0.953 0.951 0.948 0.946 0.944 0.942 0.940 0.937 0.935 0.933 0.931 0.929 0.926 0.924 0.922 0.920 0.917 0.915 0.913 0.911 0.909 0.906 0.904 0.902 0.900 0.898 0.895 0.893 0.891 0.889 0.887 0.884 0.882 0.880 0.877 0.873 0.870 0.867 0.863 0.860 0.857 0.853 0.850 0.847 0.843 0.840 0.837 0.833 0.830 0.827 0.823 0.820 0.817 0.813 0.810 0.807 0.803 0.800 0.797 0.793 0.790 0.787 0.783 0.780 0.777 0.773 0.770 0.767 0.763 0.760 0.757 0.753 0.750 0.747 0.743 0.740 0.737 0.733 0.730 0.727 0.723 0.720 0.717 0.714 0.711 0.708 0.705 0.703 0.700 0.697 0.694 0.691 0.688 0.685 0.682 0.679 0.676 0.673 0.670 0.667 0.665 0.662 0.659 0.656 0.653 0.650 0.647 0.644 0.641 0.638 0.635 0.632 0.630 0.627 0.624 0.621 0.618 0.615 0.612 0.609 0.606 0.603 0.600 0.597 0.595 0.592 0.589 0.586 0.583 0.580 0.577 0.574 0.571 0.569 0.566 0.563 0.560 0.557 0.554 0.551 0.548 0.546 0.543 0.540 0.537 0.534 0.531 0.528 0.526 0.523 0.520 0.517 0.514 0.511 0.508 0.506 0.503 0.500 0.497 0.494 0.491 0.488 0.485 0.483 0.480 0.477 0.474 0.471 0.469 0.467 0.465 0.462 0.460 0.458 0.456 0.454 0.452 0.450 0.448 0.446 0.444 0.442 0.440 0.438 0.435 0.433 0.431 0.429 0.427 0.425 0.423 0.421 0.427 0.438 0.449 0.460 0.471 0.482 0.493 0.504 0.516 0.527 0.538 0.549 0.560 0.571 0.585 0.608 0.630 0.653 0.676 0.699 0.722 0.745 0.768 0.791 0.804 0.810 0.816 0.823 0.829 0.835 0.841 0.848 0.854 0.860"/></feComponentTransfer><feComposite in="fill" in2="edge" operator="arithmetic" k2="1" k3="-0.3"/></filter><filter id="cf13" filterUnits="userSpaceOnUse" x="154.90" y="439.40" width="68.50" height="67.90" color-interpolation-filters="sRGB"><feGaussianBlur stdDeviation="0.6"/><feColorMatrix type="matrix" values="0 0 0 1 0  0 0 0 1 0  0 0 0 1 0  0 0 0 0 1" result="dens"/><feComponentTransfer in="dens" result="q"><feFuncR type="discrete" tableValues="0.0000 0.0000 0.0000 0.0000 0.0000 0.1250 0.1250 0.1250 0.1250 0.1250 0.1250 0.1250 0.1250 0.1250 0.1250 0.1250 0.1250 0.1250 0.1250 0.1250 0.1250 0.1250 0.1250 0.1250 0.2500 0.2500 0.2500 0.2500 0.2500 0.2500 0.2500 0.2500 0.2500 0.2500 0.2500 0.2500 0.2500 0.2500 0.2500 0.2500 0.2500 0.2500 0.2500 0.2500 0.2500 0.2500 0.2500 0.2500 0.3750 0.3750 0.3750 0.3750 0.3750 0.3750 0.3750 0.3750 0.3750 0.3750 0.3750 0.3750 0.3750 0.3750 0.3750 0.3750 0.3750 0.3750 0.3750 0.3750 0.3750 0.3750 0.3750 0.3750 0.3750 0.3750 0.3750 0.3750 0.5000 0.5000 0.5000 0.5000 0.5000 0.5000 0.5000 0.5000 0.5000 0.5000 0.5000 0.5000 0.5000 0.5000 0.5000 0.5000 0.5000 0.5000 0.5000 0.5000 0.5000 0.5000 0.5000 0.5000 0.5000 0.5000 0.5000 0.5000 0.6250 0.6250 0.6250 0.6250 0.6250 0.6250 0.6250 0.6250 0.6250 0.6250 0.6250 0.6250 0.6250 0.6250 0.6250 0.6250 0.6250 0.6250 0.6250 0.6250 0.6250 0.6250 0.6250 0.6250 0.6250 0.6250 0.6250 0.6250 0.7500 0.7500 0.7500 0.7500 0.7500 0.7500 0.7500 0.7500 0.7500 0.7500 0.7500 0.7500 0.7500 0.7500 0.7500 0.7500 0.7500 0.7500 0.7500 0.7500 0.7500 0.7500 0.7500 0.7500 0.7500 0.7500 0.7500 0.7500 0.8750 0.8750 0.8750 0.8750 0.8750 0.8750 0.8750 0.8750 0.8750 0.8750 0.8750 0.8750 0.8750 0.8750 0.8750 0.8750 0.8750 0.8750 0.8750 0.8750 0.8750 0.8750 0.8750 0.8750 1.0000 1.0000 1.0000 1.0000 1.0000 1.0000 1.0000 1.0000 1.0000 1.0000 1.0000 1.0000 1.0000 1.0000 1.0000 1.0000"/><feFuncG type="discrete" tableValues="0.0000 0.0000 0.0000 0.0000 0.0000 0.1250 0.1250 0.1250 0.1250 0.1250 0.1250 0.1250 0.1250 0.1250 0.1250 0.1250 0.1250 0.1250 0.1250 0.1250 0.1250 0.1250 0.1250 0.1250 0.2500 0.2500 0.2500 0.2500 0.2500 0.2500 0.2500 0.2500 0.2500 0.2500 0.2500 0.2500 0.2500 0.2500 0.2500 0.2500 0.2500 0.2500 0.2500 0.2500 0.2500 0.2500 0.2500 0.2500 0.3750 0.3750 0.3750 0.3750 0.3750 0.3750 0.3750 0.3750 0.3750 0.3750 0.3750 0.3750 0.3750 0.3750 0.3750 0.3750 0.3750 0.3750 0.3750 0.3750 0.3750 0.3750 0.3750 0.3750 0.3750 0.3750 0.3750 0.3750 0.5000 0.5000 0.5000 0.5000 0.5000 0.5000 0.5000 0.5000 0.5000 0.5000 0.5000 0.5000 0.5000 0.5000 0.5000 0.5000 0.5000 0.5000 0.5000 0.5000 0.5000 0.5000 0.5000 0.5000 0.5000 0.5000 0.5000 0.5000 0.6250 0.6250 0.6250 0.6250 0.6250 0.6250 0.6250 0.6250 0.6250 0.6250 0.6250 0.6250 0.6250 0.6250 0.6250 0.6250 0.6250 0.6250 0.6250 0.6250 0.6250 0.6250 0.6250 0.6250 0.6250 0.6250 0.6250 0.6250 0.7500 0.7500 0.7500 0.7500 0.7500 0.7500 0.7500 0.7500 0.7500 0.7500 0.7500 0.7500 0.7500 0.7500 0.7500 0.7500 0.7500 0.7500 0.7500 0.7500 0.7500 0.7500 0.7500 0.7500 0.7500 0.7500 0.7500 0.7500 0.8750 0.8750 0.8750 0.8750 0.8750 0.8750 0.8750 0.8750 0.8750 0.8750 0.8750 0.8750 0.8750 0.8750 0.8750 0.8750 0.8750 0.8750 0.8750 0.8750 0.8750 0.8750 0.8750 0.8750 1.0000 1.0000 1.0000 1.0000 1.0000 1.0000 1.0000 1.0000 1.0000 1.0000 1.0000 1.0000 1.0000 1.0000 1.0000 1.0000"/><feFuncB type="discrete" tableValues="0.0000 0.0000 0.0000 0.0000 0.0000 0.1250 0.1250 0.1250 0.1250 0.1250 0.1250 0.1250 0.1250 0.1250 0.1250 0.1250 0.1250 0.1250 0.1250 0.1250 0.1250 0.1250 0.1250 0.1250 0.2500 0.2500 0.2500 0.2500 0.2500 0.2500 0.2500 0.2500 0.2500 0.2500 0.2500 0.2500 0.2500 0.2500 0.2500 0.2500 0.2500 0.2500 0.2500 0.2500 0.2500 0.2500 0.2500 0.2500 0.3750 0.3750 0.3750 0.3750 0.3750 0.3750 0.3750 0.3750 0.3750 0.3750 0.3750 0.3750 0.3750 0.3750 0.3750 0.3750 0.3750 0.3750 0.3750 0.3750 0.3750 0.3750 0.3750 0.3750 0.3750 0.3750 0.3750 0.3750 0.5000 0.5000 0.5000 0.5000 0.5000 0.5000 0.5000 0.5000 0.5000 0.5000 0.5000 0.5000 0.5000 0.5000 0.5000 0.5000 0.5000 0.5000 0.5000 0.5000 0.5000 0.5000 0.5000 0.5000 0.5000 0.5000 0.5000 0.5000 0.6250 0.6250 0.6250 0.6250 0.6250 0.6250 0.6250 0.6250 0.6250 0.6250 0.6250 0.6250 0.6250 0.6250 0.6250 0.6250 0.6250 0.6250 0.6250 0.6250 0.6250 0.6250 0.6250 0.6250 0.6250 0.6250 0.6250 0.6250 0.7500 0.7500 0.7500 0.7500 0.7500 0.7500 0.7500 0.7500 0.7500 0.7500 0.7500 0.7500 0.7500 0.7500 0.7500 0.7500 0.7500 0.7500 0.7500 0.7500 0.7500 0.7500 0.7500 0.7500 0.7500 0.7500 0.7500 0.7500 0.8750 0.8750 0.8750 0.8750 0.8750 0.8750 0.8750 0.8750 0.8750 0.8750 0.8750 0.8750 0.8750 0.8750 0.8750 0.8750 0.8750 0.8750 0.8750 0.8750 0.8750 0.8750 0.8750 0.8750 1.0000 1.0000 1.0000 1.0000 1.0000 1.0000 1.0000 1.0000 1.0000 1.0000 1.0000 1.0000 1.0000 1.0000 1.0000 1.0000"/></feComponentTransfer><feMorphology in="q" operator="erode" radius="0.5" result="qe"/><feComposite in="q" in2="qe" operator="arithmetic" k2="8" k3="-8" result="edge0"/><feComponentTransfer in="dens" result="inv"><feFuncR type="linear" slope="-0.9" intercept="1.05"/><feFuncG type="linear" slope="-0.9" intercept="1.05"/><feFuncB type="linear" slope="-0.9" intercept="1.05"/></feComponentTransfer><feComposite in="edge0" in2="inv" operator="arithmetic" k1="1" result="edge"/><feComponentTransfer in="dens" result="fill"><feFuncR type="table" tableValues="1.000 1.000 1.000 1.000 1.000 1.000 1.000 0.975 0.968 0.966 0.964 0.962 0.959 0.957 0.955 0.953 0.951 0.948 0.946 0.944 0.942 0.940 0.937 0.935 0.933 0.931 0.929 0.926 0.924 0.922 0.920 0.917 0.915 0.913 0.911 0.909 0.906 0.904 0.902 0.900 0.898 0.895 0.893 0.891 0.889 0.887 0.884 0.882 0.880 0.877 0.873 0.870 0.867 0.863 0.860 0.857 0.853 0.850 0.847 0.843 0.840 0.837 0.833 0.830 0.827 0.823 0.820 0.817 0.813 0.810 0.807 0.803 0.800 0.797 0.793 0.790 0.787 0.783 0.780 0.777 0.773 0.770 0.767 0.763 0.760 0.757 0.753 0.750 0.747 0.743 0.740 0.737 0.733 0.730 0.727 0.723 0.720 0.717 0.714 0.711 0.708 0.705 0.703 0.700 0.697 0.694 0.691 0.688 0.685 0.682 0.679 0.676 0.673 0.670 0.667 0.665 0.662 0.659 0.656 0.653 0.650 0.647 0.644 0.641 0.638 0.635 0.632 0.630 0.627 0.624 0.621 0.618 0.615 0.612 0.609 0.606 0.603 0.600 0.597 0.595 0.592 0.589 0.586 0.583 0.580 0.577 0.574 0.571 0.569 0.566 0.563 0.560 0.557 0.554 0.551 0.548 0.546 0.543 0.540 0.537 0.534 0.531 0.528 0.526 0.523 0.520 0.517 0.514 0.511 0.508 0.506 0.503 0.500 0.497 0.494 0.491 0.488 0.485 0.483 0.480 0.477 0.474 0.471 0.469 0.467 0.465 0.462 0.460 0.458 0.456 0.454 0.452 0.450 0.448 0.446 0.444 0.442 0.440 0.438 0.435 0.433 0.431 0.429 0.427 0.425 0.423 0.421 0.427 0.438 0.449 0.460 0.471 0.482 0.493 0.504 0.516 0.527 0.538 0.549 0.560 0.571 0.585 0.608 0.630 0.653 0.676 0.699 0.722 0.745 0.768 0.791 0.804 0.810 0.816 0.823 0.829 0.835 0.841 0.848 0.854 0.860"/><feFuncG type="table" tableValues="1.000 1.000 1.000 1.000 1.000 1.000 1.000 0.975 0.968 0.966 0.964 0.962 0.959 0.957 0.955 0.953 0.951 0.948 0.946 0.944 0.942 0.940 0.937 0.935 0.933 0.931 0.929 0.926 0.924 0.922 0.920 0.917 0.915 0.913 0.911 0.909 0.906 0.904 0.902 0.900 0.898 0.895 0.893 0.891 0.889 0.887 0.884 0.882 0.880 0.877 0.873 0.870 0.867 0.863 0.860 0.857 0.853 0.850 0.847 0.843 0.840 0.837 0.833 0.830 0.827 0.823 0.820 0.817 0.813 0.810 0.807 0.803 0.800 0.797 0.793 0.790 0.787 0.783 0.780 0.777 0.773 0.770 0.767 0.763 0.760 0.757 0.753 0.750 0.747 0.743 0.740 0.737 0.733 0.730 0.727 0.723 0.720 0.717 0.714 0.711 0.708 0.705 0.703 0.700 0.697 0.694 0.691 0.688 0.685 0.682 0.679 0.676 0.673 0.670 0.667 0.665 0.662 0.659 0.656 0.653 0.650 0.647 0.644 0.641 0.638 0.635 0.632 0.630 0.627 0.624 0.621 0.618 0.615 0.612 0.609 0.606 0.603 0.600 0.597 0.595 0.592 0.589 0.586 0.583 0.580 0.577 0.574 0.571 0.569 0.566 0.563 0.560 0.557 0.554 0.551 0.548 0.546 0.543 0.540 0.537 0.534 0.531 0.528 0.526 0.523 0.520 0.517 0.514 0.511 0.508 0.506 0.503 0.500 0.497 0.494 0.491 0.488 0.485 0.483 0.480 0.477 0.474 0.471 0.469 0.467 0.465 0.462 0.460 0.458 0.456 0.454 0.452 0.450 0.448 0.446 0.444 0.442 0.440 0.438 0.435 0.433 0.431 0.429 0.427 0.425 0.423 0.421 0.427 0.438 0.449 0.460 0.471 0.482 0.493 0.504 0.516 0.527 0.538 0.549 0.560 0.571 0.585 0.608 0.630 0.653 0.676 0.699 0.722 0.745 0.768 0.791 0.804 0.810 0.816 0.823 0.829 0.835 0.841 0.848 0.854 0.860"/><feFuncB type="table" tableValues="1.000 1.000 1.000 1.000 1.000 1.000 1.000 0.975 0.968 0.966 0.964 0.962 0.959 0.957 0.955 0.953 0.951 0.948 0.946 0.944 0.942 0.940 0.937 0.935 0.933 0.931 0.929 0.926 0.924 0.922 0.920 0.917 0.915 0.913 0.911 0.909 0.906 0.904 0.902 0.900 0.898 0.895 0.893 0.891 0.889 0.887 0.884 0.882 0.880 0.877 0.873 0.870 0.867 0.863 0.860 0.857 0.853 0.850 0.847 0.843 0.840 0.837 0.833 0.830 0.827 0.823 0.820 0.817 0.813 0.810 0.807 0.803 0.800 0.797 0.793 0.790 0.787 0.783 0.780 0.777 0.773 0.770 0.767 0.763 0.760 0.757 0.753 0.750 0.747 0.743 0.740 0.737 0.733 0.730 0.727 0.723 0.720 0.717 0.714 0.711 0.708 0.705 0.703 0.700 0.697 0.694 0.691 0.688 0.685 0.682 0.679 0.676 0.673 0.670 0.667 0.665 0.662 0.659 0.656 0.653 0.650 0.647 0.644 0.641 0.638 0.635 0.632 0.630 0.627 0.624 0.621 0.618 0.615 0.612 0.609 0.606 0.603 0.600 0.597 0.595 0.592 0.589 0.586 0.583 0.580 0.577 0.574 0.571 0.569 0.566 0.563 0.560 0.557 0.554 0.551 0.548 0.546 0.543 0.540 0.537 0.534 0.531 0.528 0.526 0.523 0.520 0.517 0.514 0.511 0.508 0.506 0.503 0.500 0.497 0.494 0.491 0.488 0.485 0.483 0.480 0.477 0.474 0.471 0.469 0.467 0.465 0.462 0.460 0.458 0.456 0.454 0.452 0.450 0.448 0.446 0.444 0.442 0.440 0.438 0.435 0.433 0.431 0.429 0.427 0.425 0.423 0.421 0.427 0.438 0.449 0.460 0.471 0.482 0.493 0.504 0.516 0.527 0.538 0.549 0.560 0.571 0.585 0.608 0.630 0.653 0.676 0.699 0.722 0.745 0.768 0.791 0.804 0.810 0.816 0.823 0.829 0.835 0.841 0.848 0.854 0.860"/></feComponentTransfer><feComposite in="fill" in2="edge" operator="arithmetic" k2="1" k3="-0.3"/></filter><filter id="cf14" filterUnits="userSpaceOnUse" x="251.60" y="439.80" width="68.50" height="67.90" color-interpolation-filters="sRGB"><feGaussianBlur stdDeviation="0.6"/><feColorMatrix type="matrix" values="0 0 0 1 0  0 0 0 1 0  0 0 0 1 0  0 0 0 0 1" result="dens"/><feComponentTransfer in="dens" result="q"><feFuncR type="discrete" tableValues="0.0000 0.0000 0.0000 0.0000 0.0000 0.1250 0.1250 0.1250 0.1250 0.1250 0.1250 0.1250 0.1250 0.1250 0.1250 0.1250 0.1250 0.1250 0.1250 0.1250 0.1250 0.1250 0.1250 0.1250 0.2500 0.2500 0.2500 0.2500 0.2500 0.2500 0.2500 0.2500 0.2500 0.2500 0.2500 0.2500 0.2500 0.2500 0.2500 0.2500 0.2500 0.2500 0.2500 0.2500 0.2500 0.2500 0.2500 0.2500 0.3750 0.3750 0.3750 0.3750 0.3750 0.3750 0.3750 0.3750 0.3750 0.3750 0.3750 0.3750 0.3750 0.3750 0.3750 0.3750 0.3750 0.3750 0.3750 0.3750 0.3750 0.3750 0.3750 0.3750 0.3750 0.3750 0.3750 0.3750 0.5000 0.5000 0.5000 0.5000 0.5000 0.5000 0.5000 0.5000 0.5000 0.5000 0.5000 0.5000 0.5000 0.5000 0.5000 0.5000 0.5000 0.5000 0.5000 0.5000 0.5000 0.5000 0.5000 0.5000 0.5000 0.5000 0.5000 0.5000 0.6250 0.6250 0.6250 0.6250 0.6250 0.6250 0.6250 0.6250 0.6250 0.6250 0.6250 0.6250 0.6250 0.6250 0.6250 0.6250 0.6250 0.6250 0.6250 0.6250 0.6250 0.6250 0.6250 0.6250 0.6250 0.6250 0.6250 0.6250 0.7500 0.7500 0.7500 0.7500 0.7500 0.7500 0.7500 0.7500 0.7500 0.7500 0.7500 0.7500 0.7500 0.7500 0.7500 0.7500 0.7500 0.7500 0.7500 0.7500 0.7500 0.7500 0.7500 0.7500 0.7500 0.7500 0.7500 0.7500 0.8750 0.8750 0.8750 0.8750 0.8750 0.8750 0.8750 0.8750 0.8750 0.8750 0.8750 0.8750 0.8750 0.8750 0.8750 0.8750 0.8750 0.8750 0.8750 0.8750 0.8750 0.8750 0.8750 0.8750 1.0000 1.0000 1.0000 1.0000 1.0000 1.0000 1.0000 1.0000 1.0000 1.0000 1.0000 1.0000 1.0000 1.0000 1.0000 1.0000"/><feFuncG type="discrete" tableValues="0.0000 0.0000 0.0000 0.0000 0.0000 0.1250 0.1250 0.1250 0.1250 0.1250 0.1250 0.1250 0.1250 0.1250 0.1250 0.1250 0.1250 0.1250 0.1250 0.1250 0.1250 0.1250 0.1250 0.1250 0.2500 0.2500 0.2500 0.2500 0.2500 0.2500 0.2500 0.2500 0.2500 0.2500 0.2500 0.2500 0.2500 0.2500 0.2500 0.2500 0.2500 0.2500 0.2500 0.2500 0.2500 0.2500 0.2500 0.2500 0.3750 0.3750 0.3750 0.3750 0.3750 0.3750 0.3750 0.3750 0.3750 0.3750 0.3750 0.3750 0.3750 0.3750 0.3750 0.3750 0.3750 0.3750 0.3750 0.3750 0.3750 0.3750 0.3750 0.3750 0.3750 0.3750 0.3750 0.3750 0.5000 0.5000 0.5000 0.5000 0.5000 0.5000 0.5000 0.5000 0.5000 0.5000 0.5000 0.5000 0.5000 0.5000 0.5000 0.5000 0.5000 0.5000 0.5000 0.5000 0.5000 0.5000 0.5000 0.5000 0.5000 0.5000 0.5000 0.5000 0.6250 0.6250 0.6250 0.6250 0.6250 0.6250 0.6250 0.6250 0.6250 0.6250 0.6250 0.6250 0.6250 0.6250 0.6250 0.6250 0.6250 0.6250 0.6250 0.6250 0.6250 0.6250 0.6250 0.6250 0.6250 0.6250 0.6250 0.6250 0.7500 0.7500 0.7500 0.7500 0.7500 0.7500 0.7500 0.7500 0.7500 0.7500 0.7500 0.7500 0.7500 0.7500 0.7500 0.7500 0.7500 0.7500 0.7500 0.7500 0.7500 0.7500 0.7500 0.7500 0.7500 0.7500 0.7500 0.7500 0.8750 0.8750 0.8750 0.8750 0.8750 0.8750 0.8750 0.8750 0.8750 0.8750 0.8750 0.8750 0.8750 0.8750 0.8750 0.8750 0.8750 0.8750 0.8750 0.8750 0.8750 0.8750 0.8750 0.8750 1.0000 1.0000 1.0000 1.0000 1.0000 1.0000 1.0000 1.0000 1.0000 1.0000 1.0000 1.0000 1.0000 1.0000 1.0000 1.0000"/><feFuncB type="discrete" tableValues="0.0000 0.0000 0.0000 0.0000 0.0000 0.1250 0.1250 0.1250 0.1250 0.1250 0.1250 0.1250 0.1250 0.1250 0.1250 0.1250 0.1250 0.1250 0.1250 0.1250 0.1250 0.1250 0.1250 0.1250 0.2500 0.2500 0.2500 0.2500 0.2500 0.2500 0.2500 0.2500 0.2500 0.2500 0.2500 0.2500 0.2500 0.2500 0.2500 0.2500 0.2500 0.2500 0.2500 0.2500 0.2500 0.2500 0.2500 0.2500 0.3750 0.3750 0.3750 0.3750 0.3750 0.3750 0.3750 0.3750 0.3750 0.3750 0.3750 0.3750 0.3750 0.3750 0.3750 0.3750 0.3750 0.3750 0.3750 0.3750 0.3750 0.3750 0.3750 0.3750 0.3750 0.3750 0.3750 0.3750 0.5000 0.5000 0.5000 0.5000 0.5000 0.5000 0.5000 0.5000 0.5000 0.5000 0.5000 0.5000 0.5000 0.5000 0.5000 0.5000 0.5000 0.5000 0.5000 0.5000 0.5000 0.5000 0.5000 0.5000 0.5000 0.5000 0.5000 0.5000 0.6250 0.6250 0.6250 0.6250 0.6250 0.6250 0.6250 0.6250 0.6250 0.6250 0.6250 0.6250 0.6250 0.6250 0.6250 0.6250 0.6250 0.6250 0.6250 0.6250 0.6250 0.6250 0.6250 0.6250 0.6250 0.6250 0.6250 0.6250 0.7500 0.7500 0.7500 0.7500 0.7500 0.7500 0.7500 0.7500 0.7500 0.7500 0.7500 0.7500 0.7500 0.7500 0.7500 0.7500 0.7500 0.7500 0.7500 0.7500 0.7500 0.7500 0.7500 0.7500 0.7500 0.7500 0.7500 0.7500 0.8750 0.8750 0.8750 0.8750 0.8750 0.8750 0.8750 0.8750 0.8750 0.8750 0.8750 0.8750 0.8750 0.8750 0.8750 0.8750 0.8750 0.8750 0.8750 0.8750 0.8750 0.8750 0.8750 0.8750 1.0000 1.0000 1.0000 1.0000 1.0000 1.0000 1.0000 1.0000 1.0000 1.0000 1.0000 1.0000 1.0000 1.0000 1.0000 1.0000"/></feComponentTransfer><feMorphology in="q" operator="erode" radius="0.5" result="qe"/><feComposite in="q" in2="qe" operator="arithmetic" k2="8" k3="-8" result="edge0"/><feComponentTransfer in="dens" result="inv"><feFuncR type="linear" slope="-0.9" intercept="1.05"/><feFuncG type="linear" slope="-0.9" intercept="1.05"/><feFuncB type="linear" slope="-0.9" intercept="1.05"/></feComponentTransfer><feComposite in="edge0" in2="inv" operator="arithmetic" k1="1" result="edge"/><feComponentTransfer in="dens" result="fill"><feFuncR type="table" tableValues="1.000 1.000 1.000 1.000 1.000 1.000 1.000 0.975 0.968 0.966 0.964 0.962 0.959 0.957 0.955 0.953 0.951 0.948 0.946 0.944 0.942 0.940 0.937 0.935 0.933 0.931 0.929 0.926 0.924 0.922 0.920 0.917 0.915 0.913 0.911 0.909 0.906 0.904 0.902 0.900 0.898 0.895 0.893 0.891 0.889 0.887 0.884 0.882 0.880 0.877 0.873 0.870 0.867 0.863 0.860 0.857 0.853 0.850 0.847 0.843 0.840 0.837 0.833 0.830 0.827 0.823 0.820 0.817 0.813 0.810 0.807 0.803 0.800 0.797 0.793 0.790 0.787 0.783 0.780 0.777 0.773 0.770 0.767 0.763 0.760 0.757 0.753 0.750 0.747 0.743 0.740 0.737 0.733 0.730 0.727 0.723 0.720 0.717 0.714 0.711 0.708 0.705 0.703 0.700 0.697 0.694 0.691 0.688 0.685 0.682 0.679 0.676 0.673 0.670 0.667 0.665 0.662 0.659 0.656 0.653 0.650 0.647 0.644 0.641 0.638 0.635 0.632 0.630 0.627 0.624 0.621 0.618 0.615 0.612 0.609 0.606 0.603 0.600 0.597 0.595 0.592 0.589 0.586 0.583 0.580 0.577 0.574 0.571 0.569 0.566 0.563 0.560 0.557 0.554 0.551 0.548 0.546 0.543 0.540 0.537 0.534 0.531 0.528 0.526 0.523 0.520 0.517 0.514 0.511 0.508 0.506 0.503 0.500 0.497 0.494 0.491 0.488 0.485 0.483 0.480 0.477 0.474 0.471 0.469 0.467 0.465 0.462 0.460 0.458 0.456 0.454 0.452 0.450 0.448 0.446 0.444 0.442 0.440 0.438 0.435 0.433 0.431 0.429 0.427 0.425 0.423 0.421 0.427 0.438 0.449 0.460 0.471 0.482 0.493 0.504 0.516 0.527 0.538 0.549 0.560 0.571 0.585 0.608 0.630 0.653 0.676 0.699 0.722 0.745 0.768 0.791 0.804 0.810 0.816 0.823 0.829 0.835 0.841 0.848 0.854 0.860"/><feFuncG type="table" tableValues="1.000 1.000 1.000 1.000 1.000 1.000 1.000 0.975 0.968 0.966 0.964 0.962 0.959 0.957 0.955 0.953 0.951 0.948 0.946 0.944 0.942 0.940 0.937 0.935 0.933 0.931 0.929 0.926 0.924 0.922 0.920 0.917 0.915 0.913 0.911 0.909 0.906 0.904 0.902 0.900 0.898 0.895 0.893 0.891 0.889 0.887 0.884 0.882 0.880 0.877 0.873 0.870 0.867 0.863 0.860 0.857 0.853 0.850 0.847 0.843 0.840 0.837 0.833 0.830 0.827 0.823 0.820 0.817 0.813 0.810 0.807 0.803 0.800 0.797 0.793 0.790 0.787 0.783 0.780 0.777 0.773 0.770 0.767 0.763 0.760 0.757 0.753 0.750 0.747 0.743 0.740 0.737 0.733 0.730 0.727 0.723 0.720 0.717 0.714 0.711 0.708 0.705 0.703 0.700 0.697 0.694 0.691 0.688 0.685 0.682 0.679 0.676 0.673 0.670 0.667 0.665 0.662 0.659 0.656 0.653 0.650 0.647 0.644 0.641 0.638 0.635 0.632 0.630 0.627 0.624 0.621 0.618 0.615 0.612 0.609 0.606 0.603 0.600 0.597 0.595 0.592 0.589 0.586 0.583 0.580 0.577 0.574 0.571 0.569 0.566 0.563 0.560 0.557 0.554 0.551 0.548 0.546 0.543 0.540 0.537 0.534 0.531 0.528 0.526 0.523 0.520 0.517 0.514 0.511 0.508 0.506 0.503 0.500 0.497 0.494 0.491 0.488 0.485 0.483 0.480 0.477 0.474 0.471 0.469 0.467 0.465 0.462 0.460 0.458 0.456 0.454 0.452 0.450 0.448 0.446 0.444 0.442 0.440 0.438 0.435 0.433 0.431 0.429 0.427 0.425 0.423 0.421 0.427 0.438 0.449 0.460 0.471 0.482 0.493 0.504 0.516 0.527 0.538 0.549 0.560 0.571 0.585 0.608 0.630 0.653 0.676 0.699 0.722 0.745 0.768 0.791 0.804 0.810 0.816 0.823 0.829 0.835 0.841 0.848 0.854 0.860"/><feFuncB type="table" tableValues="1.000 1.000 1.000 1.000 1.000 1.000 1.000 0.975 0.968 0.966 0.964 0.962 0.959 0.957 0.955 0.953 0.951 0.948 0.946 0.944 0.942 0.940 0.937 0.935 0.933 0.931 0.929 0.926 0.924 0.922 0.920 0.917 0.915 0.913 0.911 0.909 0.906 0.904 0.902 0.900 0.898 0.895 0.893 0.891 0.889 0.887 0.884 0.882 0.880 0.877 0.873 0.870 0.867 0.863 0.860 0.857 0.853 0.850 0.847 0.843 0.840 0.837 0.833 0.830 0.827 0.823 0.820 0.817 0.813 0.810 0.807 0.803 0.800 0.797 0.793 0.790 0.787 0.783 0.780 0.777 0.773 0.770 0.767 0.763 0.760 0.757 0.753 0.750 0.747 0.743 0.740 0.737 0.733 0.730 0.727 0.723 0.720 0.717 0.714 0.711 0.708 0.705 0.703 0.700 0.697 0.694 0.691 0.688 0.685 0.682 0.679 0.676 0.673 0.670 0.667 0.665 0.662 0.659 0.656 0.653 0.650 0.647 0.644 0.641 0.638 0.635 0.632 0.630 0.627 0.624 0.621 0.618 0.615 0.612 0.609 0.606 0.603 0.600 0.597 0.595 0.592 0.589 0.586 0.583 0.580 0.577 0.574 0.571 0.569 0.566 0.563 0.560 0.557 0.554 0.551 0.548 0.546 0.543 0.540 0.537 0.534 0.531 0.528 0.526 0.523 0.520 0.517 0.514 0.511 0.508 0.506 0.503 0.500 0.497 0.494 0.491 0.488 0.485 0.483 0.480 0.477 0.474 0.471 0.469 0.467 0.465 0.462 0.460 0.458 0.456 0.454 0.452 0.450 0.448 0.446 0.444 0.442 0.440 0.438 0.435 0.433 0.431 0.429 0.427 0.425 0.423 0.421 0.427 0.438 0.449 0.460 0.471 0.482 0.493 0.504 0.516 0.527 0.538 0.549 0.560 0.571 0.585 0.608 0.630 0.653 0.676 0.699 0.722 0.745 0.768 0.791 0.804 0.810 0.816 0.823 0.829 0.835 0.841 0.848 0.854 0.860"/></feComponentTransfer><feComposite in="fill" in2="edge" operator="arithmetic" k2="1" k3="-0.3"/></filter><filter id="sb1_5" filterUnits="userSpaceOnUse" x="-40" y="-40" width="150" height="150"><feGaussianBlur stdDeviation="1.5"/></filter><filter id="cf15" filterUnits="userSpaceOnUse" x="348.20" y="441.50" width="68.50" height="67.90" color-interpolation-filters="sRGB"><feGaussianBlur stdDeviation="0.6"/><feColorMatrix type="matrix" values="0 0 0 1 0  0 0 0 1 0  0 0 0 1 0  0 0 0 0 1" result="dens"/><feComponentTransfer in="dens" result="q"><feFuncR type="discrete" tableValues="0.0000 0.0000 0.0000 0.0000 0.0000 0.1250 0.1250 0.1250 0.1250 0.1250 0.1250 0.1250 0.1250 0.1250 0.1250 0.1250 0.1250 0.1250 0.1250 0.1250 0.1250 0.1250 0.1250 0.1250 0.2500 0.2500 0.2500 0.2500 0.2500 0.2500 0.2500 0.2500 0.2500 0.2500 0.2500 0.2500 0.2500 0.2500 0.2500 0.2500 0.2500 0.2500 0.2500 0.2500 0.2500 0.2500 0.2500 0.2500 0.3750 0.3750 0.3750 0.3750 0.3750 0.3750 0.3750 0.3750 0.3750 0.3750 0.3750 0.3750 0.3750 0.3750 0.3750 0.3750 0.3750 0.3750 0.3750 0.3750 0.3750 0.3750 0.3750 0.3750 0.3750 0.3750 0.3750 0.3750 0.5000 0.5000 0.5000 0.5000 0.5000 0.5000 0.5000 0.5000 0.5000 0.5000 0.5000 0.5000 0.5000 0.5000 0.5000 0.5000 0.5000 0.5000 0.5000 0.5000 0.5000 0.5000 0.5000 0.5000 0.5000 0.5000 0.5000 0.5000 0.6250 0.6250 0.6250 0.6250 0.6250 0.6250 0.6250 0.6250 0.6250 0.6250 0.6250 0.6250 0.6250 0.6250 0.6250 0.6250 0.6250 0.6250 0.6250 0.6250 0.6250 0.6250 0.6250 0.6250 0.6250 0.6250 0.6250 0.6250 0.7500 0.7500 0.7500 0.7500 0.7500 0.7500 0.7500 0.7500 0.7500 0.7500 0.7500 0.7500 0.7500 0.7500 0.7500 0.7500 0.7500 0.7500 0.7500 0.7500 0.7500 0.7500 0.7500 0.7500 0.7500 0.7500 0.7500 0.7500 0.8750 0.8750 0.8750 0.8750 0.8750 0.8750 0.8750 0.8750 0.8750 0.8750 0.8750 0.8750 0.8750 0.8750 0.8750 0.8750 0.8750 0.8750 0.8750 0.8750 0.8750 0.8750 0.8750 0.8750 1.0000 1.0000 1.0000 1.0000 1.0000 1.0000 1.0000 1.0000 1.0000 1.0000 1.0000 1.0000 1.0000 1.0000 1.0000 1.0000"/><feFuncG type="discrete" tableValues="0.0000 0.0000 0.0000 0.0000 0.0000 0.1250 0.1250 0.1250 0.1250 0.1250 0.1250 0.1250 0.1250 0.1250 0.1250 0.1250 0.1250 0.1250 0.1250 0.1250 0.1250 0.1250 0.1250 0.1250 0.2500 0.2500 0.2500 0.2500 0.2500 0.2500 0.2500 0.2500 0.2500 0.2500 0.2500 0.2500 0.2500 0.2500 0.2500 0.2500 0.2500 0.2500 0.2500 0.2500 0.2500 0.2500 0.2500 0.2500 0.3750 0.3750 0.3750 0.3750 0.3750 0.3750 0.3750 0.3750 0.3750 0.3750 0.3750 0.3750 0.3750 0.3750 0.3750 0.3750 0.3750 0.3750 0.3750 0.3750 0.3750 0.3750 0.3750 0.3750 0.3750 0.3750 0.3750 0.3750 0.5000 0.5000 0.5000 0.5000 0.5000 0.5000 0.5000 0.5000 0.5000 0.5000 0.5000 0.5000 0.5000 0.5000 0.5000 0.5000 0.5000 0.5000 0.5000 0.5000 0.5000 0.5000 0.5000 0.5000 0.5000 0.5000 0.5000 0.5000 0.6250 0.6250 0.6250 0.6250 0.6250 0.6250 0.6250 0.6250 0.6250 0.6250 0.6250 0.6250 0.6250 0.6250 0.6250 0.6250 0.6250 0.6250 0.6250 0.6250 0.6250 0.6250 0.6250 0.6250 0.6250 0.6250 0.6250 0.6250 0.7500 0.7500 0.7500 0.7500 0.7500 0.7500 0.7500 0.7500 0.7500 0.7500 0.7500 0.7500 0.7500 0.7500 0.7500 0.7500 0.7500 0.7500 0.7500 0.7500 0.7500 0.7500 0.7500 0.7500 0.7500 0.7500 0.7500 0.7500 0.8750 0.8750 0.8750 0.8750 0.8750 0.8750 0.8750 0.8750 0.8750 0.8750 0.8750 0.8750 0.8750 0.8750 0.8750 0.8750 0.8750 0.8750 0.8750 0.8750 0.8750 0.8750 0.8750 0.8750 1.0000 1.0000 1.0000 1.0000 1.0000 1.0000 1.0000 1.0000 1.0000 1.0000 1.0000 1.0000 1.0000 1.0000 1.0000 1.0000"/><feFuncB type="discrete" tableValues="0.0000 0.0000 0.0000 0.0000 0.0000 0.1250 0.1250 0.1250 0.1250 0.1250 0.1250 0.1250 0.1250 0.1250 0.1250 0.1250 0.1250 0.1250 0.1250 0.1250 0.1250 0.1250 0.1250 0.1250 0.2500 0.2500 0.2500 0.2500 0.2500 0.2500 0.2500 0.2500 0.2500 0.2500 0.2500 0.2500 0.2500 0.2500 0.2500 0.2500 0.2500 0.2500 0.2500 0.2500 0.2500 0.2500 0.2500 0.2500 0.3750 0.3750 0.3750 0.3750 0.3750 0.3750 0.3750 0.3750 0.3750 0.3750 0.3750 0.3750 0.3750 0.3750 0.3750 0.3750 0.3750 0.3750 0.3750 0.3750 0.3750 0.3750 0.3750 0.3750 0.3750 0.3750 0.3750 0.3750 0.5000 0.5000 0.5000 0.5000 0.5000 0.5000 0.5000 0.5000 0.5000 0.5000 0.5000 0.5000 0.5000 0.5000 0.5000 0.5000 0.5000 0.5000 0.5000 0.5000 0.5000 0.5000 0.5000 0.5000 0.5000 0.5000 0.5000 0.5000 0.6250 0.6250 0.6250 0.6250 0.6250 0.6250 0.6250 0.6250 0.6250 0.6250 0.6250 0.6250 0.6250 0.6250 0.6250 0.6250 0.6250 0.6250 0.6250 0.6250 0.6250 0.6250 0.6250 0.6250 0.6250 0.6250 0.6250 0.6250 0.7500 0.7500 0.7500 0.7500 0.7500 0.7500 0.7500 0.7500 0.7500 0.7500 0.7500 0.7500 0.7500 0.7500 0.7500 0.7500 0.7500 0.7500 0.7500 0.7500 0.7500 0.7500 0.7500 0.7500 0.7500 0.7500 0.7500 0.7500 0.8750 0.8750 0.8750 0.8750 0.8750 0.8750 0.8750 0.8750 0.8750 0.8750 0.8750 0.8750 0.8750 0.8750 0.8750 0.8750 0.8750 0.8750 0.8750 0.8750 0.8750 0.8750 0.8750 0.8750 1.0000 1.0000 1.0000 1.0000 1.0000 1.0000 1.0000 1.0000 1.0000 1.0000 1.0000 1.0000 1.0000 1.0000 1.0000 1.0000"/></feComponentTransfer><feMorphology in="q" operator="erode" radius="0.5" result="qe"/><feComposite in="q" in2="qe" operator="arithmetic" k2="8" k3="-8" result="edge0"/><feComponentTransfer in="dens" result="inv"><feFuncR type="linear" slope="-0.9" intercept="1.05"/><feFuncG type="linear" slope="-0.9" intercept="1.05"/><feFuncB type="linear" slope="-0.9" intercept="1.05"/></feComponentTransfer><feComposite in="edge0" in2="inv" operator="arithmetic" k1="1" result="edge"/><feComponentTransfer in="dens" result="fill"><feFuncR type="table" tableValues="1.000 1.000 1.000 1.000 1.000 1.000 1.000 0.975 0.968 0.966 0.964 0.962 0.959 0.957 0.955 0.953 0.951 0.948 0.946 0.944 0.942 0.940 0.937 0.935 0.933 0.931 0.929 0.926 0.924 0.922 0.920 0.917 0.915 0.913 0.911 0.909 0.906 0.904 0.902 0.900 0.898 0.895 0.893 0.891 0.889 0.887 0.884 0.882 0.880 0.877 0.873 0.870 0.867 0.863 0.860 0.857 0.853 0.850 0.847 0.843 0.840 0.837 0.833 0.830 0.827 0.823 0.820 0.817 0.813 0.810 0.807 0.803 0.800 0.797 0.793 0.790 0.787 0.783 0.780 0.777 0.773 0.770 0.767 0.763 0.760 0.757 0.753 0.750 0.747 0.743 0.740 0.737 0.733 0.730 0.727 0.723 0.720 0.717 0.714 0.711 0.708 0.705 0.703 0.700 0.697 0.694 0.691 0.688 0.685 0.682 0.679 0.676 0.673 0.670 0.667 0.665 0.662 0.659 0.656 0.653 0.650 0.647 0.644 0.641 0.638 0.635 0.632 0.630 0.627 0.624 0.621 0.618 0.615 0.612 0.609 0.606 0.603 0.600 0.597 0.595 0.592 0.589 0.586 0.583 0.580 0.577 0.574 0.571 0.569 0.566 0.563 0.560 0.557 0.554 0.551 0.548 0.546 0.543 0.540 0.537 0.534 0.531 0.528 0.526 0.523 0.520 0.517 0.514 0.511 0.508 0.506 0.503 0.500 0.497 0.494 0.491 0.488 0.485 0.483 0.480 0.477 0.474 0.471 0.469 0.467 0.465 0.462 0.460 0.458 0.456 0.454 0.452 0.450 0.448 0.446 0.444 0.442 0.440 0.438 0.435 0.433 0.431 0.429 0.427 0.425 0.423 0.421 0.427 0.438 0.449 0.460 0.471 0.482 0.493 0.504 0.516 0.527 0.538 0.549 0.560 0.571 0.585 0.608 0.630 0.653 0.676 0.699 0.722 0.745 0.768 0.791 0.804 0.810 0.816 0.823 0.829 0.835 0.841 0.848 0.854 0.860"/><feFuncG type="table" tableValues="1.000 1.000 1.000 1.000 1.000 1.000 1.000 0.975 0.968 0.966 0.964 0.962 0.959 0.957 0.955 0.953 0.951 0.948 0.946 0.944 0.942 0.940 0.937 0.935 0.933 0.931 0.929 0.926 0.924 0.922 0.920 0.917 0.915 0.913 0.911 0.909 0.906 0.904 0.902 0.900 0.898 0.895 0.893 0.891 0.889 0.887 0.884 0.882 0.880 0.877 0.873 0.870 0.867 0.863 0.860 0.857 0.853 0.850 0.847 0.843 0.840 0.837 0.833 0.830 0.827 0.823 0.820 0.817 0.813 0.810 0.807 0.803 0.800 0.797 0.793 0.790 0.787 0.783 0.780 0.777 0.773 0.770 0.767 0.763 0.760 0.757 0.753 0.750 0.747 0.743 0.740 0.737 0.733 0.730 0.727 0.723 0.720 0.717 0.714 0.711 0.708 0.705 0.703 0.700 0.697 0.694 0.691 0.688 0.685 0.682 0.679 0.676 0.673 0.670 0.667 0.665 0.662 0.659 0.656 0.653 0.650 0.647 0.644 0.641 0.638 0.635 0.632 0.630 0.627 0.624 0.621 0.618 0.615 0.612 0.609 0.606 0.603 0.600 0.597 0.595 0.592 0.589 0.586 0.583 0.580 0.577 0.574 0.571 0.569 0.566 0.563 0.560 0.557 0.554 0.551 0.548 0.546 0.543 0.540 0.537 0.534 0.531 0.528 0.526 0.523 0.520 0.517 0.514 0.511 0.508 0.506 0.503 0.500 0.497 0.494 0.491 0.488 0.485 0.483 0.480 0.477 0.474 0.471 0.469 0.467 0.465 0.462 0.460 0.458 0.456 0.454 0.452 0.450 0.448 0.446 0.444 0.442 0.440 0.438 0.435 0.433 0.431 0.429 0.427 0.425 0.423 0.421 0.427 0.438 0.449 0.460 0.471 0.482 0.493 0.504 0.516 0.527 0.538 0.549 0.560 0.571 0.585 0.608 0.630 0.653 0.676 0.699 0.722 0.745 0.768 0.791 0.804 0.810 0.816 0.823 0.829 0.835 0.841 0.848 0.854 0.860"/><feFuncB type="table" tableValues="1.000 1.000 1.000 1.000 1.000 1.000 1.000 0.975 0.968 0.966 0.964 0.962 0.959 0.957 0.955 0.953 0.951 0.948 0.946 0.944 0.942 0.940 0.937 0.935 0.933 0.931 0.929 0.926 0.924 0.922 0.920 0.917 0.915 0.913 0.911 0.909 0.906 0.904 0.902 0.900 0.898 0.895 0.893 0.891 0.889 0.887 0.884 0.882 0.880 0.877 0.873 0.870 0.867 0.863 0.860 0.857 0.853 0.850 0.847 0.843 0.840 0.837 0.833 0.830 0.827 0.823 0.820 0.817 0.813 0.810 0.807 0.803 0.800 0.797 0.793 0.790 0.787 0.783 0.780 0.777 0.773 0.770 0.767 0.763 0.760 0.757 0.753 0.750 0.747 0.743 0.740 0.737 0.733 0.730 0.727 0.723 0.720 0.717 0.714 0.711 0.708 0.705 0.703 0.700 0.697 0.694 0.691 0.688 0.685 0.682 0.679 0.676 0.673 0.670 0.667 0.665 0.662 0.659 0.656 0.653 0.650 0.647 0.644 0.641 0.638 0.635 0.632 0.630 0.627 0.624 0.621 0.618 0.615 0.612 0.609 0.606 0.603 0.600 0.597 0.595 0.592 0.589 0.586 0.583 0.580 0.577 0.574 0.571 0.569 0.566 0.563 0.560 0.557 0.554 0.551 0.548 0.546 0.543 0.540 0.537 0.534 0.531 0.528 0.526 0.523 0.520 0.517 0.514 0.511 0.508 0.506 0.503 0.500 0.497 0.494 0.491 0.488 0.485 0.483 0.480 0.477 0.474 0.471 0.469 0.467 0.465 0.462 0.460 0.458 0.456 0.454 0.452 0.450 0.448 0.446 0.444 0.442 0.440 0.438 0.435 0.433 0.431 0.429 0.427 0.425 0.423 0.421 0.427 0.438 0.449 0.460 0.471 0.482 0.493 0.504 0.516 0.527 0.538 0.549 0.560 0.571 0.585 0.608 0.630 0.653 0.676 0.699 0.722 0.745 0.768 0.791 0.804 0.810 0.816 0.823 0.829 0.835 0.841 0.848 0.854 0.860"/></feComponentTransfer><feComposite in="fill" in2="edge" operator="arithmetic" k2="1" k3="-0.3"/></filter></defs>
<rect width="520" height="695" fill="#fff"/>
<text x="6.60" y="14.90" font-size="11.4" font-weight="bold" fill="#000" stroke="#000" stroke-width="0.08">A</text>
<line x1="50.20" y1="21.80" x2="50.20" y2="137.50" stroke="#222" stroke-width="1.1"/>
<line x1="47.20" y1="136.76" x2="50.20" y2="136.76" stroke="#222" stroke-width="1"/>
<text x="43.30" y="139.26" font-size="8.3" text-anchor="end" fill="#000" stroke="#000" stroke-width="0.08">10<tspan font-size="5.60" dy="-2.70" dx="0.9">-2</tspan></text>
<line x1="47.20" y1="120.68" x2="50.20" y2="120.68" stroke="#222" stroke-width="1"/>
<text x="43.30" y="123.18" font-size="8.3" text-anchor="end" fill="#000" stroke="#000" stroke-width="0.08">10<tspan font-size="5.60" dy="-2.70" dx="0.9">-1</tspan></text>
<line x1="47.20" y1="104.60" x2="50.20" y2="104.60" stroke="#222" stroke-width="1"/>
<text x="43.30" y="107.10" font-size="8.3" text-anchor="end" fill="#000" stroke="#000" stroke-width="0.08">10<tspan font-size="5.60" dy="-2.70" dx="0.9">0</tspan></text>
<line x1="47.20" y1="88.52" x2="50.20" y2="88.52" stroke="#222" stroke-width="1"/>
<text x="43.30" y="91.02" font-size="8.3" text-anchor="end" fill="#000" stroke="#000" stroke-width="0.08">10<tspan font-size="5.60" dy="-2.70" dx="0.9">1</tspan></text>
<line x1="47.20" y1="72.44" x2="50.20" y2="72.44" stroke="#222" stroke-width="1"/>
<text x="43.30" y="74.94" font-size="8.3" text-anchor="end" fill="#000" stroke="#000" stroke-width="0.08">10<tspan font-size="5.60" dy="-2.70" dx="0.9">2</tspan></text>
<line x1="47.20" y1="56.36" x2="50.20" y2="56.36" stroke="#222" stroke-width="1"/>
<text x="43.30" y="58.86" font-size="8.3" text-anchor="end" fill="#000" stroke="#000" stroke-width="0.08">10<tspan font-size="5.60" dy="-2.70" dx="0.9">3</tspan></text>
<line x1="47.20" y1="40.28" x2="50.20" y2="40.28" stroke="#222" stroke-width="1"/>
<text x="43.30" y="42.78" font-size="8.3" text-anchor="end" fill="#000" stroke="#000" stroke-width="0.08">10<tspan font-size="5.60" dy="-2.70" dx="0.9">4</tspan></text>
<line x1="47.20" y1="24.20" x2="50.20" y2="24.20" stroke="#222" stroke-width="1"/>
<text x="43.30" y="26.70" font-size="8.3" text-anchor="end" fill="#000" stroke="#000" stroke-width="0.08">10<tspan font-size="5.60" dy="-2.70" dx="0.9">5</tspan></text>
<line x1="50.20" y1="104.60" x2="208.00" y2="104.60" stroke="#111" stroke-width="1.1"/>
<line x1="108.20" y1="104.60" x2="108.20" y2="107.60" stroke="#111" stroke-width="1"/>
<text x="108.20" y="117.40" font-size="8.0" text-anchor="middle" fill="#000" stroke="#000" stroke-width="0.08">8</text>
<line x1="137.20" y1="104.60" x2="137.20" y2="107.60" stroke="#111" stroke-width="1"/>
<text x="137.20" y="117.40" font-size="8.0" text-anchor="middle" fill="#000" stroke="#000" stroke-width="0.08">12</text>
<line x1="166.20" y1="104.60" x2="166.20" y2="107.60" stroke="#111" stroke-width="1"/>
<text x="166.20" y="117.40" font-size="8.0" text-anchor="middle" fill="#000" stroke="#000" stroke-width="0.08">16</text>
<line x1="195.20" y1="104.60" x2="195.20" y2="107.60" stroke="#111" stroke-width="1"/>
<text x="195.20" y="117.40" font-size="8.0" text-anchor="middle" fill="#000" stroke="#000" stroke-width="0.08">20</text>
<text x="144.50" y="130.60" font-size="9" text-anchor="middle" fill="#000" stroke="#000" stroke-width="0.3" textLength="53" lengthAdjust="spacingAndGlyphs">Time (days in EM)</text>
<text x="0" y="0" font-size="9.6" text-anchor="middle" fill="#000" stroke="#000" stroke-width="0.3" textLength="77.5" lengthAdjust="spacingAndGlyphs" transform="translate(26.70,80.50) rotate(-90)">Cell number (fold change)</text>
<line x1="79.20" y1="116.30" x2="79.20" y2="126.90" stroke="#111" stroke-width="0.9"/>
<line x1="77.00" y1="126.90" x2="81.40" y2="126.90" stroke="#111" stroke-width="0.9"/>
<line x1="93.70" y1="98.40" x2="93.70" y2="115.20" stroke="#111" stroke-width="0.9"/>
<line x1="91.50" y1="115.20" x2="95.90" y2="115.20" stroke="#111" stroke-width="0.9"/>
<line x1="93.70" y1="98.40" x2="93.70" y2="93.00" stroke="#111" stroke-width="0.9"/>
<line x1="91.50" y1="93.00" x2="95.90" y2="93.00" stroke="#111" stroke-width="0.9"/>
<line x1="129.95" y1="68.00" x2="129.95" y2="62.30" stroke="#111" stroke-width="0.9"/>
<line x1="127.75" y1="62.30" x2="132.15" y2="62.30" stroke="#111" stroke-width="0.9"/>
<line x1="137.20" y1="58.00" x2="137.20" y2="51.80" stroke="#111" stroke-width="0.9"/>
<line x1="135.00" y1="51.80" x2="139.40" y2="51.80" stroke="#111" stroke-width="0.9"/>
<line x1="151.70" y1="52.00" x2="151.70" y2="47.50" stroke="#111" stroke-width="0.9"/>
<line x1="149.50" y1="47.50" x2="153.90" y2="47.50" stroke="#111" stroke-width="0.9"/>
<line x1="180.70" y1="45.00" x2="180.70" y2="43.80" stroke="#111" stroke-width="0.9"/>
<line x1="178.50" y1="43.80" x2="182.90" y2="43.80" stroke="#111" stroke-width="0.9"/>
<line x1="180.70" y1="45.00" x2="180.70" y2="50.00" stroke="#111" stroke-width="0.9"/>
<line x1="178.50" y1="50.00" x2="182.90" y2="50.00" stroke="#111" stroke-width="0.9"/>
<line x1="195.20" y1="45.00" x2="195.20" y2="53.00" stroke="#111" stroke-width="0.9"/>
<line x1="193.00" y1="53.00" x2="197.40" y2="53.00" stroke="#111" stroke-width="0.9"/>
<line x1="195.20" y1="32.50" x2="195.20" y2="28.20" stroke="#111" stroke-width="0.9"/>
<line x1="193.00" y1="28.20" x2="197.40" y2="28.20" stroke="#111" stroke-width="0.9"/>
<line x1="195.20" y1="73.80" x2="195.20" y2="69.30" stroke="#111" stroke-width="0.9"/>
<line x1="193.00" y1="69.30" x2="197.40" y2="69.30" stroke="#111" stroke-width="0.9"/>
<line x1="195.20" y1="73.80" x2="195.20" y2="89.50" stroke="#111" stroke-width="0.9"/>
<line x1="193.00" y1="89.50" x2="197.40" y2="89.50" stroke="#111" stroke-width="0.9"/>
<line x1="180.70" y1="80.50" x2="180.70" y2="77.20" stroke="#111" stroke-width="0.9"/>
<line x1="178.50" y1="77.20" x2="182.90" y2="77.20" stroke="#111" stroke-width="0.9"/>
<line x1="151.70" y1="87.50" x2="151.70" y2="84.50" stroke="#111" stroke-width="0.9"/>
<line x1="149.50" y1="84.50" x2="153.90" y2="84.50" stroke="#111" stroke-width="0.9"/>
<line x1="151.70" y1="90.00" x2="151.70" y2="94.20" stroke="#111" stroke-width="0.9"/>
<line x1="149.50" y1="94.20" x2="153.90" y2="94.20" stroke="#111" stroke-width="0.9"/>
<line x1="100.95" y1="74.20" x2="100.95" y2="72.50" stroke="#111" stroke-width="0.9"/>
<line x1="98.75" y1="72.50" x2="103.15" y2="72.50" stroke="#111" stroke-width="0.9"/>
<path d="M50.20,104.60 L79.20,111.80 L93.70,105.50 L100.95,105.80 L129.95,95.00 L137.20,91.80 L151.70,90.00 L180.70,87.50" fill="none" stroke="#e3900f" stroke-width="1.3" stroke-linejoin="round"/>
<path d="M50.20,104.60 L79.20,116.30 L93.70,104.30 L100.95,103.50 L129.95,95.00 L137.20,94.30 L151.70,87.50 L180.70,80.50 L195.20,73.80" fill="none" stroke="#4c1f72" stroke-width="1.3" stroke-linejoin="round"/>
<path d="M50.20,104.60 L79.20,108.50 L93.70,105.10 L100.95,74.20 L129.95,67.50 L151.70,42.50 L180.70,36.30 L195.20,35.80" fill="none" stroke="#5aad3a" stroke-width="1.3" stroke-linejoin="round"/>
<path d="M50.20,104.60 L79.20,108.00 L93.70,101.00 L100.95,93.20 L129.95,69.50 L137.20,63.30 L151.70,54.50 L180.70,41.30 L195.20,32.50" fill="none" stroke="#213f85" stroke-width="1.3" stroke-linejoin="round"/>
<path d="M50.20,104.60 L79.20,109.40 L93.70,98.40 L100.95,83.10 L129.95,68.00 L137.20,58.00 L151.70,52.00 L180.70,45.00 L195.20,45.00" fill="none" stroke="#b1103a" stroke-width="1.3" stroke-linejoin="round"/>
<path d="M50.20,102.00 L52.67,106.29 L47.73,106.29Z" fill="#fff" stroke="#e3900f" stroke-width="1"/>
<path d="M79.20,109.20 L81.67,113.49 L76.73,113.49Z" fill="#fff" stroke="#e3900f" stroke-width="1"/>
<path d="M93.70,102.90 L96.17,107.19 L91.23,107.19Z" fill="#fff" stroke="#e3900f" stroke-width="1"/>
<path d="M100.95,103.20 L103.42,107.49 L98.48,107.49Z" fill="#fff" stroke="#e3900f" stroke-width="1"/>
<path d="M129.95,92.40 L132.42,96.69 L127.48,96.69Z" fill="#fff" stroke="#e3900f" stroke-width="1"/>
<path d="M137.20,89.20 L139.67,93.49 L134.73,93.49Z" fill="#fff" stroke="#e3900f" stroke-width="1"/>
<path d="M151.70,87.40 L154.17,91.69 L149.23,91.69Z" fill="#fff" stroke="#e3900f" stroke-width="1"/>
<path d="M180.70,84.90 L183.17,89.19 L178.23,89.19Z" fill="#fff" stroke="#e3900f" stroke-width="1"/>
<rect x="48.30" y="102.70" width="3.80" height="3.80" fill="#fff" stroke="#4c1f72" stroke-width="1.1"/>
<rect x="77.30" y="114.40" width="3.80" height="3.80" fill="#fff" stroke="#4c1f72" stroke-width="1.1"/>
<rect x="91.80" y="102.40" width="3.80" height="3.80" fill="#fff" stroke="#4c1f72" stroke-width="1.1"/>
<rect x="99.05" y="101.60" width="3.80" height="3.80" fill="#fff" stroke="#4c1f72" stroke-width="1.1"/>
<rect x="128.05" y="93.10" width="3.80" height="3.80" fill="#fff" stroke="#4c1f72" stroke-width="1.1"/>
<rect x="135.30" y="92.40" width="3.80" height="3.80" fill="#fff" stroke="#4c1f72" stroke-width="1.1"/>
<rect x="149.80" y="85.60" width="3.80" height="3.80" fill="#fff" stroke="#4c1f72" stroke-width="1.1"/>
<rect x="178.80" y="78.60" width="3.80" height="3.80" fill="#fff" stroke="#4c1f72" stroke-width="1.1"/>
<rect x="193.30" y="71.90" width="3.80" height="3.80" fill="#fff" stroke="#4c1f72" stroke-width="1.1"/>
<circle cx="50.20" cy="104.60" r="2.60" fill="#5aad3a"/>
<circle cx="79.20" cy="108.50" r="2.60" fill="#5aad3a"/>
<circle cx="93.70" cy="105.10" r="2.60" fill="#5aad3a"/>
<circle cx="100.95" cy="74.20" r="2.60" fill="#5aad3a"/>
<circle cx="129.95" cy="67.50" r="2.60" fill="#5aad3a"/>
<circle cx="151.70" cy="42.50" r="2.60" fill="#5aad3a"/>
<circle cx="180.70" cy="36.30" r="2.60" fill="#5aad3a"/>
<circle cx="195.20" cy="35.80" r="2.60" fill="#5aad3a"/>
<path d="M50.20,101.80 L52.86,106.42 L47.54,106.42Z" fill="#213f85"/>
<path d="M79.20,105.20 L81.86,109.82 L76.54,109.82Z" fill="#213f85"/>
<path d="M93.70,98.20 L96.36,102.82 L91.04,102.82Z" fill="#213f85"/>
<path d="M100.95,90.40 L103.61,95.02 L98.29,95.02Z" fill="#213f85"/>
<path d="M129.95,66.70 L132.61,71.32 L127.29,71.32Z" fill="#213f85"/>
<path d="M137.20,60.50 L139.86,65.12 L134.54,65.12Z" fill="#213f85"/>
<path d="M151.70,51.70 L154.36,56.32 L149.04,56.32Z" fill="#213f85"/>
<path d="M180.70,38.50 L183.36,43.12 L178.04,43.12Z" fill="#213f85"/>
<path d="M195.20,29.70 L197.86,34.32 L192.54,34.32Z" fill="#213f85"/>
<rect x="47.75" y="102.15" width="4.90" height="4.90" fill="#b1103a"/>
<rect x="76.75" y="106.95" width="4.90" height="4.90" fill="#b1103a"/>
<rect x="91.25" y="95.95" width="4.90" height="4.90" fill="#b1103a"/>
<rect x="98.50" y="80.65" width="4.90" height="4.90" fill="#b1103a"/>
<rect x="127.50" y="65.55" width="4.90" height="4.90" fill="#b1103a"/>
<rect x="134.75" y="55.55" width="4.90" height="4.90" fill="#b1103a"/>
<rect x="149.25" y="49.55" width="4.90" height="4.90" fill="#b1103a"/>
<rect x="178.25" y="42.55" width="4.90" height="4.90" fill="#b1103a"/>
<rect x="192.75" y="42.55" width="4.90" height="4.90" fill="#b1103a"/>
<line x1="54.40" y1="26.90" x2="65.00" y2="26.90" stroke="#b1103a" stroke-width="1.3"/>
<rect x="57.47" y="24.57" width="4.66" height="4.66" fill="#b1103a"/>
<text x="67.90" y="29.40" font-size="7" fill="#000" stroke="#000" stroke-width="0.08">rHA</text>
<line x1="54.40" y1="38.30" x2="65.00" y2="38.30" stroke="#213f85" stroke-width="1.3"/>
<path d="M59.80,35.64 L62.33,40.03 L57.27,40.03Z" fill="#213f85"/>
<text x="67.90" y="40.80" font-size="7" fill="#000" stroke="#000" stroke-width="0.08">dHA</text>
<line x1="54.40" y1="49.10" x2="65.00" y2="49.10" stroke="#5aad3a" stroke-width="1.3"/>
<circle cx="59.80" cy="49.10" r="2.47" fill="#5aad3a"/>
<text x="67.90" y="51.60" font-size="7" fill="#000" stroke="#000" stroke-width="0.08">cHA</text>
<line x1="54.40" y1="60.30" x2="65.00" y2="60.30" stroke="#4c1f72" stroke-width="1.3"/>
<rect x="57.99" y="58.49" width="3.61" height="3.61" fill="#fff" stroke="#4c1f72" stroke-width="1.1"/>
<text x="67.90" y="62.80" font-size="7" fill="#000" stroke="#000" stroke-width="0.08">albuman</text>
<line x1="54.40" y1="71.50" x2="65.00" y2="71.50" stroke="#e3900f" stroke-width="1.3"/>
<path d="M59.80,69.03 L62.15,73.11 L57.45,73.11Z" fill="#fff" stroke="#e3900f" stroke-width="1"/>
<text x="67.90" y="74.00" font-size="7" fill="#000" stroke="#000" stroke-width="0.08">plasma</text>
<text x="235.40" y="14.60" font-size="11.0" font-weight="bold" fill="#000" stroke="#000" stroke-width="0.08">B</text>
<line x1="278.30" y1="14.00" x2="278.30" y2="112.30" stroke="#000" stroke-width="1.4"/>
<line x1="275.50" y1="112.25" x2="278.30" y2="112.25" stroke="#000" stroke-width="1"/>
<text x="272.50" y="114.65" font-size="8.2" text-anchor="end" fill="#000" stroke="#000" stroke-width="0.08">10<tspan font-size="5.00" dy="-3.10" dx="0.7">-1</tspan></text>
<line x1="275.50" y1="102.75" x2="278.30" y2="102.75" stroke="#000" stroke-width="1"/>
<text x="272.50" y="105.15" font-size="8.2" text-anchor="end" fill="#000" stroke="#000" stroke-width="0.08">10<tspan font-size="5.00" dy="-3.10" dx="0.7">0</tspan></text>
<line x1="275.50" y1="93.25" x2="278.30" y2="93.25" stroke="#000" stroke-width="1"/>
<text x="272.50" y="95.65" font-size="8.2" text-anchor="end" fill="#000" stroke="#000" stroke-width="0.08">10<tspan font-size="5.00" dy="-3.10" dx="0.7">1</tspan></text>
<line x1="275.50" y1="83.75" x2="278.30" y2="83.75" stroke="#000" stroke-width="1"/>
<text x="272.50" y="86.15" font-size="8.2" text-anchor="end" fill="#000" stroke="#000" stroke-width="0.08">10<tspan font-size="5.00" dy="-3.10" dx="0.7">2</tspan></text>
<line x1="275.50" y1="74.25" x2="278.30" y2="74.25" stroke="#000" stroke-width="1"/>
<text x="272.50" y="76.65" font-size="8.2" text-anchor="end" fill="#000" stroke="#000" stroke-width="0.08">10<tspan font-size="5.00" dy="-3.10" dx="0.7">3</tspan></text>
<line x1="275.50" y1="64.75" x2="278.30" y2="64.75" stroke="#000" stroke-width="1"/>
<text x="272.50" y="67.15" font-size="8.2" text-anchor="end" fill="#000" stroke="#000" stroke-width="0.08">10<tspan font-size="5.00" dy="-3.10" dx="0.7">4</tspan></text>
<line x1="275.50" y1="55.25" x2="278.30" y2="55.25" stroke="#000" stroke-width="1"/>
<text x="272.50" y="57.65" font-size="8.2" text-anchor="end" fill="#000" stroke="#000" stroke-width="0.08">10<tspan font-size="5.00" dy="-3.10" dx="0.7">5</tspan></text>
<line x1="275.50" y1="45.75" x2="278.30" y2="45.75" stroke="#000" stroke-width="1"/>
<text x="272.50" y="48.15" font-size="8.2" text-anchor="end" fill="#000" stroke="#000" stroke-width="0.08">10<tspan font-size="5.00" dy="-3.10" dx="0.7">6</tspan></text>
<line x1="275.50" y1="36.25" x2="278.30" y2="36.25" stroke="#000" stroke-width="1"/>
<text x="272.50" y="38.65" font-size="8.2" text-anchor="end" fill="#000" stroke="#000" stroke-width="0.08">10<tspan font-size="5.00" dy="-3.10" dx="0.7">7</tspan></text>
<line x1="275.50" y1="26.75" x2="278.30" y2="26.75" stroke="#000" stroke-width="1"/>
<text x="272.50" y="29.15" font-size="8.2" text-anchor="end" fill="#000" stroke="#000" stroke-width="0.08">10<tspan font-size="5.00" dy="-3.10" dx="0.7">8</tspan></text>
<line x1="275.50" y1="17.25" x2="278.30" y2="17.25" stroke="#000" stroke-width="1"/>
<text x="272.50" y="19.65" font-size="8.2" text-anchor="end" fill="#000" stroke="#000" stroke-width="0.08">10<tspan font-size="5.00" dy="-3.10" dx="0.7">9</tspan></text>
<line x1="278.30" y1="112.30" x2="401.00" y2="112.30" stroke="#000" stroke-width="1.2"/>
<line x1="278.30" y1="112.30" x2="278.30" y2="115.20" stroke="#000" stroke-width="1"/>
<text x="278.30" y="125.60" font-size="8.0" text-anchor="middle" fill="#000" stroke="#000" stroke-width="0.08">0</text>
<line x1="318.43" y1="112.30" x2="318.43" y2="115.20" stroke="#000" stroke-width="1"/>
<text x="318.43" y="125.60" font-size="8.0" text-anchor="middle" fill="#000" stroke="#000" stroke-width="0.08">10</text>
<line x1="358.56" y1="112.30" x2="358.56" y2="115.20" stroke="#000" stroke-width="1"/>
<text x="358.56" y="125.60" font-size="8.0" text-anchor="middle" fill="#000" stroke="#000" stroke-width="0.08">20</text>
<line x1="398.69" y1="112.30" x2="398.69" y2="115.20" stroke="#000" stroke-width="1"/>
<text x="398.69" y="125.60" font-size="8.0" text-anchor="middle" fill="#000" stroke="#000" stroke-width="0.08">30</text>
<text x="339.50" y="137.80" font-size="9.2" text-anchor="middle" fill="#000" stroke="#000" stroke-width="0.3" textLength="53.5" lengthAdjust="spacingAndGlyphs">Time (days in EM)</text>
<text x="0" y="0" font-size="9.3" text-anchor="middle" fill="#000" stroke="#000" stroke-width="0.3" textLength="76.5" lengthAdjust="spacingAndGlyphs" transform="translate(254.90,63.30) rotate(-90)">Cell number (fold change)</text>
<line x1="310.40" y1="78.10" x2="310.40" y2="75.10" stroke="#111" stroke-width="0.8"/>
<line x1="308.80" y1="75.10" x2="312.00" y2="75.10" stroke="#111" stroke-width="0.8"/>
<line x1="314.42" y1="73.90" x2="314.42" y2="70.90" stroke="#111" stroke-width="0.8"/>
<line x1="312.82" y1="70.90" x2="316.02" y2="70.90" stroke="#111" stroke-width="0.8"/>
<line x1="318.43" y1="69.20" x2="318.43" y2="66.20" stroke="#111" stroke-width="0.8"/>
<line x1="316.83" y1="66.20" x2="320.03" y2="66.20" stroke="#111" stroke-width="0.8"/>
<line x1="326.46" y1="61.40" x2="326.46" y2="58.40" stroke="#111" stroke-width="0.8"/>
<line x1="324.86" y1="58.40" x2="328.06" y2="58.40" stroke="#111" stroke-width="0.8"/>
<line x1="330.47" y1="56.10" x2="330.47" y2="53.10" stroke="#111" stroke-width="0.8"/>
<line x1="328.87" y1="53.10" x2="332.07" y2="53.10" stroke="#111" stroke-width="0.8"/>
<line x1="334.48" y1="54.40" x2="334.48" y2="51.40" stroke="#111" stroke-width="0.8"/>
<line x1="332.88" y1="51.40" x2="336.08" y2="51.40" stroke="#111" stroke-width="0.8"/>
<line x1="338.50" y1="51.90" x2="338.50" y2="48.90" stroke="#111" stroke-width="0.8"/>
<line x1="336.89" y1="48.90" x2="340.10" y2="48.90" stroke="#111" stroke-width="0.8"/>
<line x1="342.51" y1="48.10" x2="342.51" y2="45.10" stroke="#111" stroke-width="0.8"/>
<line x1="340.91" y1="45.10" x2="344.11" y2="45.10" stroke="#111" stroke-width="0.8"/>
<line x1="354.55" y1="39.60" x2="354.55" y2="36.60" stroke="#111" stroke-width="0.8"/>
<line x1="352.95" y1="36.60" x2="356.15" y2="36.60" stroke="#111" stroke-width="0.8"/>
<line x1="358.56" y1="37.90" x2="358.56" y2="34.90" stroke="#111" stroke-width="0.8"/>
<line x1="356.96" y1="34.90" x2="360.16" y2="34.90" stroke="#111" stroke-width="0.8"/>
<line x1="362.57" y1="37.10" x2="362.57" y2="34.10" stroke="#111" stroke-width="0.8"/>
<line x1="360.97" y1="34.10" x2="364.17" y2="34.10" stroke="#111" stroke-width="0.8"/>
<line x1="366.59" y1="35.00" x2="366.59" y2="32.00" stroke="#111" stroke-width="0.8"/>
<line x1="364.99" y1="32.00" x2="368.19" y2="32.00" stroke="#111" stroke-width="0.8"/>
<line x1="370.60" y1="33.70" x2="370.60" y2="30.70" stroke="#111" stroke-width="0.8"/>
<line x1="369.00" y1="30.70" x2="372.20" y2="30.70" stroke="#111" stroke-width="0.8"/>
<line x1="382.64" y1="30.50" x2="382.64" y2="27.50" stroke="#111" stroke-width="0.8"/>
<line x1="381.04" y1="27.50" x2="384.24" y2="27.50" stroke="#111" stroke-width="0.8"/>
<line x1="382.64" y1="40.30" x2="382.64" y2="37.80" stroke="#111" stroke-width="0.8"/>
<line x1="381.04" y1="37.80" x2="384.24" y2="37.80" stroke="#111" stroke-width="0.8"/>
<path d="M278.30,102.75 L302.38,86.20 L306.39,83.40 L310.40,79.80 L314.42,75.00 L318.43,70.90 L326.46,66.10 L330.47,61.80 L334.48,60.80 L338.50,60.80 L342.51,58.20 L354.55,49.80 L358.56,47.00 L362.57,45.50 L366.59,44.90 L370.60,44.30 L382.64,40.30" fill="none" stroke="#27488a" stroke-width="1.6"/>
<path d="M278.30,102.75 L302.38,86.20 L306.39,83.40 L310.40,78.10 L314.42,73.90 L318.43,69.20 L326.46,61.40 L330.47,56.10 L334.48,54.40 L338.50,51.90 L342.51,48.10 L354.55,39.60 L358.56,37.90 L362.57,37.10 L366.59,35.00 L370.60,33.70 L382.64,30.50" fill="none" stroke="#b5123a" stroke-width="1.6"/>
<circle cx="278.30" cy="102.75" r="1.80" fill="#fff" stroke="#27488a" stroke-width="1.15"/>
<circle cx="302.38" cy="86.20" r="1.80" fill="#fff" stroke="#27488a" stroke-width="1.15"/>
<circle cx="306.39" cy="83.40" r="1.80" fill="#fff" stroke="#27488a" stroke-width="1.15"/>
<circle cx="310.40" cy="79.80" r="1.80" fill="#fff" stroke="#27488a" stroke-width="1.15"/>
<circle cx="314.42" cy="75.00" r="1.80" fill="#fff" stroke="#27488a" stroke-width="1.15"/>
<circle cx="318.43" cy="70.90" r="1.80" fill="#fff" stroke="#27488a" stroke-width="1.15"/>
<circle cx="326.46" cy="66.10" r="1.80" fill="#fff" stroke="#27488a" stroke-width="1.15"/>
<circle cx="330.47" cy="61.80" r="1.80" fill="#fff" stroke="#27488a" stroke-width="1.15"/>
<circle cx="334.48" cy="60.80" r="1.80" fill="#fff" stroke="#27488a" stroke-width="1.15"/>
<circle cx="338.50" cy="60.80" r="1.80" fill="#fff" stroke="#27488a" stroke-width="1.15"/>
<circle cx="342.51" cy="58.20" r="1.80" fill="#fff" stroke="#27488a" stroke-width="1.15"/>
<circle cx="354.55" cy="49.80" r="1.80" fill="#fff" stroke="#27488a" stroke-width="1.15"/>
<circle cx="358.56" cy="47.00" r="1.80" fill="#fff" stroke="#27488a" stroke-width="1.15"/>
<circle cx="362.57" cy="45.50" r="1.80" fill="#fff" stroke="#27488a" stroke-width="1.15"/>
<circle cx="366.59" cy="44.90" r="1.80" fill="#fff" stroke="#27488a" stroke-width="1.15"/>
<circle cx="370.60" cy="44.30" r="1.80" fill="#fff" stroke="#27488a" stroke-width="1.15"/>
<circle cx="382.64" cy="40.30" r="1.80" fill="#fff" stroke="#27488a" stroke-width="1.15"/>
<circle cx="278.30" cy="102.75" r="2.05" fill="#b5123a"/>
<circle cx="302.38" cy="86.20" r="2.05" fill="#b5123a"/>
<circle cx="306.39" cy="83.40" r="2.05" fill="#b5123a"/>
<circle cx="310.40" cy="78.10" r="2.05" fill="#b5123a"/>
<circle cx="314.42" cy="73.90" r="2.05" fill="#b5123a"/>
<circle cx="318.43" cy="69.20" r="2.05" fill="#b5123a"/>
<circle cx="326.46" cy="61.40" r="2.05" fill="#b5123a"/>
<circle cx="330.47" cy="56.10" r="2.05" fill="#b5123a"/>
<circle cx="334.48" cy="54.40" r="2.05" fill="#b5123a"/>
<circle cx="338.50" cy="51.90" r="2.05" fill="#b5123a"/>
<circle cx="342.51" cy="48.10" r="2.05" fill="#b5123a"/>
<circle cx="354.55" cy="39.60" r="2.05" fill="#b5123a"/>
<circle cx="358.56" cy="37.90" r="2.05" fill="#b5123a"/>
<circle cx="362.57" cy="37.10" r="2.05" fill="#b5123a"/>
<circle cx="366.59" cy="35.00" r="2.05" fill="#b5123a"/>
<circle cx="370.60" cy="33.70" r="2.05" fill="#b5123a"/>
<circle cx="382.64" cy="30.50" r="2.05" fill="#b5123a"/>
<text x="382.14" y="24.50" font-size="7" text-anchor="middle" fill="#000" stroke="#000" stroke-width="0.08">*</text>
<line x1="285.50" y1="16.60" x2="296.00" y2="16.60" stroke="#b5123a" stroke-width="1.3"/>
<circle cx="290.60" cy="16.60" r="2.05" fill="#b5123a"/>
<line x1="285.50" y1="25.60" x2="296.00" y2="25.60" stroke="#27488a" stroke-width="1.2"/>
<circle cx="290.60" cy="25.60" r="2.00" fill="#fff" stroke="#27488a" stroke-width="1.15"/>
<text x="298.90" y="19.20" font-size="7.7" fill="#000" stroke="#000" stroke-width="0.08" textLength="40.8" lengthAdjust="spacingAndGlyphs">Culture dish</text>
<text x="298.90" y="28.20" font-size="7.7" fill="#000" stroke="#000" stroke-width="0.08" textLength="21.3" lengthAdjust="spacingAndGlyphs">G-Rex</text>
<text x="6.60" y="158.80" font-size="11.2" font-weight="bold" fill="#000" stroke="#000" stroke-width="0.08">C</text>
<line x1="31.40" y1="155.00" x2="31.40" y2="527.30" stroke="#333" stroke-width="1"/>
<line x1="31.40" y1="527.30" x2="508.00" y2="527.30" stroke="#333" stroke-width="1"/>
<path d="M31.4,149.6 L34.6,157 L31.4,155.6 L28.2,157 Z" fill="#000"/>
<path d="M512.9,527.3 L505.4,524.4 L506.8,527.3 L505.4,530.2 Z" fill="#000"/>
<text x="0" y="0" font-size="7.5" text-anchor="middle" fill="#000" stroke="#000" stroke-width="0.1" textLength="15.5" lengthAdjust="spacingAndGlyphs" transform="translate(25.60,343.30) rotate(-90)">CD71</text>
<text x="31.80" y="538.30" font-size="7.5" fill="#000" stroke="#000" stroke-width="0.1" textLength="19.5" lengthAdjust="spacingAndGlyphs">CD235</text>
<g filter="url(#cf1)"><g transform="translate(58.10,201.50)"><g filter="url(#sb2)" opacity="0.3"><path d="M19,11.5 L50,9.5" fill="none" stroke="#000" stroke-width="15" stroke-linecap="round" stroke-linejoin="round"/></g><ellipse cx="19.2" cy="11.5" rx="8.5" ry="11.5" fill="url(#rp)" opacity="1" transform="rotate(0,19.2,11.5)"/><ellipse cx="48" cy="9" rx="11" ry="7.5" fill="url(#rg)" opacity="0.8" transform="rotate(0,48,9)"/><g filter="url(#sb2)" opacity="0.2"><path d="M26,10 L40,9.5" fill="none" stroke="#000" stroke-width="7" stroke-linecap="round" stroke-linejoin="round"/></g><ellipse cx="17.8" cy="23" rx="2.5" ry="3.5" fill="url(#rg)" opacity="0.35" transform="rotate(0,17.8,23)"/></g></g>
<rect x="58.10" y="201.50" width="68.50" height="67.90" fill="none" stroke="#000" stroke-width="1.25"/>
<line x1="96.67" y1="201.50" x2="96.67" y2="269.40" stroke="#000" stroke-width="1.2"/>
<line x1="58.10" y1="223.80" x2="126.60" y2="223.80" stroke="#000" stroke-width="1.2"/>
<line x1="96.67" y1="238.40" x2="126.60" y2="238.40" stroke="#000" stroke-width="1.3"/>
<line x1="97.37" y1="223.80" x2="97.37" y2="269.40" stroke="#000" stroke-width="0.8"/>
<text x="54.00" y="209.90" font-size="7.0" text-anchor="end" fill="#000" stroke="#000" stroke-width="0.08">10<tspan font-size="4.30" dy="-2.90" dx="0.3">5</tspan></text>
<text x="54.00" y="226.00" font-size="7.0" text-anchor="end" fill="#000" stroke="#000" stroke-width="0.08">10<tspan font-size="4.30" dy="-2.90" dx="0.3">4</tspan></text>
<text x="54.00" y="244.40" font-size="7.0" text-anchor="end" fill="#000" stroke="#000" stroke-width="0.08">10<tspan font-size="4.30" dy="-2.90" dx="0.3">3</tspan></text>
<text x="52.30" y="256.40" font-size="7.0" text-anchor="end" fill="#000" stroke="#000" stroke-width="0.08">0</text>
<text x="54.00" y="268.20" font-size="7.0" text-anchor="end" fill="#000" stroke="#000" stroke-width="0.08">-10<tspan font-size="4.3" dy="-2.9" dx="0.3">3</tspan></text>
<path d="M58.10,207.20h-2.6M58.10,223.30h-2.6M58.10,241.70h-2.6M58.10,253.70h-2.6M58.10,265.50h-2.6M58.10,236.16h-1.5M58.10,232.92h-1.5M58.10,230.62h-1.5M58.10,228.84h-1.5M58.10,227.38h-1.5M58.10,226.15h-1.5M58.10,225.08h-1.5M58.10,224.14h-1.5M58.10,218.45h-1.5M58.10,215.62h-1.5M58.10,213.61h-1.5M58.10,212.05h-1.5M58.10,210.77h-1.5M58.10,209.69h-1.5M58.10,208.76h-1.5M58.10,207.94h-1.5M58.10,244.70h-1.5M58.10,247.70h-1.5M58.10,250.70h-1.5M58.10,256.70h-1.5M58.10,259.70h-1.5M58.10,262.50h-1.5" stroke="#000" stroke-width="0.7" fill="none"/>
<rect x="56.10" y="252.10" width="2" height="3.2" fill="#000"/>
<text x="61.50" y="281.30" font-size="6.3" text-anchor="middle" fill="#000" stroke="#000" stroke-width="0.08">-10<tspan font-size="3.9" dy="-2.8">3</tspan></text>
<text x="73.40" y="281.30" font-size="6.3" text-anchor="middle" fill="#000" stroke="#000" stroke-width="0.08">0</text>
<text x="86.00" y="281.30" font-size="6.3" text-anchor="middle" fill="#000" stroke="#000" stroke-width="0.08">10<tspan font-size="3.90" dy="-2.80">3</tspan></text>
<text x="104.60" y="281.30" font-size="6.3" text-anchor="middle" fill="#000" stroke="#000" stroke-width="0.08">10<tspan font-size="3.90" dy="-2.80">4</tspan></text>
<text x="120.40" y="281.30" font-size="6.3" text-anchor="middle" fill="#000" stroke="#000" stroke-width="0.08">10<tspan font-size="3.90" dy="-2.80">5</tspan></text>
<path d="M61.50,269.40v2.6M73.40,269.40v2.6M86.00,269.40v2.6M104.30,269.40v2.6M120.10,269.40v2.6M91.51,269.40v1.5M94.73,269.40v1.5M97.02,269.40v1.5M98.79,269.40v1.5M100.24,269.40v1.5M101.47,269.40v1.5M102.53,269.40v1.5M103.46,269.40v1.5M109.06,269.40v1.5M111.84,269.40v1.5M113.81,269.40v1.5M115.34,269.40v1.5M116.59,269.40v1.5M117.65,269.40v1.5M118.57,269.40v1.5M119.38,269.40v1.5M64.60,269.40v1.5M67.60,269.40v1.5M70.60,269.40v1.5M76.30,269.40v1.5M79.30,269.40v1.5M82.50,269.40v1.5" stroke="#000" stroke-width="0.7" fill="none"/>
<rect x="71.70" y="269.40" width="3.2" height="1.8" fill="#000"/>
<text x="65.20" y="207.40" font-size="4.0" text-anchor="middle" fill="#111" stroke="#111" stroke-width="0.08">P1</text>
<text x="64.70" y="212.80" font-size="4.0" text-anchor="middle" fill="#111" stroke="#111" stroke-width="0.08">56,5</text>
<text x="120.90" y="207.40" font-size="4.0" text-anchor="middle" fill="#111" stroke="#111" stroke-width="0.08">P2</text>
<text x="120.60" y="212.80" font-size="4.0" text-anchor="middle" fill="#111" stroke="#111" stroke-width="0.08">29,5</text>
<text x="120.80" y="230.30" font-size="4.0" text-anchor="middle" fill="#111" stroke="#111" stroke-width="0.08">P3</text>
<text x="120.60" y="235.20" font-size="4.0" text-anchor="middle" fill="#111" stroke="#111" stroke-width="0.08">0,093</text>
<text x="120.80" y="260.80" font-size="4.0" text-anchor="middle" fill="#111" stroke="#111" stroke-width="0.08">P4</text>
<text x="120.80" y="265.90" font-size="4.0" text-anchor="middle" fill="#111" stroke="#111" stroke-width="0.08">0</text>
<text x="92.50" y="196.50" font-size="9.4" text-anchor="middle" fill="#000" stroke="#000" stroke-width="0.06" textLength="23.2" lengthAdjust="spacingAndGlyphs">Day 7</text>
<g filter="url(#cf2)"><g transform="translate(154.90,162.00)"><g filter="url(#sb2)" opacity="0.3"><path d="M20,13.5 L44,11.5" fill="none" stroke="#000" stroke-width="12" stroke-linecap="round" stroke-linejoin="round"/></g><ellipse cx="20.2" cy="13.4" rx="11" ry="7" fill="url(#rp)" opacity="0.95" transform="rotate(0,20.2,13.4)"/><ellipse cx="42.5" cy="11.1" rx="7" ry="9" fill="url(#rp)" opacity="1" transform="rotate(0,42.5,11.1)"/><ellipse cx="46.3" cy="25" rx="7" ry="4.5" fill="url(#rg)" opacity="0.3" transform="rotate(0,46.3,25)"/></g></g>
<rect x="154.90" y="162.00" width="68.50" height="67.90" fill="none" stroke="#000" stroke-width="1.25"/>
<line x1="193.47" y1="162.00" x2="193.47" y2="229.90" stroke="#000" stroke-width="1.2"/>
<line x1="154.90" y1="184.30" x2="223.40" y2="184.30" stroke="#000" stroke-width="1.2"/>
<line x1="193.47" y1="198.90" x2="223.40" y2="198.90" stroke="#000" stroke-width="1.3"/>
<line x1="194.17" y1="184.30" x2="194.17" y2="229.90" stroke="#000" stroke-width="0.8"/>
<text x="150.80" y="170.40" font-size="7.0" text-anchor="end" fill="#000" stroke="#000" stroke-width="0.08">10<tspan font-size="4.30" dy="-2.90" dx="0.3">5</tspan></text>
<text x="150.80" y="186.50" font-size="7.0" text-anchor="end" fill="#000" stroke="#000" stroke-width="0.08">10<tspan font-size="4.30" dy="-2.90" dx="0.3">4</tspan></text>
<text x="150.80" y="204.90" font-size="7.0" text-anchor="end" fill="#000" stroke="#000" stroke-width="0.08">10<tspan font-size="4.30" dy="-2.90" dx="0.3">3</tspan></text>
<text x="149.10" y="216.90" font-size="7.0" text-anchor="end" fill="#000" stroke="#000" stroke-width="0.08">0</text>
<text x="150.80" y="228.70" font-size="7.0" text-anchor="end" fill="#000" stroke="#000" stroke-width="0.08">-10<tspan font-size="4.3" dy="-2.9" dx="0.3">3</tspan></text>
<path d="M154.90,167.70h-2.6M154.90,183.80h-2.6M154.90,202.20h-2.6M154.90,214.20h-2.6M154.90,226.00h-2.6M154.90,196.66h-1.5M154.90,193.42h-1.5M154.90,191.12h-1.5M154.90,189.34h-1.5M154.90,187.88h-1.5M154.90,186.65h-1.5M154.90,185.58h-1.5M154.90,184.64h-1.5M154.90,178.95h-1.5M154.90,176.12h-1.5M154.90,174.11h-1.5M154.90,172.55h-1.5M154.90,171.27h-1.5M154.90,170.19h-1.5M154.90,169.26h-1.5M154.90,168.44h-1.5M154.90,205.20h-1.5M154.90,208.20h-1.5M154.90,211.20h-1.5M154.90,217.20h-1.5M154.90,220.20h-1.5M154.90,223.00h-1.5" stroke="#000" stroke-width="0.7" fill="none"/>
<rect x="152.90" y="212.60" width="2" height="3.2" fill="#000"/>
<text x="158.30" y="241.80" font-size="6.3" text-anchor="middle" fill="#000" stroke="#000" stroke-width="0.08">-10<tspan font-size="3.9" dy="-2.8">3</tspan></text>
<text x="170.20" y="241.80" font-size="6.3" text-anchor="middle" fill="#000" stroke="#000" stroke-width="0.08">0</text>
<text x="182.80" y="241.80" font-size="6.3" text-anchor="middle" fill="#000" stroke="#000" stroke-width="0.08">10<tspan font-size="3.90" dy="-2.80">3</tspan></text>
<text x="201.40" y="241.80" font-size="6.3" text-anchor="middle" fill="#000" stroke="#000" stroke-width="0.08">10<tspan font-size="3.90" dy="-2.80">4</tspan></text>
<text x="217.20" y="241.80" font-size="6.3" text-anchor="middle" fill="#000" stroke="#000" stroke-width="0.08">10<tspan font-size="3.90" dy="-2.80">5</tspan></text>
<path d="M158.30,229.90v2.6M170.20,229.90v2.6M182.80,229.90v2.6M201.10,229.90v2.6M216.90,229.90v2.6M188.31,229.90v1.5M191.53,229.90v1.5M193.82,229.90v1.5M195.59,229.90v1.5M197.04,229.90v1.5M198.27,229.90v1.5M199.33,229.90v1.5M200.26,229.90v1.5M205.86,229.90v1.5M208.64,229.90v1.5M210.61,229.90v1.5M212.14,229.90v1.5M213.39,229.90v1.5M214.45,229.90v1.5M215.37,229.90v1.5M216.18,229.90v1.5M161.40,229.90v1.5M164.40,229.90v1.5M167.40,229.90v1.5M173.10,229.90v1.5M176.10,229.90v1.5M179.30,229.90v1.5" stroke="#000" stroke-width="0.7" fill="none"/>
<rect x="168.50" y="229.90" width="3.2" height="1.8" fill="#000"/>
<text x="162.00" y="167.90" font-size="4.0" text-anchor="middle" fill="#111" stroke="#111" stroke-width="0.08">P1</text>
<text x="161.50" y="173.30" font-size="4.0" text-anchor="middle" fill="#111" stroke="#111" stroke-width="0.08">43,6</text>
<text x="217.70" y="167.90" font-size="4.0" text-anchor="middle" fill="#111" stroke="#111" stroke-width="0.08">P2</text>
<text x="217.40" y="173.30" font-size="4.0" text-anchor="middle" fill="#111" stroke="#111" stroke-width="0.08">47,5</text>
<text x="217.60" y="190.80" font-size="4.0" text-anchor="middle" fill="#111" stroke="#111" stroke-width="0.08">P3</text>
<text x="217.40" y="195.70" font-size="4.0" text-anchor="middle" fill="#111" stroke="#111" stroke-width="0.08">6,45</text>
<text x="217.60" y="221.30" font-size="4.0" text-anchor="middle" fill="#111" stroke="#111" stroke-width="0.08">P4</text>
<text x="217.60" y="226.40" font-size="4.0" text-anchor="middle" fill="#111" stroke="#111" stroke-width="0.08">0,31</text>
<text x="189.35" y="156.60" font-size="9.4" text-anchor="middle" fill="#000" stroke="#000" stroke-width="0.06" textLength="23.2" lengthAdjust="spacingAndGlyphs">Day 9</text>
<g filter="url(#cf3)"><g transform="translate(251.60,163.70)"><g filter="url(#sb2_5)" opacity="0.4"><path d="M22,9 C30,3 48,2 56,6 C61,10 61.5,18 61,28" fill="none" stroke="#000" stroke-width="12" stroke-linecap="round" stroke-linejoin="round"/></g><ellipse cx="35" cy="7.5" rx="15" ry="7" fill="url(#rg)" opacity="0.8" transform="rotate(0,35,7.5)"/><ellipse cx="21.5" cy="22" rx="3.5" ry="7" fill="url(#rg)" opacity="0.35" transform="rotate(0,21.5,22)"/><g filter="url(#sb2)" opacity="0.3"><path d="M60.5,24 L59.5,40" fill="none" stroke="#000" stroke-width="5" stroke-linecap="round" stroke-linejoin="round"/></g><ellipse cx="59.5" cy="40.5" rx="3.5" ry="5" fill="url(#rg)" opacity="0.35" transform="rotate(0,59.5,40.5)"/></g></g>
<rect x="251.60" y="163.70" width="68.50" height="67.90" fill="none" stroke="#000" stroke-width="1.25"/>
<line x1="290.17" y1="163.70" x2="290.17" y2="231.60" stroke="#000" stroke-width="1.2"/>
<line x1="251.60" y1="186.00" x2="320.10" y2="186.00" stroke="#000" stroke-width="1.2"/>
<line x1="290.17" y1="200.60" x2="320.10" y2="200.60" stroke="#000" stroke-width="1.3"/>
<line x1="290.87" y1="186.00" x2="290.87" y2="231.60" stroke="#000" stroke-width="0.8"/>
<text x="247.50" y="172.10" font-size="7.0" text-anchor="end" fill="#000" stroke="#000" stroke-width="0.08">10<tspan font-size="4.30" dy="-2.90" dx="0.3">5</tspan></text>
<text x="247.50" y="188.20" font-size="7.0" text-anchor="end" fill="#000" stroke="#000" stroke-width="0.08">10<tspan font-size="4.30" dy="-2.90" dx="0.3">4</tspan></text>
<text x="247.50" y="206.60" font-size="7.0" text-anchor="end" fill="#000" stroke="#000" stroke-width="0.08">10<tspan font-size="4.30" dy="-2.90" dx="0.3">3</tspan></text>
<text x="245.80" y="218.60" font-size="7.0" text-anchor="end" fill="#000" stroke="#000" stroke-width="0.08">0</text>
<text x="247.50" y="230.40" font-size="7.0" text-anchor="end" fill="#000" stroke="#000" stroke-width="0.08">-10<tspan font-size="4.3" dy="-2.9" dx="0.3">3</tspan></text>
<path d="M251.60,169.40h-2.6M251.60,185.50h-2.6M251.60,203.90h-2.6M251.60,215.90h-2.6M251.60,227.70h-2.6M251.60,198.36h-1.5M251.60,195.12h-1.5M251.60,192.82h-1.5M251.60,191.04h-1.5M251.60,189.58h-1.5M251.60,188.35h-1.5M251.60,187.28h-1.5M251.60,186.34h-1.5M251.60,180.65h-1.5M251.60,177.82h-1.5M251.60,175.81h-1.5M251.60,174.25h-1.5M251.60,172.97h-1.5M251.60,171.89h-1.5M251.60,170.96h-1.5M251.60,170.14h-1.5M251.60,206.90h-1.5M251.60,209.90h-1.5M251.60,212.90h-1.5M251.60,218.90h-1.5M251.60,221.90h-1.5M251.60,224.70h-1.5" stroke="#000" stroke-width="0.7" fill="none"/>
<rect x="249.60" y="214.30" width="2" height="3.2" fill="#000"/>
<text x="255.00" y="243.50" font-size="6.3" text-anchor="middle" fill="#000" stroke="#000" stroke-width="0.08">-10<tspan font-size="3.9" dy="-2.8">3</tspan></text>
<text x="266.90" y="243.50" font-size="6.3" text-anchor="middle" fill="#000" stroke="#000" stroke-width="0.08">0</text>
<text x="279.50" y="243.50" font-size="6.3" text-anchor="middle" fill="#000" stroke="#000" stroke-width="0.08">10<tspan font-size="3.90" dy="-2.80">3</tspan></text>
<text x="298.10" y="243.50" font-size="6.3" text-anchor="middle" fill="#000" stroke="#000" stroke-width="0.08">10<tspan font-size="3.90" dy="-2.80">4</tspan></text>
<text x="313.90" y="243.50" font-size="6.3" text-anchor="middle" fill="#000" stroke="#000" stroke-width="0.08">10<tspan font-size="3.90" dy="-2.80">5</tspan></text>
<path d="M255.00,231.60v2.6M266.90,231.60v2.6M279.50,231.60v2.6M297.80,231.60v2.6M313.60,231.60v2.6M285.01,231.60v1.5M288.23,231.60v1.5M290.52,231.60v1.5M292.29,231.60v1.5M293.74,231.60v1.5M294.97,231.60v1.5M296.03,231.60v1.5M296.96,231.60v1.5M302.56,231.60v1.5M305.34,231.60v1.5M307.31,231.60v1.5M308.84,231.60v1.5M310.09,231.60v1.5M311.15,231.60v1.5M312.07,231.60v1.5M312.88,231.60v1.5M258.10,231.60v1.5M261.10,231.60v1.5M264.10,231.60v1.5M269.80,231.60v1.5M272.80,231.60v1.5M276.00,231.60v1.5" stroke="#000" stroke-width="0.7" fill="none"/>
<rect x="265.20" y="231.60" width="3.2" height="1.8" fill="#000"/>
<text x="258.70" y="169.60" font-size="4.0" text-anchor="middle" fill="#111" stroke="#111" stroke-width="0.08">P1</text>
<text x="258.20" y="175.00" font-size="4.0" text-anchor="middle" fill="#111" stroke="#111" stroke-width="0.08">50,3</text>
<text x="314.40" y="169.60" font-size="4.0" text-anchor="middle" fill="#111" stroke="#111" stroke-width="0.08">P2</text>
<text x="314.10" y="175.00" font-size="4.0" text-anchor="middle" fill="#111" stroke="#111" stroke-width="0.08">38,1</text>
<text x="314.30" y="192.50" font-size="4.0" text-anchor="middle" fill="#111" stroke="#111" stroke-width="0.08">P3</text>
<text x="314.10" y="197.40" font-size="4.0" text-anchor="middle" fill="#111" stroke="#111" stroke-width="0.08">5,88</text>
<text x="314.30" y="223.00" font-size="4.0" text-anchor="middle" fill="#111" stroke="#111" stroke-width="0.08">P4</text>
<text x="314.30" y="228.10" font-size="4.0" text-anchor="middle" fill="#111" stroke="#111" stroke-width="0.08">2,25</text>
<text x="286.10" y="156.90" font-size="9.4" text-anchor="middle" fill="#000" stroke="#000" stroke-width="0.06" textLength="26.4" lengthAdjust="spacingAndGlyphs">Day12</text>
<g filter="url(#cf4)"><g transform="translate(348.20,164.50)"><g filter="url(#sb2_2)" opacity="0.36"><path d="M31,11 C36,6 42,3 50,4 C57,6 60,12 60,20 L59.5,46" fill="none" stroke="#000" stroke-width="7" stroke-linecap="round" stroke-linejoin="round"/></g><ellipse cx="48" cy="7" rx="13" ry="8.5" fill="url(#rg)" opacity="0.85" transform="rotate(0,48,7)"/><ellipse cx="59.3" cy="43.5" rx="5" ry="9" fill="url(#rp)" opacity="0.95" transform="rotate(0,59.3,43.5)"/></g></g>
<rect x="348.20" y="164.50" width="68.50" height="67.90" fill="none" stroke="#000" stroke-width="1.25"/>
<line x1="386.77" y1="164.50" x2="386.77" y2="232.40" stroke="#000" stroke-width="1.2"/>
<line x1="348.20" y1="186.80" x2="416.70" y2="186.80" stroke="#000" stroke-width="1.2"/>
<line x1="386.77" y1="201.40" x2="416.70" y2="201.40" stroke="#000" stroke-width="1.3"/>
<line x1="387.47" y1="186.80" x2="387.47" y2="232.40" stroke="#000" stroke-width="0.8"/>
<text x="344.10" y="172.90" font-size="7.0" text-anchor="end" fill="#000" stroke="#000" stroke-width="0.08">10<tspan font-size="4.30" dy="-2.90" dx="0.3">5</tspan></text>
<text x="344.10" y="189.00" font-size="7.0" text-anchor="end" fill="#000" stroke="#000" stroke-width="0.08">10<tspan font-size="4.30" dy="-2.90" dx="0.3">4</tspan></text>
<text x="344.10" y="207.40" font-size="7.0" text-anchor="end" fill="#000" stroke="#000" stroke-width="0.08">10<tspan font-size="4.30" dy="-2.90" dx="0.3">3</tspan></text>
<text x="342.40" y="219.40" font-size="7.0" text-anchor="end" fill="#000" stroke="#000" stroke-width="0.08">0</text>
<text x="344.10" y="231.20" font-size="7.0" text-anchor="end" fill="#000" stroke="#000" stroke-width="0.08">-10<tspan font-size="4.3" dy="-2.9" dx="0.3">3</tspan></text>
<path d="M348.20,170.20h-2.6M348.20,186.30h-2.6M348.20,204.70h-2.6M348.20,216.70h-2.6M348.20,228.50h-2.6M348.20,199.16h-1.5M348.20,195.92h-1.5M348.20,193.62h-1.5M348.20,191.84h-1.5M348.20,190.38h-1.5M348.20,189.15h-1.5M348.20,188.08h-1.5M348.20,187.14h-1.5M348.20,181.45h-1.5M348.20,178.62h-1.5M348.20,176.61h-1.5M348.20,175.05h-1.5M348.20,173.77h-1.5M348.20,172.69h-1.5M348.20,171.76h-1.5M348.20,170.94h-1.5M348.20,207.70h-1.5M348.20,210.70h-1.5M348.20,213.70h-1.5M348.20,219.70h-1.5M348.20,222.70h-1.5M348.20,225.50h-1.5" stroke="#000" stroke-width="0.7" fill="none"/>
<rect x="346.20" y="215.10" width="2" height="3.2" fill="#000"/>
<text x="351.60" y="244.30" font-size="6.3" text-anchor="middle" fill="#000" stroke="#000" stroke-width="0.08">-10<tspan font-size="3.9" dy="-2.8">3</tspan></text>
<text x="363.50" y="244.30" font-size="6.3" text-anchor="middle" fill="#000" stroke="#000" stroke-width="0.08">0</text>
<text x="376.10" y="244.30" font-size="6.3" text-anchor="middle" fill="#000" stroke="#000" stroke-width="0.08">10<tspan font-size="3.90" dy="-2.80">3</tspan></text>
<text x="394.70" y="244.30" font-size="6.3" text-anchor="middle" fill="#000" stroke="#000" stroke-width="0.08">10<tspan font-size="3.90" dy="-2.80">4</tspan></text>
<text x="410.50" y="244.30" font-size="6.3" text-anchor="middle" fill="#000" stroke="#000" stroke-width="0.08">10<tspan font-size="3.90" dy="-2.80">5</tspan></text>
<path d="M351.60,232.40v2.6M363.50,232.40v2.6M376.10,232.40v2.6M394.40,232.40v2.6M410.20,232.40v2.6M381.61,232.40v1.5M384.83,232.40v1.5M387.12,232.40v1.5M388.89,232.40v1.5M390.34,232.40v1.5M391.57,232.40v1.5M392.63,232.40v1.5M393.56,232.40v1.5M399.16,232.40v1.5M401.94,232.40v1.5M403.91,232.40v1.5M405.44,232.40v1.5M406.69,232.40v1.5M407.75,232.40v1.5M408.67,232.40v1.5M409.48,232.40v1.5M354.70,232.40v1.5M357.70,232.40v1.5M360.70,232.40v1.5M366.40,232.40v1.5M369.40,232.40v1.5M372.60,232.40v1.5" stroke="#000" stroke-width="0.7" fill="none"/>
<rect x="361.80" y="232.40" width="3.2" height="1.8" fill="#000"/>
<text x="355.30" y="170.40" font-size="4.0" text-anchor="middle" fill="#111" stroke="#111" stroke-width="0.08">P1</text>
<text x="354.80" y="175.80" font-size="4.0" text-anchor="middle" fill="#111" stroke="#111" stroke-width="0.08">10,1</text>
<text x="411.00" y="170.40" font-size="4.0" text-anchor="middle" fill="#111" stroke="#111" stroke-width="0.08">P2</text>
<text x="410.70" y="175.80" font-size="4.0" text-anchor="middle" fill="#111" stroke="#111" stroke-width="0.08">68,6</text>
<text x="410.90" y="193.30" font-size="4.0" text-anchor="middle" fill="#111" stroke="#111" stroke-width="0.08">P3</text>
<text x="410.70" y="198.20" font-size="4.0" text-anchor="middle" fill="#111" stroke="#111" stroke-width="0.08">8,15</text>
<text x="410.90" y="223.80" font-size="4.0" text-anchor="middle" fill="#111" stroke="#111" stroke-width="0.08">P4</text>
<text x="410.90" y="228.90" font-size="4.0" text-anchor="middle" fill="#111" stroke="#111" stroke-width="0.08">10,9</text>
<text x="382.50" y="158.80" font-size="9.4" text-anchor="middle" fill="#000" stroke="#000" stroke-width="0.06" textLength="26.4" lengthAdjust="spacingAndGlyphs">Day14</text>
<g filter="url(#cf5)"><g transform="translate(444.80,164.60)"><ellipse cx="50" cy="10" rx="14" ry="13" fill="url(#rg)" opacity="0.8" transform="rotate(0,50,10)"/><ellipse cx="46.5" cy="8.5" rx="8" ry="7" fill="url(#rp)" opacity="0.95" transform="rotate(0,46.5,8.5)"/><ellipse cx="36" cy="12" rx="9" ry="9" fill="url(#rg)" opacity="0.22" transform="rotate(0,36,12)"/><g filter="url(#sb2)" opacity="0.3"><path d="M57,17 L58,38" fill="none" stroke="#000" stroke-width="9" stroke-linecap="round" stroke-linejoin="round"/></g><ellipse cx="58" cy="46.5" rx="6.5" ry="9" fill="url(#rp)" opacity="1" transform="rotate(0,58,46.5)"/></g></g>
<rect x="444.80" y="164.60" width="68.50" height="67.90" fill="none" stroke="#000" stroke-width="1.25"/>
<line x1="483.37" y1="164.60" x2="483.37" y2="232.50" stroke="#000" stroke-width="1.2"/>
<line x1="444.80" y1="186.90" x2="513.30" y2="186.90" stroke="#000" stroke-width="1.2"/>
<line x1="483.37" y1="201.50" x2="513.30" y2="201.50" stroke="#000" stroke-width="1.3"/>
<line x1="484.07" y1="186.90" x2="484.07" y2="232.50" stroke="#000" stroke-width="0.8"/>
<text x="440.70" y="173.00" font-size="7.0" text-anchor="end" fill="#000" stroke="#000" stroke-width="0.08">10<tspan font-size="4.30" dy="-2.90" dx="0.3">5</tspan></text>
<text x="440.70" y="189.10" font-size="7.0" text-anchor="end" fill="#000" stroke="#000" stroke-width="0.08">10<tspan font-size="4.30" dy="-2.90" dx="0.3">4</tspan></text>
<text x="440.70" y="207.50" font-size="7.0" text-anchor="end" fill="#000" stroke="#000" stroke-width="0.08">10<tspan font-size="4.30" dy="-2.90" dx="0.3">3</tspan></text>
<text x="439.00" y="219.50" font-size="7.0" text-anchor="end" fill="#000" stroke="#000" stroke-width="0.08">0</text>
<text x="440.70" y="231.30" font-size="7.0" text-anchor="end" fill="#000" stroke="#000" stroke-width="0.08">-10<tspan font-size="4.3" dy="-2.9" dx="0.3">3</tspan></text>
<path d="M444.80,170.30h-2.6M444.80,186.40h-2.6M444.80,204.80h-2.6M444.80,216.80h-2.6M444.80,228.60h-2.6M444.80,199.26h-1.5M444.80,196.02h-1.5M444.80,193.72h-1.5M444.80,191.94h-1.5M444.80,190.48h-1.5M444.80,189.25h-1.5M444.80,188.18h-1.5M444.80,187.24h-1.5M444.80,181.55h-1.5M444.80,178.72h-1.5M444.80,176.71h-1.5M444.80,175.15h-1.5M444.80,173.87h-1.5M444.80,172.79h-1.5M444.80,171.86h-1.5M444.80,171.04h-1.5M444.80,207.80h-1.5M444.80,210.80h-1.5M444.80,213.80h-1.5M444.80,219.80h-1.5M444.80,222.80h-1.5M444.80,225.60h-1.5" stroke="#000" stroke-width="0.7" fill="none"/>
<rect x="442.80" y="215.20" width="2" height="3.2" fill="#000"/>
<text x="448.20" y="244.40" font-size="6.3" text-anchor="middle" fill="#000" stroke="#000" stroke-width="0.08">-10<tspan font-size="3.9" dy="-2.8">3</tspan></text>
<text x="460.10" y="244.40" font-size="6.3" text-anchor="middle" fill="#000" stroke="#000" stroke-width="0.08">0</text>
<text x="472.70" y="244.40" font-size="6.3" text-anchor="middle" fill="#000" stroke="#000" stroke-width="0.08">10<tspan font-size="3.90" dy="-2.80">3</tspan></text>
<text x="491.30" y="244.40" font-size="6.3" text-anchor="middle" fill="#000" stroke="#000" stroke-width="0.08">10<tspan font-size="3.90" dy="-2.80">4</tspan></text>
<text x="507.10" y="244.40" font-size="6.3" text-anchor="middle" fill="#000" stroke="#000" stroke-width="0.08">10<tspan font-size="3.90" dy="-2.80">5</tspan></text>
<path d="M448.20,232.50v2.6M460.10,232.50v2.6M472.70,232.50v2.6M491.00,232.50v2.6M506.80,232.50v2.6M478.21,232.50v1.5M481.43,232.50v1.5M483.72,232.50v1.5M485.49,232.50v1.5M486.94,232.50v1.5M488.17,232.50v1.5M489.23,232.50v1.5M490.16,232.50v1.5M495.76,232.50v1.5M498.54,232.50v1.5M500.51,232.50v1.5M502.04,232.50v1.5M503.29,232.50v1.5M504.35,232.50v1.5M505.27,232.50v1.5M506.08,232.50v1.5M451.30,232.50v1.5M454.30,232.50v1.5M457.30,232.50v1.5M463.00,232.50v1.5M466.00,232.50v1.5M469.20,232.50v1.5" stroke="#000" stroke-width="0.7" fill="none"/>
<rect x="458.40" y="232.50" width="3.2" height="1.8" fill="#000"/>
<text x="451.90" y="170.50" font-size="4.0" text-anchor="middle" fill="#111" stroke="#111" stroke-width="0.08">P1</text>
<text x="451.40" y="175.90" font-size="4.0" text-anchor="middle" fill="#111" stroke="#111" stroke-width="0.08">9,36</text>
<text x="507.60" y="170.50" font-size="4.0" text-anchor="middle" fill="#111" stroke="#111" stroke-width="0.08">P2</text>
<text x="507.30" y="175.90" font-size="4.0" text-anchor="middle" fill="#111" stroke="#111" stroke-width="0.08">65,2</text>
<text x="507.50" y="193.40" font-size="4.0" text-anchor="middle" fill="#111" stroke="#111" stroke-width="0.08">P3</text>
<text x="507.30" y="198.30" font-size="4.0" text-anchor="middle" fill="#111" stroke="#111" stroke-width="0.08">11,5</text>
<text x="507.50" y="223.90" font-size="4.0" text-anchor="middle" fill="#111" stroke="#111" stroke-width="0.08">P4</text>
<text x="507.50" y="229.00" font-size="4.0" text-anchor="middle" fill="#111" stroke="#111" stroke-width="0.08">12,0</text>
<text x="479.05" y="159.20" font-size="9.4" text-anchor="middle" fill="#000" stroke="#000" stroke-width="0.06" textLength="26.4" lengthAdjust="spacingAndGlyphs">Day16</text>
<g filter="url(#cf6)"><g transform="translate(154.90,250.00)"><g filter="url(#sb2)" opacity="0.32"><path d="M21,13.5 L45,11.5" fill="none" stroke="#000" stroke-width="13" stroke-linecap="round" stroke-linejoin="round"/></g><ellipse cx="19.5" cy="14.5" rx="8" ry="7.5" fill="url(#rp)" opacity="0.9" transform="rotate(0,19.5,14.5)"/><ellipse cx="46.2" cy="11.6" rx="7.5" ry="10" fill="url(#rp)" opacity="1" transform="rotate(0,46.2,11.6)"/><ellipse cx="19.5" cy="26.5" rx="5" ry="3.5" fill="url(#rg)" opacity="0.3" transform="rotate(0,19.5,26.5)"/><ellipse cx="49.4" cy="26" rx="6" ry="3.5" fill="url(#rg)" opacity="0.3" transform="rotate(0,49.4,26)"/><ellipse cx="16.7" cy="49.7" rx="1.8" ry="1.3" fill="url(#rg)" opacity="0.25" transform="rotate(0,16.7,49.7)"/></g></g>
<rect x="154.90" y="250.00" width="68.50" height="67.90" fill="none" stroke="#000" stroke-width="1.25"/>
<line x1="193.47" y1="250.00" x2="193.47" y2="317.90" stroke="#000" stroke-width="1.2"/>
<line x1="154.90" y1="272.30" x2="223.40" y2="272.30" stroke="#000" stroke-width="1.2"/>
<line x1="193.47" y1="286.90" x2="223.40" y2="286.90" stroke="#000" stroke-width="1.3"/>
<line x1="194.17" y1="272.30" x2="194.17" y2="317.90" stroke="#000" stroke-width="0.8"/>
<text x="150.80" y="258.40" font-size="7.0" text-anchor="end" fill="#000" stroke="#000" stroke-width="0.08">10<tspan font-size="4.30" dy="-2.90" dx="0.3">5</tspan></text>
<text x="150.80" y="274.50" font-size="7.0" text-anchor="end" fill="#000" stroke="#000" stroke-width="0.08">10<tspan font-size="4.30" dy="-2.90" dx="0.3">4</tspan></text>
<text x="150.80" y="292.90" font-size="7.0" text-anchor="end" fill="#000" stroke="#000" stroke-width="0.08">10<tspan font-size="4.30" dy="-2.90" dx="0.3">3</tspan></text>
<text x="149.10" y="304.90" font-size="7.0" text-anchor="end" fill="#000" stroke="#000" stroke-width="0.08">0</text>
<text x="150.80" y="316.70" font-size="7.0" text-anchor="end" fill="#000" stroke="#000" stroke-width="0.08">-10<tspan font-size="4.3" dy="-2.9" dx="0.3">3</tspan></text>
<path d="M154.90,255.70h-2.6M154.90,271.80h-2.6M154.90,290.20h-2.6M154.90,302.20h-2.6M154.90,314.00h-2.6M154.90,284.66h-1.5M154.90,281.42h-1.5M154.90,279.12h-1.5M154.90,277.34h-1.5M154.90,275.88h-1.5M154.90,274.65h-1.5M154.90,273.58h-1.5M154.90,272.64h-1.5M154.90,266.95h-1.5M154.90,264.12h-1.5M154.90,262.11h-1.5M154.90,260.55h-1.5M154.90,259.27h-1.5M154.90,258.19h-1.5M154.90,257.26h-1.5M154.90,256.44h-1.5M154.90,293.20h-1.5M154.90,296.20h-1.5M154.90,299.20h-1.5M154.90,305.20h-1.5M154.90,308.20h-1.5M154.90,311.00h-1.5" stroke="#000" stroke-width="0.7" fill="none"/>
<rect x="152.90" y="300.60" width="2" height="3.2" fill="#000"/>
<text x="158.30" y="329.80" font-size="6.3" text-anchor="middle" fill="#000" stroke="#000" stroke-width="0.08">-10<tspan font-size="3.9" dy="-2.8">3</tspan></text>
<text x="170.20" y="329.80" font-size="6.3" text-anchor="middle" fill="#000" stroke="#000" stroke-width="0.08">0</text>
<text x="182.80" y="329.80" font-size="6.3" text-anchor="middle" fill="#000" stroke="#000" stroke-width="0.08">10<tspan font-size="3.90" dy="-2.80">3</tspan></text>
<text x="201.40" y="329.80" font-size="6.3" text-anchor="middle" fill="#000" stroke="#000" stroke-width="0.08">10<tspan font-size="3.90" dy="-2.80">4</tspan></text>
<text x="217.20" y="329.80" font-size="6.3" text-anchor="middle" fill="#000" stroke="#000" stroke-width="0.08">10<tspan font-size="3.90" dy="-2.80">5</tspan></text>
<path d="M158.30,317.90v2.6M170.20,317.90v2.6M182.80,317.90v2.6M201.10,317.90v2.6M216.90,317.90v2.6M188.31,317.90v1.5M191.53,317.90v1.5M193.82,317.90v1.5M195.59,317.90v1.5M197.04,317.90v1.5M198.27,317.90v1.5M199.33,317.90v1.5M200.26,317.90v1.5M205.86,317.90v1.5M208.64,317.90v1.5M210.61,317.90v1.5M212.14,317.90v1.5M213.39,317.90v1.5M214.45,317.90v1.5M215.37,317.90v1.5M216.18,317.90v1.5M161.40,317.90v1.5M164.40,317.90v1.5M167.40,317.90v1.5M173.10,317.90v1.5M176.10,317.90v1.5M179.30,317.90v1.5" stroke="#000" stroke-width="0.7" fill="none"/>
<rect x="168.50" y="317.90" width="3.2" height="1.8" fill="#000"/>
<text x="162.00" y="255.90" font-size="4.0" text-anchor="middle" fill="#111" stroke="#111" stroke-width="0.08">P1</text>
<text x="161.50" y="261.30" font-size="4.0" text-anchor="middle" fill="#111" stroke="#111" stroke-width="0.08">43,6</text>
<text x="217.70" y="255.90" font-size="4.0" text-anchor="middle" fill="#111" stroke="#111" stroke-width="0.08">P2</text>
<text x="217.40" y="261.30" font-size="4.0" text-anchor="middle" fill="#111" stroke="#111" stroke-width="0.08">47,9</text>
<text x="217.60" y="278.80" font-size="4.0" text-anchor="middle" fill="#111" stroke="#111" stroke-width="0.08">P3</text>
<text x="217.40" y="283.70" font-size="4.0" text-anchor="middle" fill="#111" stroke="#111" stroke-width="0.08">2,94</text>
<text x="217.60" y="309.30" font-size="4.0" text-anchor="middle" fill="#111" stroke="#111" stroke-width="0.08">P4</text>
<text x="217.60" y="314.40" font-size="4.0" text-anchor="middle" fill="#111" stroke="#111" stroke-width="0.08">0,041</text>
<g filter="url(#cf7)"><g transform="translate(251.60,251.50)"><g filter="url(#sb2_4)" opacity="0.4"><path d="M21,31 C19,19 25,9 38,6 C49,4 56,7 59,13 C61,19 60.5,27 59.5,34" fill="none" stroke="#000" stroke-width="8.5" stroke-linecap="round" stroke-linejoin="round"/></g><ellipse cx="21" cy="24" rx="6" ry="12" fill="url(#rg)" opacity="0.45" transform="rotate(0,21,24)"/><ellipse cx="38" cy="6.5" rx="12" ry="5" fill="url(#rg)" opacity="0.7" transform="rotate(0,38,6.5)"/><ellipse cx="59.4" cy="40.6" rx="3.5" ry="4" fill="url(#rg)" opacity="0.35" transform="rotate(0,59.4,40.6)"/></g></g>
<rect x="251.60" y="251.50" width="68.50" height="67.90" fill="none" stroke="#000" stroke-width="1.25"/>
<line x1="290.17" y1="251.50" x2="290.17" y2="319.40" stroke="#000" stroke-width="1.2"/>
<line x1="251.60" y1="273.80" x2="320.10" y2="273.80" stroke="#000" stroke-width="1.2"/>
<line x1="290.17" y1="288.40" x2="320.10" y2="288.40" stroke="#000" stroke-width="1.3"/>
<line x1="290.87" y1="273.80" x2="290.87" y2="319.40" stroke="#000" stroke-width="0.8"/>
<text x="247.50" y="259.90" font-size="7.0" text-anchor="end" fill="#000" stroke="#000" stroke-width="0.08">10<tspan font-size="4.30" dy="-2.90" dx="0.3">5</tspan></text>
<text x="247.50" y="276.00" font-size="7.0" text-anchor="end" fill="#000" stroke="#000" stroke-width="0.08">10<tspan font-size="4.30" dy="-2.90" dx="0.3">4</tspan></text>
<text x="247.50" y="294.40" font-size="7.0" text-anchor="end" fill="#000" stroke="#000" stroke-width="0.08">10<tspan font-size="4.30" dy="-2.90" dx="0.3">3</tspan></text>
<text x="245.80" y="306.40" font-size="7.0" text-anchor="end" fill="#000" stroke="#000" stroke-width="0.08">0</text>
<text x="247.50" y="318.20" font-size="7.0" text-anchor="end" fill="#000" stroke="#000" stroke-width="0.08">-10<tspan font-size="4.3" dy="-2.9" dx="0.3">3</tspan></text>
<path d="M251.60,257.20h-2.6M251.60,273.30h-2.6M251.60,291.70h-2.6M251.60,303.70h-2.6M251.60,315.50h-2.6M251.60,286.16h-1.5M251.60,282.92h-1.5M251.60,280.62h-1.5M251.60,278.84h-1.5M251.60,277.38h-1.5M251.60,276.15h-1.5M251.60,275.08h-1.5M251.60,274.14h-1.5M251.60,268.45h-1.5M251.60,265.62h-1.5M251.60,263.61h-1.5M251.60,262.05h-1.5M251.60,260.77h-1.5M251.60,259.69h-1.5M251.60,258.76h-1.5M251.60,257.94h-1.5M251.60,294.70h-1.5M251.60,297.70h-1.5M251.60,300.70h-1.5M251.60,306.70h-1.5M251.60,309.70h-1.5M251.60,312.50h-1.5" stroke="#000" stroke-width="0.7" fill="none"/>
<rect x="249.60" y="302.10" width="2" height="3.2" fill="#000"/>
<text x="255.00" y="331.30" font-size="6.3" text-anchor="middle" fill="#000" stroke="#000" stroke-width="0.08">-10<tspan font-size="3.9" dy="-2.8">3</tspan></text>
<text x="266.90" y="331.30" font-size="6.3" text-anchor="middle" fill="#000" stroke="#000" stroke-width="0.08">0</text>
<text x="279.50" y="331.30" font-size="6.3" text-anchor="middle" fill="#000" stroke="#000" stroke-width="0.08">10<tspan font-size="3.90" dy="-2.80">3</tspan></text>
<text x="298.10" y="331.30" font-size="6.3" text-anchor="middle" fill="#000" stroke="#000" stroke-width="0.08">10<tspan font-size="3.90" dy="-2.80">4</tspan></text>
<text x="313.90" y="331.30" font-size="6.3" text-anchor="middle" fill="#000" stroke="#000" stroke-width="0.08">10<tspan font-size="3.90" dy="-2.80">5</tspan></text>
<path d="M255.00,319.40v2.6M266.90,319.40v2.6M279.50,319.40v2.6M297.80,319.40v2.6M313.60,319.40v2.6M285.01,319.40v1.5M288.23,319.40v1.5M290.52,319.40v1.5M292.29,319.40v1.5M293.74,319.40v1.5M294.97,319.40v1.5M296.03,319.40v1.5M296.96,319.40v1.5M302.56,319.40v1.5M305.34,319.40v1.5M307.31,319.40v1.5M308.84,319.40v1.5M310.09,319.40v1.5M311.15,319.40v1.5M312.07,319.40v1.5M312.88,319.40v1.5M258.10,319.40v1.5M261.10,319.40v1.5M264.10,319.40v1.5M269.80,319.40v1.5M272.80,319.40v1.5M276.00,319.40v1.5" stroke="#000" stroke-width="0.7" fill="none"/>
<rect x="265.20" y="319.40" width="3.2" height="1.8" fill="#000"/>
<text x="258.70" y="257.40" font-size="4.0" text-anchor="middle" fill="#111" stroke="#111" stroke-width="0.08">P1</text>
<text x="258.20" y="262.80" font-size="4.0" text-anchor="middle" fill="#111" stroke="#111" stroke-width="0.08">34,1</text>
<text x="314.40" y="257.40" font-size="4.0" text-anchor="middle" fill="#111" stroke="#111" stroke-width="0.08">P2</text>
<text x="314.10" y="262.80" font-size="4.0" text-anchor="middle" fill="#111" stroke="#111" stroke-width="0.08">49,8</text>
<text x="314.30" y="280.30" font-size="4.0" text-anchor="middle" fill="#111" stroke="#111" stroke-width="0.08">P3</text>
<text x="314.10" y="285.20" font-size="4.0" text-anchor="middle" fill="#111" stroke="#111" stroke-width="0.08">8,75</text>
<text x="314.30" y="310.80" font-size="4.0" text-anchor="middle" fill="#111" stroke="#111" stroke-width="0.08">P4</text>
<text x="314.30" y="315.90" font-size="4.0" text-anchor="middle" fill="#111" stroke="#111" stroke-width="0.08">1,73</text>
<g filter="url(#cf8)"><g transform="translate(348.20,252.60)"><g filter="url(#sb2_2)" opacity="0.36"><path d="M20,36 C19,27 24,21 32,17 C40,12 47,11 51,16 C54,21 54,30 53.5,46" fill="none" stroke="#000" stroke-width="6.5" stroke-linecap="round" stroke-linejoin="round"/></g><ellipse cx="42.9" cy="13.7" rx="10" ry="8" fill="url(#rp)" opacity="0.95" transform="rotate(0,42.9,13.7)"/><ellipse cx="20.5" cy="29" rx="6" ry="11" fill="url(#rg)" opacity="0.4" transform="rotate(0,20.5,29)"/><ellipse cx="53.5" cy="44" rx="3" ry="6.5" fill="url(#rg)" opacity="0.5" transform="rotate(0,53.5,44)"/></g></g>
<rect x="348.20" y="252.60" width="68.50" height="67.90" fill="none" stroke="#000" stroke-width="1.25"/>
<line x1="386.77" y1="252.60" x2="386.77" y2="320.50" stroke="#000" stroke-width="1.2"/>
<line x1="348.20" y1="274.90" x2="416.70" y2="274.90" stroke="#000" stroke-width="1.2"/>
<line x1="386.77" y1="289.50" x2="416.70" y2="289.50" stroke="#000" stroke-width="1.3"/>
<line x1="387.47" y1="274.90" x2="387.47" y2="320.50" stroke="#000" stroke-width="0.8"/>
<text x="344.10" y="261.00" font-size="7.0" text-anchor="end" fill="#000" stroke="#000" stroke-width="0.08">10<tspan font-size="4.30" dy="-2.90" dx="0.3">5</tspan></text>
<text x="344.10" y="277.10" font-size="7.0" text-anchor="end" fill="#000" stroke="#000" stroke-width="0.08">10<tspan font-size="4.30" dy="-2.90" dx="0.3">4</tspan></text>
<text x="344.10" y="295.50" font-size="7.0" text-anchor="end" fill="#000" stroke="#000" stroke-width="0.08">10<tspan font-size="4.30" dy="-2.90" dx="0.3">3</tspan></text>
<text x="342.40" y="307.50" font-size="7.0" text-anchor="end" fill="#000" stroke="#000" stroke-width="0.08">0</text>
<text x="344.10" y="319.30" font-size="7.0" text-anchor="end" fill="#000" stroke="#000" stroke-width="0.08">-10<tspan font-size="4.3" dy="-2.9" dx="0.3">3</tspan></text>
<path d="M348.20,258.30h-2.6M348.20,274.40h-2.6M348.20,292.80h-2.6M348.20,304.80h-2.6M348.20,316.60h-2.6M348.20,287.26h-1.5M348.20,284.02h-1.5M348.20,281.72h-1.5M348.20,279.94h-1.5M348.20,278.48h-1.5M348.20,277.25h-1.5M348.20,276.18h-1.5M348.20,275.24h-1.5M348.20,269.55h-1.5M348.20,266.72h-1.5M348.20,264.71h-1.5M348.20,263.15h-1.5M348.20,261.87h-1.5M348.20,260.79h-1.5M348.20,259.86h-1.5M348.20,259.04h-1.5M348.20,295.80h-1.5M348.20,298.80h-1.5M348.20,301.80h-1.5M348.20,307.80h-1.5M348.20,310.80h-1.5M348.20,313.60h-1.5" stroke="#000" stroke-width="0.7" fill="none"/>
<rect x="346.20" y="303.20" width="2" height="3.2" fill="#000"/>
<text x="351.60" y="332.40" font-size="6.3" text-anchor="middle" fill="#000" stroke="#000" stroke-width="0.08">-10<tspan font-size="3.9" dy="-2.8">3</tspan></text>
<text x="363.50" y="332.40" font-size="6.3" text-anchor="middle" fill="#000" stroke="#000" stroke-width="0.08">0</text>
<text x="376.10" y="332.40" font-size="6.3" text-anchor="middle" fill="#000" stroke="#000" stroke-width="0.08">10<tspan font-size="3.90" dy="-2.80">3</tspan></text>
<text x="394.70" y="332.40" font-size="6.3" text-anchor="middle" fill="#000" stroke="#000" stroke-width="0.08">10<tspan font-size="3.90" dy="-2.80">4</tspan></text>
<text x="410.50" y="332.40" font-size="6.3" text-anchor="middle" fill="#000" stroke="#000" stroke-width="0.08">10<tspan font-size="3.90" dy="-2.80">5</tspan></text>
<path d="M351.60,320.50v2.6M363.50,320.50v2.6M376.10,320.50v2.6M394.40,320.50v2.6M410.20,320.50v2.6M381.61,320.50v1.5M384.83,320.50v1.5M387.12,320.50v1.5M388.89,320.50v1.5M390.34,320.50v1.5M391.57,320.50v1.5M392.63,320.50v1.5M393.56,320.50v1.5M399.16,320.50v1.5M401.94,320.50v1.5M403.91,320.50v1.5M405.44,320.50v1.5M406.69,320.50v1.5M407.75,320.50v1.5M408.67,320.50v1.5M409.48,320.50v1.5M354.70,320.50v1.5M357.70,320.50v1.5M360.70,320.50v1.5M366.40,320.50v1.5M369.40,320.50v1.5M372.60,320.50v1.5" stroke="#000" stroke-width="0.7" fill="none"/>
<rect x="361.80" y="320.50" width="3.2" height="1.8" fill="#000"/>
<text x="355.30" y="258.50" font-size="4.0" text-anchor="middle" fill="#111" stroke="#111" stroke-width="0.08">P1</text>
<text x="354.80" y="263.90" font-size="4.0" text-anchor="middle" fill="#111" stroke="#111" stroke-width="0.08">23,2</text>
<text x="411.00" y="258.50" font-size="4.0" text-anchor="middle" fill="#111" stroke="#111" stroke-width="0.08">P2</text>
<text x="410.70" y="263.90" font-size="4.0" text-anchor="middle" fill="#111" stroke="#111" stroke-width="0.08">45,3</text>
<text x="410.90" y="281.40" font-size="4.0" text-anchor="middle" fill="#111" stroke="#111" stroke-width="0.08">P3</text>
<text x="410.70" y="286.30" font-size="4.0" text-anchor="middle" fill="#111" stroke="#111" stroke-width="0.08">7,90</text>
<text x="410.90" y="311.90" font-size="4.0" text-anchor="middle" fill="#111" stroke="#111" stroke-width="0.08">P4</text>
<text x="410.90" y="317.00" font-size="4.0" text-anchor="middle" fill="#111" stroke="#111" stroke-width="0.08">5,44</text>
<g filter="url(#cf9)"><g transform="translate(444.80,252.60)"><ellipse cx="49" cy="9" rx="14" ry="11" fill="url(#rg)" opacity="0.85" transform="rotate(0,49,9)"/><ellipse cx="51" cy="4.5" rx="7" ry="5" fill="url(#rp)" opacity="0.95" transform="rotate(0,51,4.5)"/><g filter="url(#sb2_0)" opacity="0.4"><path d="M59,12 L59,45" fill="none" stroke="#000" stroke-width="6.5" stroke-linecap="round" stroke-linejoin="round"/></g><ellipse cx="59" cy="41" rx="3.8" ry="7" fill="url(#rg)" opacity="0.6" transform="rotate(0,59,41)"/><g filter="url(#sb1_4)" opacity="0.22"><path d="M40,4 C31,8 26,15 26,22" fill="none" stroke="#000" stroke-width="3" stroke-linecap="round" stroke-linejoin="round"/></g><ellipse cx="27" cy="28.7" rx="10" ry="3.8" fill="url(#rg)" opacity="0.22" transform="rotate(0,27,28.7)"/></g></g>
<rect x="444.80" y="252.60" width="68.50" height="67.90" fill="none" stroke="#000" stroke-width="1.25"/>
<line x1="483.37" y1="252.60" x2="483.37" y2="320.50" stroke="#000" stroke-width="1.2"/>
<line x1="444.80" y1="274.90" x2="513.30" y2="274.90" stroke="#000" stroke-width="1.2"/>
<line x1="483.37" y1="289.50" x2="513.30" y2="289.50" stroke="#000" stroke-width="1.3"/>
<line x1="484.07" y1="274.90" x2="484.07" y2="320.50" stroke="#000" stroke-width="0.8"/>
<text x="440.70" y="261.00" font-size="7.0" text-anchor="end" fill="#000" stroke="#000" stroke-width="0.08">10<tspan font-size="4.30" dy="-2.90" dx="0.3">5</tspan></text>
<text x="440.70" y="277.10" font-size="7.0" text-anchor="end" fill="#000" stroke="#000" stroke-width="0.08">10<tspan font-size="4.30" dy="-2.90" dx="0.3">4</tspan></text>
<text x="440.70" y="295.50" font-size="7.0" text-anchor="end" fill="#000" stroke="#000" stroke-width="0.08">10<tspan font-size="4.30" dy="-2.90" dx="0.3">3</tspan></text>
<text x="439.00" y="307.50" font-size="7.0" text-anchor="end" fill="#000" stroke="#000" stroke-width="0.08">0</text>
<text x="440.70" y="319.30" font-size="7.0" text-anchor="end" fill="#000" stroke="#000" stroke-width="0.08">-10<tspan font-size="4.3" dy="-2.9" dx="0.3">3</tspan></text>
<path d="M444.80,258.30h-2.6M444.80,274.40h-2.6M444.80,292.80h-2.6M444.80,304.80h-2.6M444.80,316.60h-2.6M444.80,287.26h-1.5M444.80,284.02h-1.5M444.80,281.72h-1.5M444.80,279.94h-1.5M444.80,278.48h-1.5M444.80,277.25h-1.5M444.80,276.18h-1.5M444.80,275.24h-1.5M444.80,269.55h-1.5M444.80,266.72h-1.5M444.80,264.71h-1.5M444.80,263.15h-1.5M444.80,261.87h-1.5M444.80,260.79h-1.5M444.80,259.86h-1.5M444.80,259.04h-1.5M444.80,295.80h-1.5M444.80,298.80h-1.5M444.80,301.80h-1.5M444.80,307.80h-1.5M444.80,310.80h-1.5M444.80,313.60h-1.5" stroke="#000" stroke-width="0.7" fill="none"/>
<rect x="442.80" y="303.20" width="2" height="3.2" fill="#000"/>
<text x="448.20" y="332.40" font-size="6.3" text-anchor="middle" fill="#000" stroke="#000" stroke-width="0.08">-10<tspan font-size="3.9" dy="-2.8">3</tspan></text>
<text x="460.10" y="332.40" font-size="6.3" text-anchor="middle" fill="#000" stroke="#000" stroke-width="0.08">0</text>
<text x="472.70" y="332.40" font-size="6.3" text-anchor="middle" fill="#000" stroke="#000" stroke-width="0.08">10<tspan font-size="3.90" dy="-2.80">3</tspan></text>
<text x="491.30" y="332.40" font-size="6.3" text-anchor="middle" fill="#000" stroke="#000" stroke-width="0.08">10<tspan font-size="3.90" dy="-2.80">4</tspan></text>
<text x="507.10" y="332.40" font-size="6.3" text-anchor="middle" fill="#000" stroke="#000" stroke-width="0.08">10<tspan font-size="3.90" dy="-2.80">5</tspan></text>
<path d="M448.20,320.50v2.6M460.10,320.50v2.6M472.70,320.50v2.6M491.00,320.50v2.6M506.80,320.50v2.6M478.21,320.50v1.5M481.43,320.50v1.5M483.72,320.50v1.5M485.49,320.50v1.5M486.94,320.50v1.5M488.17,320.50v1.5M489.23,320.50v1.5M490.16,320.50v1.5M495.76,320.50v1.5M498.54,320.50v1.5M500.51,320.50v1.5M502.04,320.50v1.5M503.29,320.50v1.5M504.35,320.50v1.5M505.27,320.50v1.5M506.08,320.50v1.5M451.30,320.50v1.5M454.30,320.50v1.5M457.30,320.50v1.5M463.00,320.50v1.5M466.00,320.50v1.5M469.20,320.50v1.5" stroke="#000" stroke-width="0.7" fill="none"/>
<rect x="458.40" y="320.50" width="3.2" height="1.8" fill="#000"/>
<text x="451.90" y="258.50" font-size="4.0" text-anchor="middle" fill="#111" stroke="#111" stroke-width="0.08">P1</text>
<text x="451.40" y="263.90" font-size="4.0" text-anchor="middle" fill="#111" stroke="#111" stroke-width="0.08">14,7</text>
<text x="507.60" y="258.50" font-size="4.0" text-anchor="middle" fill="#111" stroke="#111" stroke-width="0.08">P2</text>
<text x="507.30" y="263.90" font-size="4.0" text-anchor="middle" fill="#111" stroke="#111" stroke-width="0.08">68,5</text>
<text x="507.50" y="281.40" font-size="4.0" text-anchor="middle" fill="#111" stroke="#111" stroke-width="0.08">P3</text>
<text x="507.30" y="286.30" font-size="4.0" text-anchor="middle" fill="#111" stroke="#111" stroke-width="0.08">6,29</text>
<text x="507.50" y="311.90" font-size="4.0" text-anchor="middle" fill="#111" stroke="#111" stroke-width="0.08">P4</text>
<text x="507.50" y="317.00" font-size="4.0" text-anchor="middle" fill="#111" stroke="#111" stroke-width="0.08">3,97</text>
<g filter="url(#cf10)"><g transform="translate(154.90,351.10)"><g filter="url(#sb2_1)" opacity="0.5"><path d="M42,5 C48,3 55,3 57,8 L57.5,43" fill="none" stroke="#000" stroke-width="11" stroke-linecap="round" stroke-linejoin="round"/></g><ellipse cx="48" cy="5" rx="9" ry="5" fill="url(#rg)" opacity="0.6" transform="rotate(0,48,5)"/><ellipse cx="57.3" cy="29" rx="7.2" ry="21.5" fill="url(#rp)" opacity="0.85" transform="rotate(0,57.3,29)"/><g filter="url(#sb1_2)" opacity="0.12"><path d="M38,10 C32,16 24,24 18,30" fill="none" stroke="#000" stroke-width="3" stroke-linecap="round" stroke-linejoin="round"/></g><g filter="url(#sb1_2)" opacity="0.1"><path d="M28,5 C32,6 36,7 39,9" fill="none" stroke="#000" stroke-width="2.5" stroke-linecap="round" stroke-linejoin="round"/></g></g></g>
<rect x="154.90" y="351.10" width="68.50" height="67.90" fill="none" stroke="#000" stroke-width="1.25"/>
<line x1="193.47" y1="351.10" x2="193.47" y2="419.00" stroke="#000" stroke-width="1.2"/>
<line x1="154.90" y1="373.40" x2="223.40" y2="373.40" stroke="#000" stroke-width="1.2"/>
<line x1="193.47" y1="388.00" x2="223.40" y2="388.00" stroke="#000" stroke-width="1.3"/>
<line x1="194.17" y1="373.40" x2="194.17" y2="419.00" stroke="#000" stroke-width="0.8"/>
<text x="150.80" y="359.50" font-size="7.0" text-anchor="end" fill="#000" stroke="#000" stroke-width="0.08">10<tspan font-size="4.30" dy="-2.90" dx="0.3">5</tspan></text>
<text x="150.80" y="375.60" font-size="7.0" text-anchor="end" fill="#000" stroke="#000" stroke-width="0.08">10<tspan font-size="4.30" dy="-2.90" dx="0.3">4</tspan></text>
<text x="150.80" y="394.00" font-size="7.0" text-anchor="end" fill="#000" stroke="#000" stroke-width="0.08">10<tspan font-size="4.30" dy="-2.90" dx="0.3">3</tspan></text>
<text x="149.10" y="406.00" font-size="7.0" text-anchor="end" fill="#000" stroke="#000" stroke-width="0.08">0</text>
<text x="150.80" y="417.80" font-size="7.0" text-anchor="end" fill="#000" stroke="#000" stroke-width="0.08">-10<tspan font-size="4.3" dy="-2.9" dx="0.3">3</tspan></text>
<path d="M154.90,356.80h-2.6M154.90,372.90h-2.6M154.90,391.30h-2.6M154.90,403.30h-2.6M154.90,415.10h-2.6M154.90,385.76h-1.5M154.90,382.52h-1.5M154.90,380.22h-1.5M154.90,378.44h-1.5M154.90,376.98h-1.5M154.90,375.75h-1.5M154.90,374.68h-1.5M154.90,373.74h-1.5M154.90,368.05h-1.5M154.90,365.22h-1.5M154.90,363.21h-1.5M154.90,361.65h-1.5M154.90,360.37h-1.5M154.90,359.29h-1.5M154.90,358.36h-1.5M154.90,357.54h-1.5M154.90,394.30h-1.5M154.90,397.30h-1.5M154.90,400.30h-1.5M154.90,406.30h-1.5M154.90,409.30h-1.5M154.90,412.10h-1.5" stroke="#000" stroke-width="0.7" fill="none"/>
<rect x="152.90" y="401.70" width="2" height="3.2" fill="#000"/>
<text x="158.30" y="430.90" font-size="6.3" text-anchor="middle" fill="#000" stroke="#000" stroke-width="0.08">-10<tspan font-size="3.9" dy="-2.8">3</tspan></text>
<text x="170.20" y="430.90" font-size="6.3" text-anchor="middle" fill="#000" stroke="#000" stroke-width="0.08">0</text>
<text x="182.80" y="430.90" font-size="6.3" text-anchor="middle" fill="#000" stroke="#000" stroke-width="0.08">10<tspan font-size="3.90" dy="-2.80">3</tspan></text>
<text x="201.40" y="430.90" font-size="6.3" text-anchor="middle" fill="#000" stroke="#000" stroke-width="0.08">10<tspan font-size="3.90" dy="-2.80">4</tspan></text>
<text x="217.20" y="430.90" font-size="6.3" text-anchor="middle" fill="#000" stroke="#000" stroke-width="0.08">10<tspan font-size="3.90" dy="-2.80">5</tspan></text>
<path d="M158.30,419.00v2.6M170.20,419.00v2.6M182.80,419.00v2.6M201.10,419.00v2.6M216.90,419.00v2.6M188.31,419.00v1.5M191.53,419.00v1.5M193.82,419.00v1.5M195.59,419.00v1.5M197.04,419.00v1.5M198.27,419.00v1.5M199.33,419.00v1.5M200.26,419.00v1.5M205.86,419.00v1.5M208.64,419.00v1.5M210.61,419.00v1.5M212.14,419.00v1.5M213.39,419.00v1.5M214.45,419.00v1.5M215.37,419.00v1.5M216.18,419.00v1.5M161.40,419.00v1.5M164.40,419.00v1.5M167.40,419.00v1.5M173.10,419.00v1.5M176.10,419.00v1.5M179.30,419.00v1.5" stroke="#000" stroke-width="0.7" fill="none"/>
<rect x="168.50" y="419.00" width="3.2" height="1.8" fill="#000"/>
<text x="162.00" y="357.00" font-size="4.0" text-anchor="middle" fill="#111" stroke="#111" stroke-width="0.08">P1</text>
<text x="161.50" y="362.40" font-size="4.0" text-anchor="middle" fill="#111" stroke="#111" stroke-width="0.08">7,85</text>
<text x="217.70" y="357.00" font-size="4.0" text-anchor="middle" fill="#111" stroke="#111" stroke-width="0.08">P2</text>
<text x="217.40" y="362.40" font-size="4.0" text-anchor="middle" fill="#111" stroke="#111" stroke-width="0.08">40,8</text>
<text x="217.60" y="379.90" font-size="4.0" text-anchor="middle" fill="#111" stroke="#111" stroke-width="0.08">P3</text>
<text x="217.40" y="384.80" font-size="4.0" text-anchor="middle" fill="#111" stroke="#111" stroke-width="0.08">25,1</text>
<text x="217.60" y="410.40" font-size="4.0" text-anchor="middle" fill="#111" stroke="#111" stroke-width="0.08">P4</text>
<text x="217.60" y="415.50" font-size="4.0" text-anchor="middle" fill="#111" stroke="#111" stroke-width="0.08">20,7</text>
<text x="189.60" y="345.10" font-size="9.4" text-anchor="middle" fill="#000" stroke="#000" stroke-width="0.06" textLength="26.4" lengthAdjust="spacingAndGlyphs">Day20</text>
<g filter="url(#cf11)"><g transform="translate(251.60,351.80)"><g filter="url(#sb2_3)" opacity="0.35"><path d="M47,3 C54,4 55,10 54,18 L56,46" fill="none" stroke="#000" stroke-width="9" stroke-linecap="round" stroke-linejoin="round"/></g><ellipse cx="54" cy="33" rx="10" ry="22" fill="url(#rg)" opacity="0.38" transform="rotate(0,54,33)"/><ellipse cx="57.8" cy="45" rx="8" ry="11.5" fill="url(#rp)" opacity="1" transform="rotate(0,57.8,45)"/></g></g>
<rect x="251.60" y="351.80" width="68.50" height="67.90" fill="none" stroke="#000" stroke-width="1.25"/>
<line x1="290.17" y1="351.80" x2="290.17" y2="419.70" stroke="#000" stroke-width="1.2"/>
<line x1="251.60" y1="374.10" x2="320.10" y2="374.10" stroke="#000" stroke-width="1.2"/>
<line x1="290.17" y1="388.70" x2="320.10" y2="388.70" stroke="#000" stroke-width="1.3"/>
<line x1="290.87" y1="374.10" x2="290.87" y2="419.70" stroke="#000" stroke-width="0.8"/>
<text x="247.50" y="360.20" font-size="7.0" text-anchor="end" fill="#000" stroke="#000" stroke-width="0.08">10<tspan font-size="4.30" dy="-2.90" dx="0.3">5</tspan></text>
<text x="247.50" y="376.30" font-size="7.0" text-anchor="end" fill="#000" stroke="#000" stroke-width="0.08">10<tspan font-size="4.30" dy="-2.90" dx="0.3">4</tspan></text>
<text x="247.50" y="394.70" font-size="7.0" text-anchor="end" fill="#000" stroke="#000" stroke-width="0.08">10<tspan font-size="4.30" dy="-2.90" dx="0.3">3</tspan></text>
<text x="245.80" y="406.70" font-size="7.0" text-anchor="end" fill="#000" stroke="#000" stroke-width="0.08">0</text>
<text x="247.50" y="418.50" font-size="7.0" text-anchor="end" fill="#000" stroke="#000" stroke-width="0.08">-10<tspan font-size="4.3" dy="-2.9" dx="0.3">3</tspan></text>
<path d="M251.60,357.50h-2.6M251.60,373.60h-2.6M251.60,392.00h-2.6M251.60,404.00h-2.6M251.60,415.80h-2.6M251.60,386.46h-1.5M251.60,383.22h-1.5M251.60,380.92h-1.5M251.60,379.14h-1.5M251.60,377.68h-1.5M251.60,376.45h-1.5M251.60,375.38h-1.5M251.60,374.44h-1.5M251.60,368.75h-1.5M251.60,365.92h-1.5M251.60,363.91h-1.5M251.60,362.35h-1.5M251.60,361.07h-1.5M251.60,359.99h-1.5M251.60,359.06h-1.5M251.60,358.24h-1.5M251.60,395.00h-1.5M251.60,398.00h-1.5M251.60,401.00h-1.5M251.60,407.00h-1.5M251.60,410.00h-1.5M251.60,412.80h-1.5" stroke="#000" stroke-width="0.7" fill="none"/>
<rect x="249.60" y="402.40" width="2" height="3.2" fill="#000"/>
<text x="255.00" y="431.60" font-size="6.3" text-anchor="middle" fill="#000" stroke="#000" stroke-width="0.08">-10<tspan font-size="3.9" dy="-2.8">3</tspan></text>
<text x="266.90" y="431.60" font-size="6.3" text-anchor="middle" fill="#000" stroke="#000" stroke-width="0.08">0</text>
<text x="279.50" y="431.60" font-size="6.3" text-anchor="middle" fill="#000" stroke="#000" stroke-width="0.08">10<tspan font-size="3.90" dy="-2.80">3</tspan></text>
<text x="298.10" y="431.60" font-size="6.3" text-anchor="middle" fill="#000" stroke="#000" stroke-width="0.08">10<tspan font-size="3.90" dy="-2.80">4</tspan></text>
<text x="313.90" y="431.60" font-size="6.3" text-anchor="middle" fill="#000" stroke="#000" stroke-width="0.08">10<tspan font-size="3.90" dy="-2.80">5</tspan></text>
<path d="M255.00,419.70v2.6M266.90,419.70v2.6M279.50,419.70v2.6M297.80,419.70v2.6M313.60,419.70v2.6M285.01,419.70v1.5M288.23,419.70v1.5M290.52,419.70v1.5M292.29,419.70v1.5M293.74,419.70v1.5M294.97,419.70v1.5M296.03,419.70v1.5M296.96,419.70v1.5M302.56,419.70v1.5M305.34,419.70v1.5M307.31,419.70v1.5M308.84,419.70v1.5M310.09,419.70v1.5M311.15,419.70v1.5M312.07,419.70v1.5M312.88,419.70v1.5M258.10,419.70v1.5M261.10,419.70v1.5M264.10,419.70v1.5M269.80,419.70v1.5M272.80,419.70v1.5M276.00,419.70v1.5" stroke="#000" stroke-width="0.7" fill="none"/>
<rect x="265.20" y="419.70" width="3.2" height="1.8" fill="#000"/>
<text x="258.70" y="357.70" font-size="4.0" text-anchor="middle" fill="#111" stroke="#111" stroke-width="0.08">P1</text>
<text x="258.20" y="363.10" font-size="4.0" text-anchor="middle" fill="#111" stroke="#111" stroke-width="0.08">0,62</text>
<text x="314.40" y="357.70" font-size="4.0" text-anchor="middle" fill="#111" stroke="#111" stroke-width="0.08">P2</text>
<text x="314.10" y="363.10" font-size="4.0" text-anchor="middle" fill="#111" stroke="#111" stroke-width="0.08">23,9</text>
<text x="314.30" y="380.60" font-size="4.0" text-anchor="middle" fill="#111" stroke="#111" stroke-width="0.08">P3</text>
<text x="314.10" y="385.50" font-size="4.0" text-anchor="middle" fill="#111" stroke="#111" stroke-width="0.08">30,3</text>
<text x="314.30" y="411.10" font-size="4.0" text-anchor="middle" fill="#111" stroke="#111" stroke-width="0.08">P4</text>
<text x="314.30" y="416.20" font-size="4.0" text-anchor="middle" fill="#111" stroke="#111" stroke-width="0.08">41,7</text>
<text x="286.05" y="346.60" font-size="9.4" text-anchor="middle" fill="#000" stroke="#000" stroke-width="0.06" textLength="26.4" lengthAdjust="spacingAndGlyphs">Day23</text>
<g filter="url(#cf12)"><g transform="translate(348.20,353.60)"><ellipse cx="53.5" cy="31" rx="12" ry="26" fill="url(#rg)" opacity="0.4" transform="rotate(0,53.5,31)"/><ellipse cx="55" cy="43" rx="11" ry="12" fill="url(#rp)" opacity="1" transform="rotate(0,55,43)"/><g filter="url(#sb2)" opacity="0.25"><path d="M51,3 C53,8 54,14 54,22" fill="none" stroke="#000" stroke-width="6" stroke-linecap="round" stroke-linejoin="round"/></g></g></g>
<rect x="348.20" y="353.60" width="68.50" height="67.90" fill="none" stroke="#000" stroke-width="1.25"/>
<line x1="386.77" y1="353.60" x2="386.77" y2="421.50" stroke="#000" stroke-width="1.2"/>
<line x1="348.20" y1="375.90" x2="416.70" y2="375.90" stroke="#000" stroke-width="1.2"/>
<line x1="386.77" y1="390.50" x2="416.70" y2="390.50" stroke="#000" stroke-width="1.3"/>
<line x1="387.47" y1="375.90" x2="387.47" y2="421.50" stroke="#000" stroke-width="0.8"/>
<text x="344.10" y="362.00" font-size="7.0" text-anchor="end" fill="#000" stroke="#000" stroke-width="0.08">10<tspan font-size="4.30" dy="-2.90" dx="0.3">5</tspan></text>
<text x="344.10" y="378.10" font-size="7.0" text-anchor="end" fill="#000" stroke="#000" stroke-width="0.08">10<tspan font-size="4.30" dy="-2.90" dx="0.3">4</tspan></text>
<text x="344.10" y="396.50" font-size="7.0" text-anchor="end" fill="#000" stroke="#000" stroke-width="0.08">10<tspan font-size="4.30" dy="-2.90" dx="0.3">3</tspan></text>
<text x="342.40" y="408.50" font-size="7.0" text-anchor="end" fill="#000" stroke="#000" stroke-width="0.08">0</text>
<text x="344.10" y="420.30" font-size="7.0" text-anchor="end" fill="#000" stroke="#000" stroke-width="0.08">-10<tspan font-size="4.3" dy="-2.9" dx="0.3">3</tspan></text>
<path d="M348.20,359.30h-2.6M348.20,375.40h-2.6M348.20,393.80h-2.6M348.20,405.80h-2.6M348.20,417.60h-2.6M348.20,388.26h-1.5M348.20,385.02h-1.5M348.20,382.72h-1.5M348.20,380.94h-1.5M348.20,379.48h-1.5M348.20,378.25h-1.5M348.20,377.18h-1.5M348.20,376.24h-1.5M348.20,370.55h-1.5M348.20,367.72h-1.5M348.20,365.71h-1.5M348.20,364.15h-1.5M348.20,362.87h-1.5M348.20,361.79h-1.5M348.20,360.86h-1.5M348.20,360.04h-1.5M348.20,396.80h-1.5M348.20,399.80h-1.5M348.20,402.80h-1.5M348.20,408.80h-1.5M348.20,411.80h-1.5M348.20,414.60h-1.5" stroke="#000" stroke-width="0.7" fill="none"/>
<rect x="346.20" y="404.20" width="2" height="3.2" fill="#000"/>
<text x="351.60" y="433.40" font-size="6.3" text-anchor="middle" fill="#000" stroke="#000" stroke-width="0.08">-10<tspan font-size="3.9" dy="-2.8">3</tspan></text>
<text x="363.50" y="433.40" font-size="6.3" text-anchor="middle" fill="#000" stroke="#000" stroke-width="0.08">0</text>
<text x="376.10" y="433.40" font-size="6.3" text-anchor="middle" fill="#000" stroke="#000" stroke-width="0.08">10<tspan font-size="3.90" dy="-2.80">3</tspan></text>
<text x="394.70" y="433.40" font-size="6.3" text-anchor="middle" fill="#000" stroke="#000" stroke-width="0.08">10<tspan font-size="3.90" dy="-2.80">4</tspan></text>
<text x="410.50" y="433.40" font-size="6.3" text-anchor="middle" fill="#000" stroke="#000" stroke-width="0.08">10<tspan font-size="3.90" dy="-2.80">5</tspan></text>
<path d="M351.60,421.50v2.6M363.50,421.50v2.6M376.10,421.50v2.6M394.40,421.50v2.6M410.20,421.50v2.6M381.61,421.50v1.5M384.83,421.50v1.5M387.12,421.50v1.5M388.89,421.50v1.5M390.34,421.50v1.5M391.57,421.50v1.5M392.63,421.50v1.5M393.56,421.50v1.5M399.16,421.50v1.5M401.94,421.50v1.5M403.91,421.50v1.5M405.44,421.50v1.5M406.69,421.50v1.5M407.75,421.50v1.5M408.67,421.50v1.5M409.48,421.50v1.5M354.70,421.50v1.5M357.70,421.50v1.5M360.70,421.50v1.5M366.40,421.50v1.5M369.40,421.50v1.5M372.60,421.50v1.5" stroke="#000" stroke-width="0.7" fill="none"/>
<rect x="361.80" y="421.50" width="3.2" height="1.8" fill="#000"/>
<text x="355.30" y="359.50" font-size="4.0" text-anchor="middle" fill="#111" stroke="#111" stroke-width="0.08">P1</text>
<text x="354.80" y="364.90" font-size="4.0" text-anchor="middle" fill="#111" stroke="#111" stroke-width="0.08">0,62</text>
<text x="411.00" y="359.50" font-size="4.0" text-anchor="middle" fill="#111" stroke="#111" stroke-width="0.08">P2</text>
<text x="410.70" y="364.90" font-size="4.0" text-anchor="middle" fill="#111" stroke="#111" stroke-width="0.08">17,6</text>
<text x="410.90" y="382.40" font-size="4.0" text-anchor="middle" fill="#111" stroke="#111" stroke-width="0.08">P3</text>
<text x="410.70" y="387.30" font-size="4.0" text-anchor="middle" fill="#111" stroke="#111" stroke-width="0.08">29,9</text>
<text x="410.90" y="412.90" font-size="4.0" text-anchor="middle" fill="#111" stroke="#111" stroke-width="0.08">P4</text>
<text x="410.90" y="418.00" font-size="4.0" text-anchor="middle" fill="#111" stroke="#111" stroke-width="0.08">40,3</text>
<text x="382.65" y="347.70" font-size="9.4" text-anchor="middle" fill="#000" stroke="#000" stroke-width="0.06" textLength="26.4" lengthAdjust="spacingAndGlyphs">Day26</text>
<g filter="url(#cf13)"><g transform="translate(154.90,439.40)"><ellipse cx="52" cy="9" rx="15" ry="12" fill="url(#rg)" opacity="0.72" transform="rotate(0,52,9)"/><ellipse cx="50.2" cy="3" rx="5" ry="3" fill="url(#rp)" opacity="0.9" transform="rotate(0,50.2,3)"/><g filter="url(#sb2_5)" opacity="0.22"><path d="M20,32 C27,24 34,14 42,6" fill="none" stroke="#000" stroke-width="10" stroke-linecap="round" stroke-linejoin="round"/></g><ellipse cx="22" cy="31" rx="10" ry="7" fill="url(#rg)" opacity="0.3" transform="rotate(-30,22,31)"/><ellipse cx="61" cy="40" rx="2" ry="3" fill="url(#rg)" opacity="0.3" transform="rotate(0,61,40)"/></g></g>
<rect x="154.90" y="439.40" width="68.50" height="67.90" fill="none" stroke="#000" stroke-width="1.25"/>
<line x1="193.47" y1="439.40" x2="193.47" y2="507.30" stroke="#000" stroke-width="1.2"/>
<line x1="154.90" y1="461.70" x2="223.40" y2="461.70" stroke="#000" stroke-width="1.2"/>
<line x1="193.47" y1="476.30" x2="223.40" y2="476.30" stroke="#000" stroke-width="1.3"/>
<line x1="194.17" y1="461.70" x2="194.17" y2="507.30" stroke="#000" stroke-width="0.8"/>
<text x="150.80" y="447.80" font-size="7.0" text-anchor="end" fill="#000" stroke="#000" stroke-width="0.08">10<tspan font-size="4.30" dy="-2.90" dx="0.3">5</tspan></text>
<text x="150.80" y="463.90" font-size="7.0" text-anchor="end" fill="#000" stroke="#000" stroke-width="0.08">10<tspan font-size="4.30" dy="-2.90" dx="0.3">4</tspan></text>
<text x="150.80" y="482.30" font-size="7.0" text-anchor="end" fill="#000" stroke="#000" stroke-width="0.08">10<tspan font-size="4.30" dy="-2.90" dx="0.3">3</tspan></text>
<text x="149.10" y="494.30" font-size="7.0" text-anchor="end" fill="#000" stroke="#000" stroke-width="0.08">0</text>
<text x="150.80" y="506.10" font-size="7.0" text-anchor="end" fill="#000" stroke="#000" stroke-width="0.08">-10<tspan font-size="4.3" dy="-2.9" dx="0.3">3</tspan></text>
<path d="M154.90,445.10h-2.6M154.90,461.20h-2.6M154.90,479.60h-2.6M154.90,491.60h-2.6M154.90,503.40h-2.6M154.90,474.06h-1.5M154.90,470.82h-1.5M154.90,468.52h-1.5M154.90,466.74h-1.5M154.90,465.28h-1.5M154.90,464.05h-1.5M154.90,462.98h-1.5M154.90,462.04h-1.5M154.90,456.35h-1.5M154.90,453.52h-1.5M154.90,451.51h-1.5M154.90,449.95h-1.5M154.90,448.67h-1.5M154.90,447.59h-1.5M154.90,446.66h-1.5M154.90,445.84h-1.5M154.90,482.60h-1.5M154.90,485.60h-1.5M154.90,488.60h-1.5M154.90,494.60h-1.5M154.90,497.60h-1.5M154.90,500.40h-1.5" stroke="#000" stroke-width="0.7" fill="none"/>
<rect x="152.90" y="490.00" width="2" height="3.2" fill="#000"/>
<text x="158.30" y="519.20" font-size="6.3" text-anchor="middle" fill="#000" stroke="#000" stroke-width="0.08">-10<tspan font-size="3.9" dy="-2.8">3</tspan></text>
<text x="170.20" y="519.20" font-size="6.3" text-anchor="middle" fill="#000" stroke="#000" stroke-width="0.08">0</text>
<text x="182.80" y="519.20" font-size="6.3" text-anchor="middle" fill="#000" stroke="#000" stroke-width="0.08">10<tspan font-size="3.90" dy="-2.80">3</tspan></text>
<text x="201.40" y="519.20" font-size="6.3" text-anchor="middle" fill="#000" stroke="#000" stroke-width="0.08">10<tspan font-size="3.90" dy="-2.80">4</tspan></text>
<text x="217.20" y="519.20" font-size="6.3" text-anchor="middle" fill="#000" stroke="#000" stroke-width="0.08">10<tspan font-size="3.90" dy="-2.80">5</tspan></text>
<path d="M158.30,507.30v2.6M170.20,507.30v2.6M182.80,507.30v2.6M201.10,507.30v2.6M216.90,507.30v2.6M188.31,507.30v1.5M191.53,507.30v1.5M193.82,507.30v1.5M195.59,507.30v1.5M197.04,507.30v1.5M198.27,507.30v1.5M199.33,507.30v1.5M200.26,507.30v1.5M205.86,507.30v1.5M208.64,507.30v1.5M210.61,507.30v1.5M212.14,507.30v1.5M213.39,507.30v1.5M214.45,507.30v1.5M215.37,507.30v1.5M216.18,507.30v1.5M161.40,507.30v1.5M164.40,507.30v1.5M167.40,507.30v1.5M173.10,507.30v1.5M176.10,507.30v1.5M179.30,507.30v1.5" stroke="#000" stroke-width="0.7" fill="none"/>
<rect x="168.50" y="507.30" width="3.2" height="1.8" fill="#000"/>
<text x="162.00" y="445.30" font-size="4.0" text-anchor="middle" fill="#111" stroke="#111" stroke-width="0.08">P1</text>
<text x="161.50" y="450.70" font-size="4.0" text-anchor="middle" fill="#111" stroke="#111" stroke-width="0.08">13,1</text>
<text x="217.70" y="445.30" font-size="4.0" text-anchor="middle" fill="#111" stroke="#111" stroke-width="0.08">P2</text>
<text x="217.40" y="450.70" font-size="4.0" text-anchor="middle" fill="#111" stroke="#111" stroke-width="0.08">63,1</text>
<text x="217.60" y="468.20" font-size="4.0" text-anchor="middle" fill="#111" stroke="#111" stroke-width="0.08">P3</text>
<text x="217.40" y="473.10" font-size="4.0" text-anchor="middle" fill="#111" stroke="#111" stroke-width="0.08">3,09</text>
<text x="217.60" y="498.70" font-size="4.0" text-anchor="middle" fill="#111" stroke="#111" stroke-width="0.08">P4</text>
<text x="217.60" y="503.80" font-size="4.0" text-anchor="middle" fill="#111" stroke="#111" stroke-width="0.08">1,80</text>
<g filter="url(#cf14)"><g transform="translate(251.60,439.80)"><ellipse cx="51" cy="13" rx="13" ry="13" fill="url(#rg)" opacity="0.8" transform="rotate(0,51,13)"/><ellipse cx="48.5" cy="15" rx="9" ry="10" fill="url(#rp)" opacity="0.92" transform="rotate(0,48.5,15)"/><ellipse cx="53" cy="37" rx="10" ry="17" fill="url(#rg)" opacity="0.45" transform="rotate(0,53,37)"/><g filter="url(#sb1_5)" opacity="0.18"><path d="M36,12 C33,20 29,28 26,33" fill="none" stroke="#000" stroke-width="4" stroke-linecap="round" stroke-linejoin="round"/></g></g></g>
<rect x="251.60" y="439.80" width="68.50" height="67.90" fill="none" stroke="#000" stroke-width="1.25"/>
<line x1="290.17" y1="439.80" x2="290.17" y2="507.70" stroke="#000" stroke-width="1.2"/>
<line x1="251.60" y1="462.10" x2="320.10" y2="462.10" stroke="#000" stroke-width="1.2"/>
<line x1="290.17" y1="476.70" x2="320.10" y2="476.70" stroke="#000" stroke-width="1.3"/>
<line x1="290.87" y1="462.10" x2="290.87" y2="507.70" stroke="#000" stroke-width="0.8"/>
<text x="247.50" y="448.20" font-size="7.0" text-anchor="end" fill="#000" stroke="#000" stroke-width="0.08">10<tspan font-size="4.30" dy="-2.90" dx="0.3">5</tspan></text>
<text x="247.50" y="464.30" font-size="7.0" text-anchor="end" fill="#000" stroke="#000" stroke-width="0.08">10<tspan font-size="4.30" dy="-2.90" dx="0.3">4</tspan></text>
<text x="247.50" y="482.70" font-size="7.0" text-anchor="end" fill="#000" stroke="#000" stroke-width="0.08">10<tspan font-size="4.30" dy="-2.90" dx="0.3">3</tspan></text>
<text x="245.80" y="494.70" font-size="7.0" text-anchor="end" fill="#000" stroke="#000" stroke-width="0.08">0</text>
<text x="247.50" y="506.50" font-size="7.0" text-anchor="end" fill="#000" stroke="#000" stroke-width="0.08">-10<tspan font-size="4.3" dy="-2.9" dx="0.3">3</tspan></text>
<path d="M251.60,445.50h-2.6M251.60,461.60h-2.6M251.60,480.00h-2.6M251.60,492.00h-2.6M251.60,503.80h-2.6M251.60,474.46h-1.5M251.60,471.22h-1.5M251.60,468.92h-1.5M251.60,467.14h-1.5M251.60,465.68h-1.5M251.60,464.45h-1.5M251.60,463.38h-1.5M251.60,462.44h-1.5M251.60,456.75h-1.5M251.60,453.92h-1.5M251.60,451.91h-1.5M251.60,450.35h-1.5M251.60,449.07h-1.5M251.60,447.99h-1.5M251.60,447.06h-1.5M251.60,446.24h-1.5M251.60,483.00h-1.5M251.60,486.00h-1.5M251.60,489.00h-1.5M251.60,495.00h-1.5M251.60,498.00h-1.5M251.60,500.80h-1.5" stroke="#000" stroke-width="0.7" fill="none"/>
<rect x="249.60" y="490.40" width="2" height="3.2" fill="#000"/>
<text x="255.00" y="519.60" font-size="6.3" text-anchor="middle" fill="#000" stroke="#000" stroke-width="0.08">-10<tspan font-size="3.9" dy="-2.8">3</tspan></text>
<text x="266.90" y="519.60" font-size="6.3" text-anchor="middle" fill="#000" stroke="#000" stroke-width="0.08">0</text>
<text x="279.50" y="519.60" font-size="6.3" text-anchor="middle" fill="#000" stroke="#000" stroke-width="0.08">10<tspan font-size="3.90" dy="-2.80">3</tspan></text>
<text x="298.10" y="519.60" font-size="6.3" text-anchor="middle" fill="#000" stroke="#000" stroke-width="0.08">10<tspan font-size="3.90" dy="-2.80">4</tspan></text>
<text x="313.90" y="519.60" font-size="6.3" text-anchor="middle" fill="#000" stroke="#000" stroke-width="0.08">10<tspan font-size="3.90" dy="-2.80">5</tspan></text>
<path d="M255.00,507.70v2.6M266.90,507.70v2.6M279.50,507.70v2.6M297.80,507.70v2.6M313.60,507.70v2.6M285.01,507.70v1.5M288.23,507.70v1.5M290.52,507.70v1.5M292.29,507.70v1.5M293.74,507.70v1.5M294.97,507.70v1.5M296.03,507.70v1.5M296.96,507.70v1.5M302.56,507.70v1.5M305.34,507.70v1.5M307.31,507.70v1.5M308.84,507.70v1.5M310.09,507.70v1.5M311.15,507.70v1.5M312.07,507.70v1.5M312.88,507.70v1.5M258.10,507.70v1.5M261.10,507.70v1.5M264.10,507.70v1.5M269.80,507.70v1.5M272.80,507.70v1.5M276.00,507.70v1.5" stroke="#000" stroke-width="0.7" fill="none"/>
<rect x="265.20" y="507.70" width="3.2" height="1.8" fill="#000"/>
<text x="258.70" y="445.70" font-size="4.0" text-anchor="middle" fill="#111" stroke="#111" stroke-width="0.08">P1</text>
<text x="258.20" y="451.10" font-size="4.0" text-anchor="middle" fill="#111" stroke="#111" stroke-width="0.08">3,51</text>
<text x="314.40" y="445.70" font-size="4.0" text-anchor="middle" fill="#111" stroke="#111" stroke-width="0.08">P2</text>
<text x="314.10" y="451.10" font-size="4.0" text-anchor="middle" fill="#111" stroke="#111" stroke-width="0.08">58,8</text>
<text x="314.30" y="468.60" font-size="4.0" text-anchor="middle" fill="#111" stroke="#111" stroke-width="0.08">P3</text>
<text x="314.10" y="473.50" font-size="4.0" text-anchor="middle" fill="#111" stroke="#111" stroke-width="0.08">21,9</text>
<text x="314.30" y="499.10" font-size="4.0" text-anchor="middle" fill="#111" stroke="#111" stroke-width="0.08">P4</text>
<text x="314.30" y="504.20" font-size="4.0" text-anchor="middle" fill="#111" stroke="#111" stroke-width="0.08">11,9</text>
<g filter="url(#cf15)"><g transform="translate(348.20,441.50)"><ellipse cx="51" cy="10" rx="14" ry="12" fill="url(#rg)" opacity="0.85" transform="rotate(0,51,10)"/><ellipse cx="50.3" cy="8" rx="7" ry="7" fill="url(#rp)" opacity="0.95" transform="rotate(0,50.3,8)"/><ellipse cx="46" cy="31" rx="18" ry="15" fill="url(#rg)" opacity="0.3" transform="rotate(0,46,31)"/><g filter="url(#sb1_5)" opacity="0.18"><path d="M34,30 C28,38 22,45 17,52" fill="none" stroke="#000" stroke-width="4" stroke-linecap="round" stroke-linejoin="round"/></g><ellipse cx="57" cy="38" rx="7" ry="8" fill="url(#rg)" opacity="0.3" transform="rotate(0,57,38)"/></g></g>
<rect x="348.20" y="441.50" width="68.50" height="67.90" fill="none" stroke="#000" stroke-width="1.25"/>
<line x1="386.77" y1="441.50" x2="386.77" y2="509.40" stroke="#000" stroke-width="1.2"/>
<line x1="348.20" y1="463.80" x2="416.70" y2="463.80" stroke="#000" stroke-width="1.2"/>
<line x1="386.77" y1="478.40" x2="416.70" y2="478.40" stroke="#000" stroke-width="1.3"/>
<line x1="387.47" y1="463.80" x2="387.47" y2="509.40" stroke="#000" stroke-width="0.8"/>
<text x="344.10" y="449.90" font-size="7.0" text-anchor="end" fill="#000" stroke="#000" stroke-width="0.08">10<tspan font-size="4.30" dy="-2.90" dx="0.3">5</tspan></text>
<text x="344.10" y="466.00" font-size="7.0" text-anchor="end" fill="#000" stroke="#000" stroke-width="0.08">10<tspan font-size="4.30" dy="-2.90" dx="0.3">4</tspan></text>
<text x="344.10" y="484.40" font-size="7.0" text-anchor="end" fill="#000" stroke="#000" stroke-width="0.08">10<tspan font-size="4.30" dy="-2.90" dx="0.3">3</tspan></text>
<text x="342.40" y="496.40" font-size="7.0" text-anchor="end" fill="#000" stroke="#000" stroke-width="0.08">0</text>
<text x="344.10" y="508.20" font-size="7.0" text-anchor="end" fill="#000" stroke="#000" stroke-width="0.08">-10<tspan font-size="4.3" dy="-2.9" dx="0.3">3</tspan></text>
<path d="M348.20,447.20h-2.6M348.20,463.30h-2.6M348.20,481.70h-2.6M348.20,493.70h-2.6M348.20,505.50h-2.6M348.20,476.16h-1.5M348.20,472.92h-1.5M348.20,470.62h-1.5M348.20,468.84h-1.5M348.20,467.38h-1.5M348.20,466.15h-1.5M348.20,465.08h-1.5M348.20,464.14h-1.5M348.20,458.45h-1.5M348.20,455.62h-1.5M348.20,453.61h-1.5M348.20,452.05h-1.5M348.20,450.77h-1.5M348.20,449.69h-1.5M348.20,448.76h-1.5M348.20,447.94h-1.5M348.20,484.70h-1.5M348.20,487.70h-1.5M348.20,490.70h-1.5M348.20,496.70h-1.5M348.20,499.70h-1.5M348.20,502.50h-1.5" stroke="#000" stroke-width="0.7" fill="none"/>
<rect x="346.20" y="492.10" width="2" height="3.2" fill="#000"/>
<text x="351.60" y="521.30" font-size="6.3" text-anchor="middle" fill="#000" stroke="#000" stroke-width="0.08">-10<tspan font-size="3.9" dy="-2.8">3</tspan></text>
<text x="363.50" y="521.30" font-size="6.3" text-anchor="middle" fill="#000" stroke="#000" stroke-width="0.08">0</text>
<text x="376.10" y="521.30" font-size="6.3" text-anchor="middle" fill="#000" stroke="#000" stroke-width="0.08">10<tspan font-size="3.90" dy="-2.80">3</tspan></text>
<text x="394.70" y="521.30" font-size="6.3" text-anchor="middle" fill="#000" stroke="#000" stroke-width="0.08">10<tspan font-size="3.90" dy="-2.80">4</tspan></text>
<text x="410.50" y="521.30" font-size="6.3" text-anchor="middle" fill="#000" stroke="#000" stroke-width="0.08">10<tspan font-size="3.90" dy="-2.80">5</tspan></text>
<path d="M351.60,509.40v2.6M363.50,509.40v2.6M376.10,509.40v2.6M394.40,509.40v2.6M410.20,509.40v2.6M381.61,509.40v1.5M384.83,509.40v1.5M387.12,509.40v1.5M388.89,509.40v1.5M390.34,509.40v1.5M391.57,509.40v1.5M392.63,509.40v1.5M393.56,509.40v1.5M399.16,509.40v1.5M401.94,509.40v1.5M403.91,509.40v1.5M405.44,509.40v1.5M406.69,509.40v1.5M407.75,509.40v1.5M408.67,509.40v1.5M409.48,509.40v1.5M354.70,509.40v1.5M357.70,509.40v1.5M360.70,509.40v1.5M366.40,509.40v1.5M369.40,509.40v1.5M372.60,509.40v1.5" stroke="#000" stroke-width="0.7" fill="none"/>
<rect x="361.80" y="509.40" width="3.2" height="1.8" fill="#000"/>
<text x="355.30" y="447.40" font-size="4.0" text-anchor="middle" fill="#111" stroke="#111" stroke-width="0.08">P1</text>
<text x="354.80" y="452.80" font-size="4.0" text-anchor="middle" fill="#111" stroke="#111" stroke-width="0.08">5,12</text>
<text x="411.00" y="447.40" font-size="4.0" text-anchor="middle" fill="#111" stroke="#111" stroke-width="0.08">P2</text>
<text x="410.70" y="452.80" font-size="4.0" text-anchor="middle" fill="#111" stroke="#111" stroke-width="0.08">67,9</text>
<text x="410.90" y="470.30" font-size="4.0" text-anchor="middle" fill="#111" stroke="#111" stroke-width="0.08">P3</text>
<text x="410.70" y="475.20" font-size="4.0" text-anchor="middle" fill="#111" stroke="#111" stroke-width="0.08">18,8</text>
<text x="410.90" y="500.80" font-size="4.0" text-anchor="middle" fill="#111" stroke="#111" stroke-width="0.08">P4</text>
<text x="410.90" y="505.90" font-size="4.0" text-anchor="middle" fill="#111" stroke="#111" stroke-width="0.08">5,53</text>
<text x="420.10" y="390.80" font-size="9.4" fill="#000" stroke="#000" stroke-width="0.08" textLength="49" lengthAdjust="spacingAndGlyphs">Culture dish</text>
<text x="420.10" y="478.90" font-size="9.4" fill="#000" stroke="#000" stroke-width="0.08" textLength="25.5" lengthAdjust="spacingAndGlyphs">G-Rex</text>
<text x="5.60" y="558.20" font-size="11.4" font-weight="bold" fill="#000" stroke="#000" stroke-width="0.08">D</text>
<text x="124.60" y="556.30" font-size="9.2" text-anchor="middle" fill="#000" stroke="#000" stroke-width="0.08" textLength="49" lengthAdjust="spacingAndGlyphs">Culture dish</text>
<rect x="56.10" y="625.28" width="11.40" height="34.82" fill="#a8102e" stroke="none" stroke-width="1"/>
<rect x="56.10" y="578.86" width="11.40" height="46.42" fill="#2c4f89" stroke="none" stroke-width="1"/>
<rect x="56.10" y="577.20" width="11.40" height="1.66" fill="#6aab45" stroke="none" stroke-width="1"/>
<text x="61.80" y="673.30" font-size="8.2" text-anchor="middle" fill="#000" stroke="#000" stroke-width="0.08">7</text>
<rect x="73.80" y="618.65" width="11.40" height="41.45" fill="#a8102e" stroke="none" stroke-width="1"/>
<rect x="73.80" y="581.35" width="11.40" height="37.30" fill="#2c4f89" stroke="none" stroke-width="1"/>
<rect x="73.80" y="577.20" width="11.40" height="4.14" fill="#6aab45" stroke="none" stroke-width="1"/>
<text x="79.50" y="673.30" font-size="8.2" text-anchor="middle" fill="#000" stroke="#000" stroke-width="0.08">9</text>
<rect x="91.50" y="619.48" width="11.40" height="40.62" fill="#a8102e" stroke="none" stroke-width="1"/>
<rect x="91.50" y="587.15" width="11.40" height="32.33" fill="#2c4f89" stroke="none" stroke-width="1"/>
<rect x="91.50" y="580.93" width="11.40" height="6.22" fill="#6aab45" stroke="none" stroke-width="1"/>
<rect x="91.50" y="577.20" width="11.40" height="3.73" fill="#50256f" stroke="none" stroke-width="1"/>
<text x="97.20" y="673.30" font-size="8.2" text-anchor="middle" fill="#000" stroke="#000" stroke-width="0.08">12</text>
<rect x="109.20" y="638.13" width="11.40" height="21.97" fill="#a8102e" stroke="none" stroke-width="1"/>
<rect x="109.20" y="592.12" width="11.40" height="46.01" fill="#2c4f89" stroke="none" stroke-width="1"/>
<rect x="109.20" y="583.00" width="11.40" height="9.12" fill="#6aab45" stroke="none" stroke-width="1"/>
<rect x="109.20" y="577.20" width="11.40" height="5.80" fill="#50256f" stroke="none" stroke-width="1"/>
<text x="114.90" y="673.30" font-size="8.2" text-anchor="middle" fill="#000" stroke="#000" stroke-width="0.08">14</text>
<rect x="126.90" y="649.07" width="11.40" height="11.03" fill="#a8102e" stroke="none" stroke-width="1"/>
<rect x="126.90" y="590.30" width="11.40" height="58.78" fill="#2c4f89" stroke="none" stroke-width="1"/>
<rect x="126.90" y="583.00" width="11.40" height="7.30" fill="#6aab45" stroke="none" stroke-width="1"/>
<rect x="126.90" y="577.20" width="11.40" height="5.80" fill="#50256f" stroke="none" stroke-width="1"/>
<text x="132.60" y="673.30" font-size="8.2" text-anchor="middle" fill="#000" stroke="#000" stroke-width="0.08">16</text>
<rect x="144.60" y="656.29" width="11.40" height="3.81" fill="#a8102e" stroke="none" stroke-width="1"/>
<rect x="144.60" y="616.16" width="11.40" height="40.12" fill="#2c4f89" stroke="none" stroke-width="1"/>
<rect x="144.60" y="598.34" width="11.40" height="17.82" fill="#6aab45" stroke="none" stroke-width="1"/>
<rect x="144.60" y="577.20" width="11.40" height="21.14" fill="#50256f" stroke="none" stroke-width="1"/>
<text x="150.30" y="673.30" font-size="8.2" text-anchor="middle" fill="#000" stroke="#000" stroke-width="0.08">20</text>
<rect x="162.30" y="656.87" width="11.40" height="3.23" fill="#a8102e" stroke="none" stroke-width="1"/>
<rect x="162.30" y="629.92" width="11.40" height="26.94" fill="#2c4f89" stroke="none" stroke-width="1"/>
<rect x="162.30" y="607.21" width="11.40" height="22.71" fill="#6aab45" stroke="none" stroke-width="1"/>
<rect x="162.30" y="577.20" width="11.40" height="30.01" fill="#50256f" stroke="none" stroke-width="1"/>
<text x="168.00" y="673.30" font-size="8.2" text-anchor="middle" fill="#000" stroke="#000" stroke-width="0.08">23</text>
<rect x="180.00" y="659.27" width="11.40" height="0.83" fill="#a8102e" stroke="none" stroke-width="1"/>
<rect x="180.00" y="638.55" width="11.40" height="20.72" fill="#2c4f89" stroke="none" stroke-width="1"/>
<rect x="180.00" y="610.36" width="11.40" height="28.19" fill="#6aab45" stroke="none" stroke-width="1"/>
<rect x="180.00" y="577.20" width="11.40" height="33.16" fill="#50256f" stroke="none" stroke-width="1"/>
<text x="185.70" y="673.30" font-size="8.2" text-anchor="middle" fill="#000" stroke="#000" stroke-width="0.08">26</text>
<line x1="61.80" y1="625.28" x2="61.80" y2="612.85" stroke="#111" stroke-width="1.0"/>
<line x1="59.20" y1="612.85" x2="64.40" y2="612.85" stroke="#111" stroke-width="1.0"/>
<line x1="61.80" y1="577.20" x2="61.80" y2="567.25" stroke="#111" stroke-width="1.0"/>
<line x1="59.20" y1="567.25" x2="64.40" y2="567.25" stroke="#111" stroke-width="1.0"/>
<line x1="61.80" y1="578.86" x2="61.80" y2="575.54" stroke="#111" stroke-width="1.0"/>
<line x1="59.20" y1="575.54" x2="64.40" y2="575.54" stroke="#111" stroke-width="1.0"/>
<line x1="79.50" y1="618.65" x2="79.50" y2="605.39" stroke="#111" stroke-width="1.0"/>
<line x1="76.90" y1="605.39" x2="82.10" y2="605.39" stroke="#111" stroke-width="1.0"/>
<line x1="79.50" y1="577.20" x2="79.50" y2="570.57" stroke="#111" stroke-width="1.0"/>
<line x1="76.90" y1="570.57" x2="82.10" y2="570.57" stroke="#111" stroke-width="1.0"/>
<line x1="79.50" y1="581.35" x2="79.50" y2="577.20" stroke="#111" stroke-width="1.0"/>
<line x1="76.90" y1="577.20" x2="82.10" y2="577.20" stroke="#111" stroke-width="1.0"/>
<line x1="97.20" y1="619.48" x2="97.20" y2="610.36" stroke="#111" stroke-width="1.0"/>
<line x1="94.60" y1="610.36" x2="99.80" y2="610.36" stroke="#111" stroke-width="1.0"/>
<line x1="97.20" y1="577.20" x2="97.20" y2="574.71" stroke="#111" stroke-width="1.0"/>
<line x1="94.60" y1="574.71" x2="99.80" y2="574.71" stroke="#111" stroke-width="1.0"/>
<line x1="97.20" y1="587.15" x2="97.20" y2="584.66" stroke="#111" stroke-width="1.0"/>
<line x1="94.60" y1="584.66" x2="99.80" y2="584.66" stroke="#111" stroke-width="1.0"/>
<line x1="114.90" y1="638.13" x2="114.90" y2="626.94" stroke="#111" stroke-width="1.0"/>
<line x1="112.30" y1="626.94" x2="117.50" y2="626.94" stroke="#111" stroke-width="1.0"/>
<line x1="114.90" y1="592.12" x2="114.90" y2="578.86" stroke="#111" stroke-width="1.0"/>
<line x1="112.30" y1="578.86" x2="117.50" y2="578.86" stroke="#111" stroke-width="1.0"/>
<line x1="114.90" y1="577.20" x2="114.90" y2="573.06" stroke="#111" stroke-width="1.0"/>
<line x1="112.30" y1="573.06" x2="117.50" y2="573.06" stroke="#111" stroke-width="1.0"/>
<line x1="132.60" y1="649.07" x2="132.60" y2="644.68" stroke="#111" stroke-width="1.0"/>
<line x1="130.00" y1="644.68" x2="135.20" y2="644.68" stroke="#111" stroke-width="1.0"/>
<line x1="132.60" y1="590.30" x2="132.60" y2="587.98" stroke="#111" stroke-width="1.0"/>
<line x1="130.00" y1="587.98" x2="135.20" y2="587.98" stroke="#111" stroke-width="1.0"/>
<line x1="132.60" y1="577.20" x2="132.60" y2="573.88" stroke="#111" stroke-width="1.0"/>
<line x1="130.00" y1="573.88" x2="135.20" y2="573.88" stroke="#111" stroke-width="1.0"/>
<line x1="150.30" y1="656.29" x2="150.30" y2="653.47" stroke="#111" stroke-width="1.0"/>
<line x1="147.70" y1="653.47" x2="152.90" y2="653.47" stroke="#111" stroke-width="1.0"/>
<line x1="150.30" y1="616.16" x2="150.30" y2="605.39" stroke="#111" stroke-width="1.0"/>
<line x1="147.70" y1="605.39" x2="152.90" y2="605.39" stroke="#111" stroke-width="1.0"/>
<line x1="150.30" y1="598.34" x2="150.30" y2="594.61" stroke="#111" stroke-width="1.0"/>
<line x1="147.70" y1="594.61" x2="152.90" y2="594.61" stroke="#111" stroke-width="1.0"/>
<line x1="150.30" y1="577.20" x2="150.30" y2="568.91" stroke="#111" stroke-width="1.0"/>
<line x1="147.70" y1="568.91" x2="152.90" y2="568.91" stroke="#111" stroke-width="1.0"/>
<line x1="168.00" y1="656.87" x2="168.00" y2="650.98" stroke="#111" stroke-width="1.0"/>
<line x1="165.40" y1="650.98" x2="170.60" y2="650.98" stroke="#111" stroke-width="1.0"/>
<line x1="168.00" y1="629.92" x2="168.00" y2="617.82" stroke="#111" stroke-width="1.0"/>
<line x1="165.40" y1="617.82" x2="170.60" y2="617.82" stroke="#111" stroke-width="1.0"/>
<line x1="168.00" y1="607.21" x2="168.00" y2="604.14" stroke="#111" stroke-width="1.0"/>
<line x1="165.40" y1="604.14" x2="170.60" y2="604.14" stroke="#111" stroke-width="1.0"/>
<line x1="168.00" y1="577.20" x2="168.00" y2="568.91" stroke="#111" stroke-width="1.0"/>
<line x1="165.40" y1="568.91" x2="170.60" y2="568.91" stroke="#111" stroke-width="1.0"/>
<line x1="185.70" y1="659.27" x2="185.70" y2="658.44" stroke="#111" stroke-width="1.0"/>
<line x1="183.10" y1="658.44" x2="188.30" y2="658.44" stroke="#111" stroke-width="1.0"/>
<line x1="185.70" y1="638.55" x2="185.70" y2="631.09" stroke="#111" stroke-width="1.0"/>
<line x1="183.10" y1="631.09" x2="188.30" y2="631.09" stroke="#111" stroke-width="1.0"/>
<line x1="185.70" y1="610.36" x2="185.70" y2="604.14" stroke="#111" stroke-width="1.0"/>
<line x1="183.10" y1="604.14" x2="188.30" y2="604.14" stroke="#111" stroke-width="1.0"/>
<line x1="185.70" y1="577.20" x2="185.70" y2="571.40" stroke="#111" stroke-width="1.0"/>
<line x1="183.10" y1="571.40" x2="188.30" y2="571.40" stroke="#111" stroke-width="1.0"/>
<line x1="50.70" y1="562.50" x2="50.70" y2="660.10" stroke="#111" stroke-width="1.1"/>
<line x1="50.70" y1="660.50" x2="198.90" y2="660.50" stroke="#111" stroke-width="1.2"/>
<line x1="47.70" y1="660.10" x2="50.70" y2="660.10" stroke="#111" stroke-width="1"/>
<text x="45.10" y="663.00" font-size="8.2" text-anchor="end" fill="#000" stroke="#000" stroke-width="0.08">0</text>
<line x1="47.70" y1="643.52" x2="50.70" y2="643.52" stroke="#111" stroke-width="1"/>
<text x="45.10" y="646.42" font-size="8.2" text-anchor="end" fill="#000" stroke="#000" stroke-width="0.08">20</text>
<line x1="47.70" y1="626.94" x2="50.70" y2="626.94" stroke="#111" stroke-width="1"/>
<text x="45.10" y="629.84" font-size="8.2" text-anchor="end" fill="#000" stroke="#000" stroke-width="0.08">40</text>
<line x1="47.70" y1="610.36" x2="50.70" y2="610.36" stroke="#111" stroke-width="1"/>
<text x="45.10" y="613.26" font-size="8.2" text-anchor="end" fill="#000" stroke="#000" stroke-width="0.08">60</text>
<line x1="47.70" y1="593.78" x2="50.70" y2="593.78" stroke="#111" stroke-width="1"/>
<text x="45.10" y="596.68" font-size="8.2" text-anchor="end" fill="#000" stroke="#000" stroke-width="0.08">80</text>
<line x1="47.70" y1="577.20" x2="50.70" y2="577.20" stroke="#111" stroke-width="1"/>
<text x="45.10" y="580.10" font-size="8.2" text-anchor="end" fill="#000" stroke="#000" stroke-width="0.08">100</text>
<line x1="61.80" y1="660.10" x2="61.80" y2="662.60" stroke="#111" stroke-width="1"/>
<line x1="79.50" y1="660.10" x2="79.50" y2="662.60" stroke="#111" stroke-width="1"/>
<line x1="97.20" y1="660.10" x2="97.20" y2="662.60" stroke="#111" stroke-width="1"/>
<line x1="114.90" y1="660.10" x2="114.90" y2="662.60" stroke="#111" stroke-width="1"/>
<line x1="132.60" y1="660.10" x2="132.60" y2="662.60" stroke="#111" stroke-width="1"/>
<line x1="150.30" y1="660.10" x2="150.30" y2="662.60" stroke="#111" stroke-width="1"/>
<line x1="168.00" y1="660.10" x2="168.00" y2="662.60" stroke="#111" stroke-width="1"/>
<line x1="185.70" y1="660.10" x2="185.70" y2="662.60" stroke="#111" stroke-width="1"/>
<text x="124.00" y="685.60" font-size="9" text-anchor="middle" fill="#000" stroke="#000" stroke-width="0.3" textLength="53" lengthAdjust="spacingAndGlyphs">Time (days in EM)</text>
<text x="0" y="0" font-size="8.7" text-anchor="middle" fill="#000" stroke="#000" stroke-width="0.3" textLength="49" lengthAdjust="spacingAndGlyphs" transform="translate(24.10,611.70) rotate(-90)">Cells in gate (%)</text>
<rect x="201.60" y="563.80" width="10.00" height="5.00" fill="#50256f" stroke="none" stroke-width="1"/>
<text x="214.50" y="569.10" font-size="7.8" fill="#000" stroke="#000" stroke-width="0.08">P4</text>
<rect x="201.60" y="575.40" width="10.00" height="5.00" fill="#6aab45" stroke="none" stroke-width="1"/>
<text x="214.50" y="580.70" font-size="7.8" fill="#000" stroke="#000" stroke-width="0.08">P3</text>
<rect x="201.60" y="587.00" width="10.00" height="5.00" fill="#2c4f89" stroke="none" stroke-width="1"/>
<text x="214.50" y="592.30" font-size="7.8" fill="#000" stroke="#000" stroke-width="0.08">P2</text>
<rect x="201.60" y="598.60" width="10.00" height="5.00" fill="#a8102e" stroke="none" stroke-width="1"/>
<text x="214.50" y="603.90" font-size="7.8" fill="#000" stroke="#000" stroke-width="0.08">P1</text>
<text x="240.60" y="558.20" font-size="11.4" font-weight="bold" fill="#000" stroke="#000" stroke-width="0.08">E</text>
<text x="358.00" y="556.30" font-size="9.2" text-anchor="middle" fill="#000" stroke="#000" stroke-width="0.08" textLength="26" lengthAdjust="spacingAndGlyphs">G-Rex</text>
<rect x="289.40" y="625.61" width="11.40" height="34.49" fill="#a8102e" stroke="none" stroke-width="1"/>
<rect x="289.40" y="578.86" width="11.40" height="46.76" fill="#2c4f89" stroke="none" stroke-width="1"/>
<rect x="289.40" y="577.20" width="11.40" height="1.66" fill="#6aab45" stroke="none" stroke-width="1"/>
<text x="295.10" y="673.30" font-size="8.2" text-anchor="middle" fill="#000" stroke="#000" stroke-width="0.08">7</text>
<rect x="307.10" y="618.65" width="11.40" height="41.45" fill="#a8102e" stroke="none" stroke-width="1"/>
<rect x="307.10" y="580.10" width="11.40" height="38.55" fill="#2c4f89" stroke="none" stroke-width="1"/>
<rect x="307.10" y="577.20" width="11.40" height="2.90" fill="#6aab45" stroke="none" stroke-width="1"/>
<text x="312.80" y="673.30" font-size="8.2" text-anchor="middle" fill="#000" stroke="#000" stroke-width="0.08">9</text>
<rect x="324.80" y="625.61" width="11.40" height="34.49" fill="#a8102e" stroke="none" stroke-width="1"/>
<rect x="324.80" y="584.66" width="11.40" height="40.95" fill="#2c4f89" stroke="none" stroke-width="1"/>
<rect x="324.80" y="579.44" width="11.40" height="5.22" fill="#6aab45" stroke="none" stroke-width="1"/>
<rect x="324.80" y="577.20" width="11.40" height="2.24" fill="#50256f" stroke="none" stroke-width="1"/>
<text x="330.50" y="673.30" font-size="8.2" text-anchor="middle" fill="#000" stroke="#000" stroke-width="0.08">12</text>
<rect x="342.50" y="639.71" width="11.40" height="20.39" fill="#a8102e" stroke="none" stroke-width="1"/>
<rect x="342.50" y="594.19" width="11.40" height="45.51" fill="#2c4f89" stroke="none" stroke-width="1"/>
<rect x="342.50" y="581.93" width="11.40" height="12.27" fill="#6aab45" stroke="none" stroke-width="1"/>
<rect x="342.50" y="577.20" width="11.40" height="4.73" fill="#50256f" stroke="none" stroke-width="1"/>
<text x="348.20" y="673.30" font-size="8.2" text-anchor="middle" fill="#000" stroke="#000" stroke-width="0.08">14</text>
<rect x="360.20" y="646.42" width="11.40" height="13.68" fill="#a8102e" stroke="none" stroke-width="1"/>
<rect x="360.20" y="584.99" width="11.40" height="61.43" fill="#2c4f89" stroke="none" stroke-width="1"/>
<rect x="360.20" y="579.69" width="11.40" height="5.31" fill="#6aab45" stroke="none" stroke-width="1"/>
<rect x="360.20" y="577.20" width="11.40" height="2.49" fill="#50256f" stroke="none" stroke-width="1"/>
<text x="365.90" y="673.30" font-size="8.2" text-anchor="middle" fill="#000" stroke="#000" stroke-width="0.08">16</text>
<rect x="377.90" y="646.42" width="11.40" height="13.68" fill="#a8102e" stroke="none" stroke-width="1"/>
<rect x="377.90" y="585.49" width="11.40" height="60.93" fill="#2c4f89" stroke="none" stroke-width="1"/>
<rect x="377.90" y="579.27" width="11.40" height="6.22" fill="#6aab45" stroke="none" stroke-width="1"/>
<rect x="377.90" y="577.20" width="11.40" height="2.07" fill="#50256f" stroke="none" stroke-width="1"/>
<text x="383.60" y="673.30" font-size="8.2" text-anchor="middle" fill="#000" stroke="#000" stroke-width="0.08">20</text>
<rect x="395.60" y="653.22" width="11.40" height="6.88" fill="#a8102e" stroke="none" stroke-width="1"/>
<rect x="395.60" y="603.23" width="11.40" height="49.99" fill="#2c4f89" stroke="none" stroke-width="1"/>
<rect x="395.60" y="584.99" width="11.40" height="18.24" fill="#6aab45" stroke="none" stroke-width="1"/>
<rect x="395.60" y="577.20" width="11.40" height="7.79" fill="#50256f" stroke="none" stroke-width="1"/>
<text x="401.30" y="673.30" font-size="8.2" text-anchor="middle" fill="#000" stroke="#000" stroke-width="0.08">23</text>
<rect x="413.30" y="655.29" width="11.40" height="4.81" fill="#a8102e" stroke="none" stroke-width="1"/>
<rect x="413.30" y="608.20" width="11.40" height="47.09" fill="#2c4f89" stroke="none" stroke-width="1"/>
<rect x="413.30" y="588.64" width="11.40" height="19.56" fill="#6aab45" stroke="none" stroke-width="1"/>
<rect x="413.30" y="577.20" width="11.40" height="11.44" fill="#50256f" stroke="none" stroke-width="1"/>
<text x="419.00" y="673.30" font-size="8.2" text-anchor="middle" fill="#000" stroke="#000" stroke-width="0.08">26</text>
<line x1="295.10" y1="625.61" x2="295.10" y2="612.85" stroke="#111" stroke-width="1.0"/>
<line x1="292.50" y1="612.85" x2="297.70" y2="612.85" stroke="#111" stroke-width="1.0"/>
<line x1="295.10" y1="577.20" x2="295.10" y2="567.25" stroke="#111" stroke-width="1.0"/>
<line x1="292.50" y1="567.25" x2="297.70" y2="567.25" stroke="#111" stroke-width="1.0"/>
<line x1="295.10" y1="578.86" x2="295.10" y2="575.54" stroke="#111" stroke-width="1.0"/>
<line x1="292.50" y1="575.54" x2="297.70" y2="575.54" stroke="#111" stroke-width="1.0"/>
<line x1="312.80" y1="618.65" x2="312.80" y2="605.39" stroke="#111" stroke-width="1.0"/>
<line x1="310.20" y1="605.39" x2="315.40" y2="605.39" stroke="#111" stroke-width="1.0"/>
<line x1="312.80" y1="577.20" x2="312.80" y2="568.08" stroke="#111" stroke-width="1.0"/>
<line x1="310.20" y1="568.08" x2="315.40" y2="568.08" stroke="#111" stroke-width="1.0"/>
<line x1="312.80" y1="580.10" x2="312.80" y2="577.20" stroke="#111" stroke-width="1.0"/>
<line x1="310.20" y1="577.20" x2="315.40" y2="577.20" stroke="#111" stroke-width="1.0"/>
<line x1="330.50" y1="625.61" x2="330.50" y2="617.82" stroke="#111" stroke-width="1.0"/>
<line x1="327.90" y1="617.82" x2="333.10" y2="617.82" stroke="#111" stroke-width="1.0"/>
<line x1="330.50" y1="577.20" x2="330.50" y2="575.54" stroke="#111" stroke-width="1.0"/>
<line x1="327.90" y1="575.54" x2="333.10" y2="575.54" stroke="#111" stroke-width="1.0"/>
<line x1="330.50" y1="584.66" x2="330.50" y2="581.35" stroke="#111" stroke-width="1.0"/>
<line x1="327.90" y1="581.35" x2="333.10" y2="581.35" stroke="#111" stroke-width="1.0"/>
<line x1="348.20" y1="639.71" x2="348.20" y2="634.40" stroke="#111" stroke-width="1.0"/>
<line x1="345.60" y1="634.40" x2="350.80" y2="634.40" stroke="#111" stroke-width="1.0"/>
<line x1="348.20" y1="594.19" x2="348.20" y2="592.12" stroke="#111" stroke-width="1.0"/>
<line x1="345.60" y1="592.12" x2="350.80" y2="592.12" stroke="#111" stroke-width="1.0"/>
<line x1="348.20" y1="577.20" x2="348.20" y2="575.54" stroke="#111" stroke-width="1.0"/>
<line x1="345.60" y1="575.54" x2="350.80" y2="575.54" stroke="#111" stroke-width="1.0"/>
<line x1="365.90" y1="646.42" x2="365.90" y2="641.45" stroke="#111" stroke-width="1.0"/>
<line x1="363.30" y1="641.45" x2="368.50" y2="641.45" stroke="#111" stroke-width="1.0"/>
<line x1="365.90" y1="577.20" x2="365.90" y2="576.37" stroke="#111" stroke-width="1.0"/>
<line x1="363.30" y1="576.37" x2="368.50" y2="576.37" stroke="#111" stroke-width="1.0"/>
<line x1="365.90" y1="584.99" x2="365.90" y2="583.00" stroke="#111" stroke-width="1.0"/>
<line x1="363.30" y1="583.00" x2="368.50" y2="583.00" stroke="#111" stroke-width="1.0"/>
<line x1="383.60" y1="646.42" x2="383.60" y2="642.69" stroke="#111" stroke-width="1.0"/>
<line x1="381.00" y1="642.69" x2="386.20" y2="642.69" stroke="#111" stroke-width="1.0"/>
<line x1="383.60" y1="577.20" x2="383.60" y2="576.37" stroke="#111" stroke-width="1.0"/>
<line x1="381.00" y1="576.37" x2="386.20" y2="576.37" stroke="#111" stroke-width="1.0"/>
<line x1="383.60" y1="585.49" x2="383.60" y2="578.86" stroke="#111" stroke-width="1.0"/>
<line x1="381.00" y1="578.86" x2="386.20" y2="578.86" stroke="#111" stroke-width="1.0"/>
<line x1="401.30" y1="653.22" x2="401.30" y2="647.67" stroke="#111" stroke-width="1.0"/>
<line x1="398.70" y1="647.67" x2="403.90" y2="647.67" stroke="#111" stroke-width="1.0"/>
<line x1="401.30" y1="603.23" x2="401.30" y2="591.87" stroke="#111" stroke-width="1.0"/>
<line x1="398.70" y1="591.87" x2="403.90" y2="591.87" stroke="#111" stroke-width="1.0"/>
<line x1="401.30" y1="584.99" x2="401.30" y2="581.35" stroke="#111" stroke-width="1.0"/>
<line x1="398.70" y1="581.35" x2="403.90" y2="581.35" stroke="#111" stroke-width="1.0"/>
<line x1="401.30" y1="577.20" x2="401.30" y2="571.65" stroke="#111" stroke-width="1.0"/>
<line x1="398.70" y1="571.65" x2="403.90" y2="571.65" stroke="#111" stroke-width="1.0"/>
<line x1="419.00" y1="655.29" x2="419.00" y2="654.30" stroke="#111" stroke-width="1.0"/>
<line x1="416.40" y1="654.30" x2="421.60" y2="654.30" stroke="#111" stroke-width="1.0"/>
<line x1="419.00" y1="608.20" x2="419.00" y2="589.63" stroke="#111" stroke-width="1.0"/>
<line x1="416.40" y1="589.63" x2="421.60" y2="589.63" stroke="#111" stroke-width="1.0"/>
<line x1="419.00" y1="588.64" x2="419.00" y2="583.00" stroke="#111" stroke-width="1.0"/>
<line x1="416.40" y1="583.00" x2="421.60" y2="583.00" stroke="#111" stroke-width="1.0"/>
<line x1="419.00" y1="577.20" x2="419.00" y2="566.42" stroke="#111" stroke-width="1.0"/>
<line x1="416.40" y1="566.42" x2="421.60" y2="566.42" stroke="#111" stroke-width="1.0"/>
<line x1="284.00" y1="562.50" x2="284.00" y2="660.10" stroke="#111" stroke-width="1.1"/>
<line x1="284.00" y1="660.50" x2="432.20" y2="660.50" stroke="#111" stroke-width="1.2"/>
<line x1="281.00" y1="660.10" x2="284.00" y2="660.10" stroke="#111" stroke-width="1"/>
<text x="278.40" y="663.00" font-size="8.2" text-anchor="end" fill="#000" stroke="#000" stroke-width="0.08">0</text>
<line x1="281.00" y1="643.52" x2="284.00" y2="643.52" stroke="#111" stroke-width="1"/>
<text x="278.40" y="646.42" font-size="8.2" text-anchor="end" fill="#000" stroke="#000" stroke-width="0.08">20</text>
<line x1="281.00" y1="626.94" x2="284.00" y2="626.94" stroke="#111" stroke-width="1"/>
<text x="278.40" y="629.84" font-size="8.2" text-anchor="end" fill="#000" stroke="#000" stroke-width="0.08">40</text>
<line x1="281.00" y1="610.36" x2="284.00" y2="610.36" stroke="#111" stroke-width="1"/>
<text x="278.40" y="613.26" font-size="8.2" text-anchor="end" fill="#000" stroke="#000" stroke-width="0.08">60</text>
<line x1="281.00" y1="593.78" x2="284.00" y2="593.78" stroke="#111" stroke-width="1"/>
<text x="278.40" y="596.68" font-size="8.2" text-anchor="end" fill="#000" stroke="#000" stroke-width="0.08">80</text>
<line x1="281.00" y1="577.20" x2="284.00" y2="577.20" stroke="#111" stroke-width="1"/>
<text x="278.40" y="580.10" font-size="8.2" text-anchor="end" fill="#000" stroke="#000" stroke-width="0.08">100</text>
<line x1="295.10" y1="660.10" x2="295.10" y2="662.60" stroke="#111" stroke-width="1"/>
<line x1="312.80" y1="660.10" x2="312.80" y2="662.60" stroke="#111" stroke-width="1"/>
<line x1="330.50" y1="660.10" x2="330.50" y2="662.60" stroke="#111" stroke-width="1"/>
<line x1="348.20" y1="660.10" x2="348.20" y2="662.60" stroke="#111" stroke-width="1"/>
<line x1="365.90" y1="660.10" x2="365.90" y2="662.60" stroke="#111" stroke-width="1"/>
<line x1="383.60" y1="660.10" x2="383.60" y2="662.60" stroke="#111" stroke-width="1"/>
<line x1="401.30" y1="660.10" x2="401.30" y2="662.60" stroke="#111" stroke-width="1"/>
<line x1="419.00" y1="660.10" x2="419.00" y2="662.60" stroke="#111" stroke-width="1"/>
<text x="357.30" y="685.60" font-size="9" text-anchor="middle" fill="#000" stroke="#000" stroke-width="0.3" textLength="53" lengthAdjust="spacingAndGlyphs">Time (days in EM)</text>
<text x="0" y="0" font-size="8.7" text-anchor="middle" fill="#000" stroke="#000" stroke-width="0.3" textLength="49" lengthAdjust="spacingAndGlyphs" transform="translate(257.40,611.70) rotate(-90)">Cells in gate (%)</text>
<rect x="434.90" y="563.80" width="10.00" height="5.00" fill="#50256f" stroke="none" stroke-width="1"/>
<text x="447.80" y="569.10" font-size="7.8" fill="#000" stroke="#000" stroke-width="0.08">P4</text>
<rect x="434.90" y="575.40" width="10.00" height="5.00" fill="#6aab45" stroke="none" stroke-width="1"/>
<text x="447.80" y="580.70" font-size="7.8" fill="#000" stroke="#000" stroke-width="0.08">P3</text>
<rect x="434.90" y="587.00" width="10.00" height="5.00" fill="#2c4f89" stroke="none" stroke-width="1"/>
<text x="447.80" y="592.30" font-size="7.8" fill="#000" stroke="#000" stroke-width="0.08">P2</text>
<rect x="434.90" y="598.60" width="10.00" height="5.00" fill="#a8102e" stroke="none" stroke-width="1"/>
<text x="447.80" y="603.90" font-size="7.8" fill="#000" stroke="#000" stroke-width="0.08">P1</text>
<text x="432.60" y="666.80" font-size="8.8" fill="#707070" font-family="Liberation Serif, serif">79</text>
<rect x="0" y="0" width="520" height="1.1" fill="#000"/>
<rect x="0" y="0" width="1.3" height="695" fill="#000"/>
<rect x="518.3" y="0" width="1.7" height="695" fill="#000"/>
<rect x="0" y="693.4" width="520" height="1.6" fill="#000"/>
</svg></body></html>
